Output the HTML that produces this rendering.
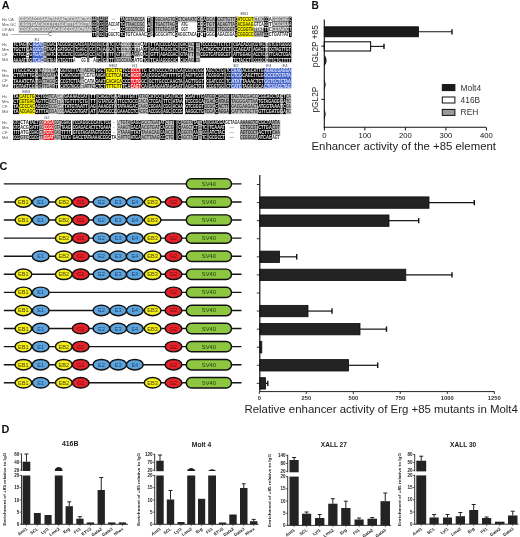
<!DOCTYPE html>
<html><head><meta charset="utf-8"><style>
html,body{margin:0;padding:0;background:#fff;width:520px;height:537px;overflow:hidden;}
svg{display:block;will-change:transform;}
</style></head><body>
<svg width="520" height="537" viewBox="0 0 520 537" font-family='"Liberation Sans", sans-serif'>
<rect width="520" height="537" fill="#fff"/>
<text x="1.7" y="8.7" font-size="10.9" font-weight="bold" fill="#111">A</text>
<text x="2" y="20.50" font-size="4.1" fill="#505050">Hs CA</text>
<rect x="18.80" y="16.70" width="73.50" height="5.70" fill="#8e8e8e"/>
<rect x="92.00" y="16.70" width="4.80" height="5.70" fill="#0a0a0a"/>
<rect x="96.50" y="16.70" width="2.80" height="5.70" fill="#bababa"/>
<rect x="99.00" y="16.70" width="4.80" height="5.70" fill="#0a0a0a"/>
<rect x="103.50" y="16.70" width="2.30" height="5.70" fill="#707070"/>
<rect x="105.50" y="16.70" width="2.80" height="5.70" fill="#0a0a0a"/>
<rect x="108.00" y="16.70" width="12.30" height="5.70" fill="#ffffff"/>
<rect x="120.00" y="16.70" width="5.30" height="5.70" fill="#0a0a0a"/>
<rect x="125.00" y="16.70" width="20.30" height="5.70" fill="#bababa"/>
<rect x="145.00" y="16.70" width="2.30" height="5.70" fill="#ffffff"/>
<rect x="147.00" y="16.70" width="3.80" height="5.70" fill="#0a0a0a"/>
<rect x="150.50" y="16.70" width="2.80" height="5.70" fill="#bababa"/>
<rect x="153.00" y="16.70" width="2.30" height="5.70" fill="#0a0a0a"/>
<rect x="155.00" y="16.70" width="20.30" height="5.70" fill="#bababa"/>
<rect x="175.00" y="16.70" width="2.80" height="5.70" fill="#0a0a0a"/>
<rect x="177.50" y="16.70" width="19.80" height="5.70" fill="#bababa"/>
<rect x="197.00" y="16.70" width="3.30" height="5.70" fill="#0a0a0a"/>
<rect x="200.00" y="16.70" width="3.30" height="5.70" fill="#707070"/>
<rect x="203.00" y="16.70" width="3.30" height="5.70" fill="#0a0a0a"/>
<rect x="206.00" y="16.70" width="9.30" height="5.70" fill="#bababa"/>
<rect x="215.00" y="16.70" width="2.30" height="5.70" fill="#0a0a0a"/>
<rect x="217.00" y="16.70" width="18.30" height="5.70" fill="#bababa"/>
<rect x="235.00" y="16.70" width="2.60" height="5.70" fill="#0a0a0a"/>
<rect x="237.30" y="16.70" width="16.70" height="5.70" fill="#f8f000"/>
<rect x="253.70" y="16.70" width="10.60" height="5.70" fill="#707070"/>
<rect x="264.00" y="16.70" width="4.80" height="5.70" fill="#0a0a0a"/>
<rect x="268.50" y="16.70" width="3.80" height="5.70" fill="#ffffff"/>
<rect x="272.00" y="16.70" width="17.30" height="5.70" fill="#707070"/>
<rect x="289.00" y="16.70" width="2.70" height="5.70" fill="#0a0a0a"/>
<text x="19.00" y="21.10" font-size="5.3" font-weight="bold" fill="#f6f6f6" textLength="72.80" lengthAdjust="spacingAndGlyphs">GGAGACCCGAACTACAACTCCAAACTGG</text>
<text x="92.20" y="21.10" font-size="5.3" font-weight="bold" fill="#f0f0f0" textLength="4.10" lengthAdjust="spacingAndGlyphs">AA</text>
<text x="96.70" y="21.10" font-size="5.3" font-weight="bold" fill="#303030" textLength="2.10" lengthAdjust="spacingAndGlyphs">A</text>
<text x="99.20" y="21.10" font-size="5.3" font-weight="bold" fill="#f0f0f0" textLength="4.10" lengthAdjust="spacingAndGlyphs">AA</text>
<text x="105.70" y="21.10" font-size="5.3" font-weight="bold" fill="#f0f0f0" textLength="2.10" lengthAdjust="spacingAndGlyphs">A</text>
<line x1="111.60" y1="19.25" x2="115.20" y2="19.25" stroke="#888" stroke-width="0.5"/>
<text x="120.20" y="21.10" font-size="5.3" font-weight="bold" fill="#f0f0f0" textLength="4.60" lengthAdjust="spacingAndGlyphs">TA</text>
<text x="125.20" y="21.10" font-size="5.3" font-weight="bold" fill="#303030" textLength="19.60" lengthAdjust="spacingAndGlyphs">CGTAGCCA</text>
<text x="147.20" y="21.10" font-size="5.3" font-weight="bold" fill="#f0f0f0" textLength="3.10" lengthAdjust="spacingAndGlyphs">T</text>
<text x="150.70" y="21.10" font-size="5.3" font-weight="bold" fill="#303030" textLength="2.10" lengthAdjust="spacingAndGlyphs">C</text>
<text x="155.20" y="21.10" font-size="5.3" font-weight="bold" fill="#303030" textLength="19.60" lengthAdjust="spacingAndGlyphs">GGCAAGTG</text>
<text x="175.20" y="21.10" font-size="5.3" font-weight="bold" fill="#f0f0f0" textLength="2.10" lengthAdjust="spacingAndGlyphs">C</text>
<text x="177.70" y="21.10" font-size="5.3" font-weight="bold" fill="#303030" textLength="19.10" lengthAdjust="spacingAndGlyphs">CTCAAATC</text>
<text x="197.20" y="21.10" font-size="5.3" font-weight="bold" fill="#f0f0f0" textLength="2.60" lengthAdjust="spacingAndGlyphs">G</text>
<text x="200.20" y="21.10" font-size="5.3" font-weight="bold" fill="#f4f4f4" textLength="2.60" lengthAdjust="spacingAndGlyphs">C</text>
<text x="203.20" y="21.10" font-size="5.3" font-weight="bold" fill="#f0f0f0" textLength="2.60" lengthAdjust="spacingAndGlyphs">A</text>
<text x="206.20" y="21.10" font-size="5.3" font-weight="bold" fill="#303030" textLength="8.60" lengthAdjust="spacingAndGlyphs">GCA</text>
<text x="217.20" y="21.10" font-size="5.3" font-weight="bold" fill="#303030" textLength="17.60" lengthAdjust="spacingAndGlyphs">CGTTGTT</text>
<text x="235.20" y="21.10" font-size="5.3" font-weight="bold" fill="#f0f0f0" textLength="1.90" lengthAdjust="spacingAndGlyphs">C</text>
<text x="237.50" y="21.10" font-size="5.3" font-weight="bold" fill="#303000" textLength="16.00" lengthAdjust="spacingAndGlyphs">ATCCGT</text>
<text x="253.90" y="21.10" font-size="5.3" font-weight="bold" fill="#f4f4f4" textLength="9.90" lengthAdjust="spacingAndGlyphs">CTAC</text>
<text x="264.20" y="21.10" font-size="5.3" font-weight="bold" fill="#f0f0f0" textLength="4.10" lengthAdjust="spacingAndGlyphs">CC</text>
<text x="268.70" y="21.10" font-size="5.3" font-weight="bold" fill="#202020" textLength="3.10" lengthAdjust="spacingAndGlyphs">A</text>
<text x="272.20" y="21.10" font-size="5.3" font-weight="bold" fill="#f4f4f4" textLength="16.60" lengthAdjust="spacingAndGlyphs">GGGCAAG</text>
<text x="289.20" y="21.10" font-size="5.3" font-weight="bold" fill="#f0f0f0" textLength="2.00" lengthAdjust="spacingAndGlyphs">C</text>
<text x="2" y="25.60" font-size="4.1" fill="#505050">Mm GC</text>
<rect x="18.80" y="21.80" width="73.50" height="5.70" fill="#8e8e8e"/>
<rect x="92.00" y="21.80" width="4.80" height="5.70" fill="#0a0a0a"/>
<rect x="96.50" y="21.80" width="2.80" height="5.70" fill="#bababa"/>
<rect x="99.00" y="21.80" width="4.80" height="5.70" fill="#0a0a0a"/>
<rect x="103.50" y="21.80" width="2.30" height="5.70" fill="#707070"/>
<rect x="105.50" y="21.80" width="2.80" height="5.70" fill="#0a0a0a"/>
<rect x="108.00" y="21.80" width="12.30" height="5.70" fill="#ffffff"/>
<rect x="120.00" y="21.80" width="5.30" height="5.70" fill="#0a0a0a"/>
<rect x="125.00" y="21.80" width="20.30" height="5.70" fill="#bababa"/>
<rect x="145.00" y="21.80" width="2.30" height="5.70" fill="#ffffff"/>
<rect x="147.00" y="21.80" width="3.80" height="5.70" fill="#0a0a0a"/>
<rect x="150.50" y="21.80" width="2.80" height="5.70" fill="#bababa"/>
<rect x="153.00" y="21.80" width="2.30" height="5.70" fill="#0a0a0a"/>
<rect x="155.00" y="21.80" width="20.30" height="5.70" fill="#bababa"/>
<rect x="175.00" y="21.80" width="2.80" height="5.70" fill="#0a0a0a"/>
<rect x="181.00" y="21.80" width="7.30" height="5.70" fill="#ffffff"/>
<rect x="197.00" y="21.80" width="3.30" height="5.70" fill="#0a0a0a"/>
<rect x="200.00" y="21.80" width="3.30" height="5.70" fill="#707070"/>
<rect x="203.00" y="21.80" width="3.30" height="5.70" fill="#0a0a0a"/>
<rect x="206.00" y="21.80" width="9.30" height="5.70" fill="#bababa"/>
<rect x="215.00" y="21.80" width="2.30" height="5.70" fill="#0a0a0a"/>
<rect x="217.00" y="21.80" width="18.30" height="5.70" fill="#bababa"/>
<rect x="235.00" y="21.80" width="2.60" height="5.70" fill="#0a0a0a"/>
<rect x="237.30" y="21.80" width="16.70" height="5.70" fill="#f8f000"/>
<rect x="253.70" y="21.80" width="10.60" height="5.70" fill="#ffffff"/>
<rect x="264.00" y="21.80" width="4.80" height="5.70" fill="#0a0a0a"/>
<rect x="268.50" y="21.80" width="3.80" height="5.70" fill="#ffffff"/>
<rect x="272.00" y="21.80" width="17.30" height="5.70" fill="#707070"/>
<rect x="289.00" y="21.80" width="2.70" height="5.70" fill="#0a0a0a"/>
<text x="19.00" y="26.20" font-size="5.3" font-weight="bold" fill="#f6f6f6" textLength="72.80" lengthAdjust="spacingAndGlyphs">CAGGTGACACCCTCTGCATTTGAGCTTA</text>
<text x="92.20" y="26.20" font-size="5.3" font-weight="bold" fill="#f0f0f0" textLength="4.10" lengthAdjust="spacingAndGlyphs">GG</text>
<text x="96.70" y="26.20" font-size="5.3" font-weight="bold" fill="#303030" textLength="2.10" lengthAdjust="spacingAndGlyphs">A</text>
<text x="99.20" y="26.20" font-size="5.3" font-weight="bold" fill="#f0f0f0" textLength="4.10" lengthAdjust="spacingAndGlyphs">CG</text>
<text x="105.70" y="26.20" font-size="5.3" font-weight="bold" fill="#f0f0f0" textLength="2.10" lengthAdjust="spacingAndGlyphs">G</text>
<text x="108.20" y="26.20" font-size="5.3" font-weight="bold" fill="#202020" textLength="11.60" lengthAdjust="spacingAndGlyphs">ACCAT</text>
<text x="120.20" y="26.20" font-size="5.3" font-weight="bold" fill="#f0f0f0" textLength="4.60" lengthAdjust="spacingAndGlyphs">TG</text>
<text x="125.20" y="26.20" font-size="5.3" font-weight="bold" fill="#303030" textLength="19.60" lengthAdjust="spacingAndGlyphs">TTAACCGC</text>
<text x="147.20" y="26.20" font-size="5.3" font-weight="bold" fill="#f0f0f0" textLength="3.10" lengthAdjust="spacingAndGlyphs">A</text>
<text x="150.70" y="26.20" font-size="5.3" font-weight="bold" fill="#303030" textLength="2.10" lengthAdjust="spacingAndGlyphs">C</text>
<text x="155.20" y="26.20" font-size="5.3" font-weight="bold" fill="#303030" textLength="19.60" lengthAdjust="spacingAndGlyphs">TGACTTAG</text>
<text x="175.20" y="26.20" font-size="5.3" font-weight="bold" fill="#f0f0f0" textLength="2.10" lengthAdjust="spacingAndGlyphs">G</text>
<text x="181.20" y="26.20" font-size="5.3" font-weight="bold" fill="#202020" textLength="6.60" lengthAdjust="spacingAndGlyphs">ATG</text>
<text x="197.20" y="26.20" font-size="5.3" font-weight="bold" fill="#f0f0f0" textLength="2.60" lengthAdjust="spacingAndGlyphs">C</text>
<text x="200.20" y="26.20" font-size="5.3" font-weight="bold" fill="#f4f4f4" textLength="2.60" lengthAdjust="spacingAndGlyphs">G</text>
<text x="203.20" y="26.20" font-size="5.3" font-weight="bold" fill="#f0f0f0" textLength="2.60" lengthAdjust="spacingAndGlyphs">G</text>
<text x="206.20" y="26.20" font-size="5.3" font-weight="bold" fill="#303030" textLength="8.60" lengthAdjust="spacingAndGlyphs">TGT</text>
<text x="217.20" y="26.20" font-size="5.3" font-weight="bold" fill="#303030" textLength="17.60" lengthAdjust="spacingAndGlyphs">ACAGTTA</text>
<text x="235.20" y="26.20" font-size="5.3" font-weight="bold" fill="#f0f0f0" textLength="1.90" lengthAdjust="spacingAndGlyphs">G</text>
<text x="237.50" y="26.20" font-size="5.3" font-weight="bold" fill="#303000" textLength="16.00" lengthAdjust="spacingAndGlyphs">ACGAAG</text>
<text x="253.90" y="26.20" font-size="5.3" font-weight="bold" fill="#202020" textLength="9.90" lengthAdjust="spacingAndGlyphs">GTCA</text>
<text x="264.20" y="26.20" font-size="5.3" font-weight="bold" fill="#f0f0f0" textLength="4.10" lengthAdjust="spacingAndGlyphs">GG</text>
<text x="268.70" y="26.20" font-size="5.3" font-weight="bold" fill="#202020" textLength="3.10" lengthAdjust="spacingAndGlyphs">T</text>
<text x="272.20" y="26.20" font-size="5.3" font-weight="bold" fill="#f4f4f4" textLength="16.60" lengthAdjust="spacingAndGlyphs">ACGCAAA</text>
<text x="289.20" y="26.20" font-size="5.3" font-weight="bold" fill="#f0f0f0" textLength="2.00" lengthAdjust="spacingAndGlyphs">A</text>
<text x="2" y="30.70" font-size="4.1" fill="#505050">CF AG</text>
<rect x="18.80" y="26.90" width="73.50" height="5.70" fill="#8e8e8e"/>
<rect x="92.00" y="26.90" width="4.80" height="5.70" fill="#0a0a0a"/>
<rect x="96.50" y="26.90" width="2.80" height="5.70" fill="#bababa"/>
<rect x="99.00" y="26.90" width="4.80" height="5.70" fill="#0a0a0a"/>
<rect x="103.50" y="26.90" width="2.30" height="5.70" fill="#707070"/>
<rect x="105.50" y="26.90" width="2.80" height="5.70" fill="#0a0a0a"/>
<rect x="108.00" y="26.90" width="12.30" height="5.70" fill="#ffffff"/>
<rect x="120.00" y="26.90" width="5.30" height="5.70" fill="#0a0a0a"/>
<rect x="125.00" y="26.90" width="20.30" height="5.70" fill="#bababa"/>
<rect x="145.00" y="26.90" width="2.30" height="5.70" fill="#ffffff"/>
<rect x="147.00" y="26.90" width="3.80" height="5.70" fill="#0a0a0a"/>
<rect x="150.50" y="26.90" width="2.80" height="5.70" fill="#bababa"/>
<rect x="153.00" y="26.90" width="2.30" height="5.70" fill="#0a0a0a"/>
<rect x="155.00" y="26.90" width="20.30" height="5.70" fill="#bababa"/>
<rect x="175.00" y="26.90" width="2.80" height="5.70" fill="#0a0a0a"/>
<rect x="181.00" y="26.90" width="7.30" height="5.70" fill="#ffffff"/>
<rect x="197.00" y="26.90" width="3.30" height="5.70" fill="#0a0a0a"/>
<rect x="200.00" y="26.90" width="3.30" height="5.70" fill="#707070"/>
<rect x="203.00" y="26.90" width="3.30" height="5.70" fill="#0a0a0a"/>
<rect x="206.00" y="26.90" width="9.30" height="5.70" fill="#bababa"/>
<rect x="215.00" y="26.90" width="2.30" height="5.70" fill="#0a0a0a"/>
<rect x="217.00" y="26.90" width="18.30" height="5.70" fill="#bababa"/>
<rect x="235.00" y="26.90" width="2.60" height="5.70" fill="#0a0a0a"/>
<rect x="237.30" y="26.90" width="16.70" height="5.70" fill="#f8f000"/>
<rect x="253.70" y="26.90" width="10.60" height="5.70" fill="#707070"/>
<rect x="264.00" y="26.90" width="4.80" height="5.70" fill="#0a0a0a"/>
<rect x="268.50" y="26.90" width="3.80" height="5.70" fill="#ffffff"/>
<rect x="272.00" y="26.90" width="17.30" height="5.70" fill="#707070"/>
<rect x="289.00" y="26.90" width="2.70" height="5.70" fill="#0a0a0a"/>
<text x="19.00" y="31.30" font-size="5.3" font-weight="bold" fill="#f6f6f6" textLength="72.80" lengthAdjust="spacingAndGlyphs">CCGAATCTCGCGAACAAGCCGAACTAAG</text>
<text x="92.20" y="31.30" font-size="5.3" font-weight="bold" fill="#f0f0f0" textLength="4.10" lengthAdjust="spacingAndGlyphs">GT</text>
<text x="96.70" y="31.30" font-size="5.3" font-weight="bold" fill="#303030" textLength="2.10" lengthAdjust="spacingAndGlyphs">G</text>
<text x="99.20" y="31.30" font-size="5.3" font-weight="bold" fill="#f0f0f0" textLength="4.10" lengthAdjust="spacingAndGlyphs">AG</text>
<text x="105.70" y="31.30" font-size="5.3" font-weight="bold" fill="#f0f0f0" textLength="2.10" lengthAdjust="spacingAndGlyphs">C</text>
<line x1="111.60" y1="29.45" x2="115.20" y2="29.45" stroke="#888" stroke-width="0.5"/>
<text x="120.20" y="31.30" font-size="5.3" font-weight="bold" fill="#f0f0f0" textLength="4.60" lengthAdjust="spacingAndGlyphs">CC</text>
<text x="125.20" y="31.30" font-size="5.3" font-weight="bold" fill="#303030" textLength="19.60" lengthAdjust="spacingAndGlyphs">CCCCTCGC</text>
<text x="147.20" y="31.30" font-size="5.3" font-weight="bold" fill="#f0f0f0" textLength="3.10" lengthAdjust="spacingAndGlyphs">T</text>
<text x="150.70" y="31.30" font-size="5.3" font-weight="bold" fill="#303030" textLength="2.10" lengthAdjust="spacingAndGlyphs">G</text>
<text x="155.20" y="31.30" font-size="5.3" font-weight="bold" fill="#303030" textLength="19.60" lengthAdjust="spacingAndGlyphs">TTCTGCAT</text>
<text x="175.20" y="31.30" font-size="5.3" font-weight="bold" fill="#f0f0f0" textLength="2.10" lengthAdjust="spacingAndGlyphs">C</text>
<text x="181.20" y="31.30" font-size="5.3" font-weight="bold" fill="#202020" textLength="6.60" lengthAdjust="spacingAndGlyphs">GGT</text>
<text x="197.20" y="31.30" font-size="5.3" font-weight="bold" fill="#f0f0f0" textLength="2.60" lengthAdjust="spacingAndGlyphs">C</text>
<text x="200.20" y="31.30" font-size="5.3" font-weight="bold" fill="#f4f4f4" textLength="2.60" lengthAdjust="spacingAndGlyphs">A</text>
<text x="203.20" y="31.30" font-size="5.3" font-weight="bold" fill="#f0f0f0" textLength="2.60" lengthAdjust="spacingAndGlyphs">C</text>
<text x="206.20" y="31.30" font-size="5.3" font-weight="bold" fill="#303030" textLength="8.60" lengthAdjust="spacingAndGlyphs">TGC</text>
<text x="217.20" y="31.30" font-size="5.3" font-weight="bold" fill="#303030" textLength="17.60" lengthAdjust="spacingAndGlyphs">TTCGGGT</text>
<text x="235.20" y="31.30" font-size="5.3" font-weight="bold" fill="#f0f0f0" textLength="1.90" lengthAdjust="spacingAndGlyphs">C</text>
<text x="237.50" y="31.30" font-size="5.3" font-weight="bold" fill="#303000" textLength="16.00" lengthAdjust="spacingAndGlyphs">CCGGTA</text>
<text x="253.90" y="31.30" font-size="5.3" font-weight="bold" fill="#f4f4f4" textLength="9.90" lengthAdjust="spacingAndGlyphs">TTAT</text>
<text x="264.20" y="31.30" font-size="5.3" font-weight="bold" fill="#f0f0f0" textLength="4.10" lengthAdjust="spacingAndGlyphs">TT</text>
<text x="268.70" y="31.30" font-size="5.3" font-weight="bold" fill="#202020" textLength="3.10" lengthAdjust="spacingAndGlyphs">C</text>
<text x="272.20" y="31.30" font-size="5.3" font-weight="bold" fill="#f4f4f4" textLength="16.60" lengthAdjust="spacingAndGlyphs">CGTAATC</text>
<text x="289.20" y="31.30" font-size="5.3" font-weight="bold" fill="#f0f0f0" textLength="2.00" lengthAdjust="spacingAndGlyphs">T</text>
<text x="2" y="35.80" font-size="4.1" fill="#505050">Md</text>
<rect x="92.00" y="32.00" width="4.80" height="5.10" fill="#0a0a0a"/>
<rect x="96.50" y="32.00" width="2.80" height="5.10" fill="#bababa"/>
<rect x="99.00" y="32.00" width="4.80" height="5.10" fill="#0a0a0a"/>
<rect x="103.50" y="32.00" width="2.30" height="5.10" fill="#707070"/>
<rect x="105.50" y="32.00" width="2.80" height="5.10" fill="#0a0a0a"/>
<rect x="108.00" y="32.00" width="12.30" height="5.10" fill="#ffffff"/>
<rect x="120.00" y="32.00" width="5.30" height="5.10" fill="#0a0a0a"/>
<rect x="125.00" y="32.00" width="22.30" height="5.10" fill="#ffffff"/>
<rect x="147.00" y="32.00" width="3.80" height="5.10" fill="#0a0a0a"/>
<rect x="150.50" y="32.00" width="2.80" height="5.10" fill="#ffffff"/>
<rect x="153.00" y="32.00" width="2.30" height="5.10" fill="#0a0a0a"/>
<rect x="155.00" y="32.00" width="20.30" height="5.10" fill="#ffffff"/>
<rect x="175.00" y="32.00" width="2.80" height="5.10" fill="#0a0a0a"/>
<rect x="177.50" y="32.00" width="19.80" height="5.10" fill="#ffffff"/>
<rect x="197.00" y="32.00" width="3.30" height="5.10" fill="#0a0a0a"/>
<rect x="200.00" y="32.00" width="3.30" height="5.10" fill="#ffffff"/>
<rect x="203.00" y="32.00" width="3.30" height="5.10" fill="#0a0a0a"/>
<rect x="206.00" y="32.00" width="9.30" height="5.10" fill="#ffffff"/>
<rect x="215.00" y="32.00" width="2.30" height="5.10" fill="#0a0a0a"/>
<rect x="217.00" y="32.00" width="18.30" height="5.10" fill="#ffffff"/>
<rect x="235.00" y="32.00" width="2.60" height="5.10" fill="#0a0a0a"/>
<rect x="237.30" y="32.00" width="16.70" height="5.10" fill="#f8f000"/>
<rect x="253.70" y="32.00" width="10.60" height="5.10" fill="#bababa"/>
<rect x="264.00" y="32.00" width="4.80" height="5.10" fill="#0a0a0a"/>
<rect x="268.50" y="32.00" width="20.80" height="5.10" fill="#ffffff"/>
<rect x="289.00" y="32.00" width="2.70" height="5.10" fill="#0a0a0a"/>
<text x="92.20" y="36.40" font-size="5.3" font-weight="bold" fill="#f0f0f0" textLength="4.10" lengthAdjust="spacingAndGlyphs">TT</text>
<text x="96.70" y="36.40" font-size="5.3" font-weight="bold" fill="#303030" textLength="2.10" lengthAdjust="spacingAndGlyphs">A</text>
<text x="99.20" y="36.40" font-size="5.3" font-weight="bold" fill="#f0f0f0" textLength="4.10" lengthAdjust="spacingAndGlyphs">GC</text>
<text x="105.70" y="36.40" font-size="5.3" font-weight="bold" fill="#f0f0f0" textLength="2.10" lengthAdjust="spacingAndGlyphs">T</text>
<text x="108.20" y="36.40" font-size="5.3" font-weight="bold" fill="#202020" textLength="11.60" lengthAdjust="spacingAndGlyphs">GGCTC</text>
<text x="120.20" y="36.40" font-size="5.3" font-weight="bold" fill="#f0f0f0" textLength="4.60" lengthAdjust="spacingAndGlyphs">TC</text>
<text x="125.20" y="36.40" font-size="5.3" font-weight="bold" fill="#202020" textLength="21.60" lengthAdjust="spacingAndGlyphs">TGTCAAAC</text>
<text x="147.20" y="36.40" font-size="5.3" font-weight="bold" fill="#f0f0f0" textLength="3.10" lengthAdjust="spacingAndGlyphs">G</text>
<text x="150.70" y="36.40" font-size="5.3" font-weight="bold" fill="#202020" textLength="2.10" lengthAdjust="spacingAndGlyphs">G</text>
<text x="155.20" y="36.40" font-size="5.3" font-weight="bold" fill="#202020" textLength="19.60" lengthAdjust="spacingAndGlyphs">GCGCATTC</text>
<text x="175.20" y="36.40" font-size="5.3" font-weight="bold" fill="#f0f0f0" textLength="2.10" lengthAdjust="spacingAndGlyphs">G</text>
<text x="177.70" y="36.40" font-size="5.3" font-weight="bold" fill="#202020" textLength="19.10" lengthAdjust="spacingAndGlyphs">AGGCTACA</text>
<text x="197.20" y="36.40" font-size="5.3" font-weight="bold" fill="#f0f0f0" textLength="2.60" lengthAdjust="spacingAndGlyphs">T</text>
<text x="200.20" y="36.40" font-size="5.3" font-weight="bold" fill="#202020" textLength="2.60" lengthAdjust="spacingAndGlyphs">C</text>
<text x="203.20" y="36.40" font-size="5.3" font-weight="bold" fill="#f0f0f0" textLength="2.60" lengthAdjust="spacingAndGlyphs">T</text>
<text x="206.20" y="36.40" font-size="5.3" font-weight="bold" fill="#202020" textLength="8.60" lengthAdjust="spacingAndGlyphs">GGG</text>
<text x="217.20" y="36.40" font-size="5.3" font-weight="bold" fill="#202020" textLength="17.60" lengthAdjust="spacingAndGlyphs">AGACGGA</text>
<text x="235.20" y="36.40" font-size="5.3" font-weight="bold" fill="#f0f0f0" textLength="1.90" lengthAdjust="spacingAndGlyphs">A</text>
<text x="237.50" y="36.40" font-size="5.3" font-weight="bold" fill="#303000" textLength="16.00" lengthAdjust="spacingAndGlyphs">CGGGCC</text>
<text x="253.90" y="36.40" font-size="5.3" font-weight="bold" fill="#303030" textLength="9.90" lengthAdjust="spacingAndGlyphs">GAAT</text>
<text x="264.20" y="36.40" font-size="5.3" font-weight="bold" fill="#f0f0f0" textLength="4.10" lengthAdjust="spacingAndGlyphs">GC</text>
<text x="268.70" y="36.40" font-size="5.3" font-weight="bold" fill="#202020" textLength="20.10" lengthAdjust="spacingAndGlyphs">CTGATTAT</text>
<text x="289.20" y="36.40" font-size="5.3" font-weight="bold" fill="#f0f0f0" textLength="2.00" lengthAdjust="spacingAndGlyphs">T</text>
<text x="2" y="45.83" font-size="4.1" fill="#505050">Hs</text>
<rect x="13.00" y="42.10" width="13.30" height="5.63" fill="#0a0a0a"/>
<rect x="26.00" y="42.10" width="3.30" height="5.63" fill="#707070"/>
<rect x="29.00" y="42.10" width="3.80" height="5.63" fill="#0a0a0a"/>
<rect x="32.50" y="42.10" width="11.10" height="5.63" fill="#4262c4"/>
<rect x="43.30" y="42.10" width="3.50" height="5.63" fill="#bababa"/>
<rect x="46.50" y="42.10" width="9.80" height="5.63" fill="#0a0a0a"/>
<rect x="56.00" y="42.10" width="1.30" height="5.63" fill="#ffffff"/>
<rect x="57.00" y="42.10" width="16.30" height="5.63" fill="#0a0a0a"/>
<rect x="73.00" y="42.10" width="2.30" height="5.63" fill="#707070"/>
<rect x="75.00" y="42.10" width="12.30" height="5.63" fill="#0a0a0a"/>
<rect x="87.00" y="42.10" width="2.30" height="5.63" fill="#707070"/>
<rect x="89.00" y="42.10" width="6.30" height="5.63" fill="#0a0a0a"/>
<rect x="95.00" y="42.10" width="1.80" height="5.63" fill="#707070"/>
<rect x="96.50" y="42.10" width="4.80" height="5.63" fill="#0a0a0a"/>
<rect x="101.00" y="42.10" width="1.80" height="5.63" fill="#707070"/>
<rect x="102.50" y="42.10" width="3.80" height="5.63" fill="#0a0a0a"/>
<rect x="106.00" y="42.10" width="3.30" height="5.63" fill="#707070"/>
<rect x="109.00" y="42.10" width="5.30" height="5.63" fill="#0a0a0a"/>
<rect x="114.00" y="42.10" width="2.30" height="5.63" fill="#707070"/>
<rect x="116.00" y="42.10" width="5.30" height="5.63" fill="#0a0a0a"/>
<rect x="121.00" y="42.10" width="10.30" height="5.63" fill="#707070"/>
<rect x="131.00" y="42.10" width="3.30" height="5.63" fill="#0a0a0a"/>
<rect x="134.00" y="42.10" width="6.30" height="5.63" fill="#707070"/>
<rect x="140.00" y="42.10" width="3.30" height="5.63" fill="#ffffff"/>
<rect x="143.00" y="42.10" width="5.30" height="5.63" fill="#0a0a0a"/>
<rect x="148.00" y="42.10" width="2.30" height="5.63" fill="#707070"/>
<rect x="150.00" y="42.10" width="9.30" height="5.63" fill="#0a0a0a"/>
<rect x="159.00" y="42.10" width="1.30" height="5.63" fill="#707070"/>
<rect x="160.00" y="42.10" width="18.30" height="5.63" fill="#0a0a0a"/>
<rect x="178.00" y="42.10" width="2.30" height="5.63" fill="#707070"/>
<rect x="180.00" y="42.10" width="8.30" height="5.63" fill="#0a0a0a"/>
<rect x="188.00" y="42.10" width="6.30" height="5.63" fill="#bababa"/>
<rect x="194.00" y="42.10" width="2.30" height="5.63" fill="#0a0a0a"/>
<rect x="196.00" y="42.10" width="4.30" height="5.63" fill="#bababa"/>
<rect x="200.00" y="42.10" width="31.30" height="5.63" fill="#0a0a0a"/>
<rect x="231.00" y="42.10" width="2.30" height="5.63" fill="#707070"/>
<rect x="233.00" y="42.10" width="18.30" height="5.63" fill="#0a0a0a"/>
<rect x="251.00" y="42.10" width="2.30" height="5.63" fill="#707070"/>
<rect x="253.00" y="42.10" width="12.30" height="5.63" fill="#0a0a0a"/>
<rect x="265.00" y="42.10" width="3.80" height="5.63" fill="#707070"/>
<rect x="268.50" y="42.10" width="22.80" height="5.63" fill="#0a0a0a"/>
<text x="13.20" y="46.43" font-size="5.3" font-weight="bold" fill="#f0f0f0" textLength="12.60" lengthAdjust="spacingAndGlyphs">TCTAG</text>
<text x="26.20" y="46.43" font-size="5.3" font-weight="bold" fill="#f4f4f4" textLength="2.60" lengthAdjust="spacingAndGlyphs">T</text>
<text x="29.20" y="46.43" font-size="5.3" font-weight="bold" fill="#f0f0f0" textLength="3.10" lengthAdjust="spacingAndGlyphs">C</text>
<text x="32.70" y="46.43" font-size="5.3" font-weight="bold" fill="#e8ecff" textLength="10.40" lengthAdjust="spacingAndGlyphs">AGAT</text>
<text x="43.50" y="46.43" font-size="5.3" font-weight="bold" fill="#303030" textLength="2.80" lengthAdjust="spacingAndGlyphs">G</text>
<text x="46.70" y="46.43" font-size="5.3" font-weight="bold" fill="#f0f0f0" textLength="9.10" lengthAdjust="spacingAndGlyphs">CGAC</text>
<text x="57.20" y="46.43" font-size="5.3" font-weight="bold" fill="#f0f0f0" textLength="15.60" lengthAdjust="spacingAndGlyphs">ACGCGC</text>
<text x="75.20" y="46.43" font-size="5.3" font-weight="bold" fill="#f0f0f0" textLength="11.60" lengthAdjust="spacingAndGlyphs">CACGA</text>
<text x="89.20" y="46.43" font-size="5.3" font-weight="bold" fill="#f0f0f0" textLength="5.60" lengthAdjust="spacingAndGlyphs">AG</text>
<text x="96.70" y="46.43" font-size="5.3" font-weight="bold" fill="#f0f0f0" textLength="4.10" lengthAdjust="spacingAndGlyphs">GG</text>
<text x="102.70" y="46.43" font-size="5.3" font-weight="bold" fill="#f0f0f0" textLength="3.10" lengthAdjust="spacingAndGlyphs">C</text>
<text x="106.20" y="46.43" font-size="5.3" font-weight="bold" fill="#f4f4f4" textLength="2.60" lengthAdjust="spacingAndGlyphs">A</text>
<text x="109.20" y="46.43" font-size="5.3" font-weight="bold" fill="#f0f0f0" textLength="4.60" lengthAdjust="spacingAndGlyphs">TC</text>
<text x="116.20" y="46.43" font-size="5.3" font-weight="bold" fill="#f0f0f0" textLength="4.60" lengthAdjust="spacingAndGlyphs">CA</text>
<text x="121.20" y="46.43" font-size="5.3" font-weight="bold" fill="#f4f4f4" textLength="9.60" lengthAdjust="spacingAndGlyphs">GGCC</text>
<text x="131.20" y="46.43" font-size="5.3" font-weight="bold" fill="#f0f0f0" textLength="2.60" lengthAdjust="spacingAndGlyphs">C</text>
<text x="134.20" y="46.43" font-size="5.3" font-weight="bold" fill="#f4f4f4" textLength="5.60" lengthAdjust="spacingAndGlyphs">CC</text>
<text x="140.20" y="46.43" font-size="5.3" font-weight="bold" fill="#202020" textLength="2.60" lengthAdjust="spacingAndGlyphs">C</text>
<text x="143.20" y="46.43" font-size="5.3" font-weight="bold" fill="#f0f0f0" textLength="4.60" lengthAdjust="spacingAndGlyphs">AT</text>
<text x="150.20" y="46.43" font-size="5.3" font-weight="bold" fill="#f0f0f0" textLength="8.60" lengthAdjust="spacingAndGlyphs">TTA</text>
<text x="160.20" y="46.43" font-size="5.3" font-weight="bold" fill="#f0f0f0" textLength="17.60" lengthAdjust="spacingAndGlyphs">CCCCACC</text>
<text x="180.20" y="46.43" font-size="5.3" font-weight="bold" fill="#f0f0f0" textLength="7.60" lengthAdjust="spacingAndGlyphs">GAC</text>
<text x="188.20" y="46.43" font-size="5.3" font-weight="bold" fill="#303030" textLength="5.60" lengthAdjust="spacingAndGlyphs">AC</text>
<text x="196.20" y="46.43" font-size="5.3" font-weight="bold" fill="#303030" textLength="3.60" lengthAdjust="spacingAndGlyphs">TT</text>
<text x="200.20" y="46.43" font-size="5.3" font-weight="bold" fill="#f0f0f0" textLength="30.60" lengthAdjust="spacingAndGlyphs">TCCCCCTTCTCT</text>
<text x="233.20" y="46.43" font-size="5.3" font-weight="bold" fill="#f0f0f0" textLength="17.60" lengthAdjust="spacingAndGlyphs">CGACACG</text>
<text x="253.20" y="46.43" font-size="5.3" font-weight="bold" fill="#f0f0f0" textLength="11.60" lengthAdjust="spacingAndGlyphs">CGTAC</text>
<text x="265.20" y="46.43" font-size="5.3" font-weight="bold" fill="#f4f4f4" textLength="3.10" lengthAdjust="spacingAndGlyphs">T</text>
<text x="268.70" y="46.43" font-size="5.3" font-weight="bold" fill="#f0f0f0" textLength="22.10" lengthAdjust="spacingAndGlyphs">GTCGTGGGG</text>
<text x="2" y="50.86" font-size="4.1" fill="#505050">Mm</text>
<rect x="13.00" y="47.13" width="13.30" height="5.63" fill="#0a0a0a"/>
<rect x="26.00" y="47.13" width="3.30" height="5.63" fill="#707070"/>
<rect x="29.00" y="47.13" width="3.80" height="5.63" fill="#0a0a0a"/>
<rect x="32.50" y="47.13" width="11.10" height="5.63" fill="#4262c4"/>
<rect x="43.30" y="47.13" width="3.50" height="5.63" fill="#bababa"/>
<rect x="46.50" y="47.13" width="9.80" height="5.63" fill="#0a0a0a"/>
<rect x="56.00" y="47.13" width="1.30" height="5.63" fill="#ffffff"/>
<rect x="57.00" y="47.13" width="16.30" height="5.63" fill="#0a0a0a"/>
<rect x="73.00" y="47.13" width="2.30" height="5.63" fill="#707070"/>
<rect x="75.00" y="47.13" width="12.30" height="5.63" fill="#0a0a0a"/>
<rect x="87.00" y="47.13" width="2.30" height="5.63" fill="#707070"/>
<rect x="89.00" y="47.13" width="6.30" height="5.63" fill="#0a0a0a"/>
<rect x="95.00" y="47.13" width="1.80" height="5.63" fill="#707070"/>
<rect x="96.50" y="47.13" width="4.80" height="5.63" fill="#0a0a0a"/>
<rect x="101.00" y="47.13" width="1.80" height="5.63" fill="#707070"/>
<rect x="102.50" y="47.13" width="3.80" height="5.63" fill="#0a0a0a"/>
<rect x="106.00" y="47.13" width="3.30" height="5.63" fill="#707070"/>
<rect x="109.00" y="47.13" width="5.30" height="5.63" fill="#0a0a0a"/>
<rect x="114.00" y="47.13" width="2.30" height="5.63" fill="#707070"/>
<rect x="116.00" y="47.13" width="5.30" height="5.63" fill="#0a0a0a"/>
<rect x="121.00" y="47.13" width="10.30" height="5.63" fill="#707070"/>
<rect x="131.00" y="47.13" width="3.30" height="5.63" fill="#0a0a0a"/>
<rect x="134.00" y="47.13" width="6.30" height="5.63" fill="#707070"/>
<rect x="140.00" y="47.13" width="3.30" height="5.63" fill="#ffffff"/>
<rect x="143.00" y="47.13" width="5.30" height="5.63" fill="#0a0a0a"/>
<rect x="148.00" y="47.13" width="2.30" height="5.63" fill="#707070"/>
<rect x="150.00" y="47.13" width="9.30" height="5.63" fill="#0a0a0a"/>
<rect x="159.00" y="47.13" width="1.30" height="5.63" fill="#707070"/>
<rect x="160.00" y="47.13" width="18.30" height="5.63" fill="#0a0a0a"/>
<rect x="178.00" y="47.13" width="2.30" height="5.63" fill="#707070"/>
<rect x="180.00" y="47.13" width="8.30" height="5.63" fill="#0a0a0a"/>
<rect x="188.00" y="47.13" width="6.30" height="5.63" fill="#bababa"/>
<rect x="194.00" y="47.13" width="2.30" height="5.63" fill="#0a0a0a"/>
<rect x="196.00" y="47.13" width="4.30" height="5.63" fill="#bababa"/>
<rect x="200.00" y="47.13" width="31.30" height="5.63" fill="#0a0a0a"/>
<rect x="231.00" y="47.13" width="2.30" height="5.63" fill="#707070"/>
<rect x="233.00" y="47.13" width="18.30" height="5.63" fill="#0a0a0a"/>
<rect x="251.00" y="47.13" width="2.30" height="5.63" fill="#707070"/>
<rect x="253.00" y="47.13" width="12.30" height="5.63" fill="#0a0a0a"/>
<rect x="265.00" y="47.13" width="3.80" height="5.63" fill="#707070"/>
<rect x="268.50" y="47.13" width="22.80" height="5.63" fill="#0a0a0a"/>
<text x="13.20" y="51.46" font-size="5.3" font-weight="bold" fill="#f0f0f0" textLength="12.60" lengthAdjust="spacingAndGlyphs">TGCTT</text>
<text x="26.20" y="51.46" font-size="5.3" font-weight="bold" fill="#f4f4f4" textLength="2.60" lengthAdjust="spacingAndGlyphs">C</text>
<text x="29.20" y="51.46" font-size="5.3" font-weight="bold" fill="#f0f0f0" textLength="3.10" lengthAdjust="spacingAndGlyphs">A</text>
<text x="32.70" y="51.46" font-size="5.3" font-weight="bold" fill="#e8ecff" textLength="10.40" lengthAdjust="spacingAndGlyphs">CGGT</text>
<text x="43.50" y="51.46" font-size="5.3" font-weight="bold" fill="#303030" textLength="2.80" lengthAdjust="spacingAndGlyphs">G</text>
<text x="46.70" y="51.46" font-size="5.3" font-weight="bold" fill="#f0f0f0" textLength="9.10" lengthAdjust="spacingAndGlyphs">TACA</text>
<text x="57.20" y="51.46" font-size="5.3" font-weight="bold" fill="#f0f0f0" textLength="15.60" lengthAdjust="spacingAndGlyphs">GATGGC</text>
<text x="75.20" y="51.46" font-size="5.3" font-weight="bold" fill="#f0f0f0" textLength="11.60" lengthAdjust="spacingAndGlyphs">TGAGC</text>
<text x="89.20" y="51.46" font-size="5.3" font-weight="bold" fill="#f0f0f0" textLength="5.60" lengthAdjust="spacingAndGlyphs">CC</text>
<text x="96.70" y="51.46" font-size="5.3" font-weight="bold" fill="#f0f0f0" textLength="4.10" lengthAdjust="spacingAndGlyphs">TA</text>
<text x="102.70" y="51.46" font-size="5.3" font-weight="bold" fill="#f0f0f0" textLength="3.10" lengthAdjust="spacingAndGlyphs">A</text>
<text x="106.20" y="51.46" font-size="5.3" font-weight="bold" fill="#f4f4f4" textLength="2.60" lengthAdjust="spacingAndGlyphs">G</text>
<text x="109.20" y="51.46" font-size="5.3" font-weight="bold" fill="#f0f0f0" textLength="4.60" lengthAdjust="spacingAndGlyphs">CA</text>
<text x="116.20" y="51.46" font-size="5.3" font-weight="bold" fill="#f0f0f0" textLength="4.60" lengthAdjust="spacingAndGlyphs">TC</text>
<text x="121.20" y="51.46" font-size="5.3" font-weight="bold" fill="#f4f4f4" textLength="9.60" lengthAdjust="spacingAndGlyphs">CCTC</text>
<text x="131.20" y="51.46" font-size="5.3" font-weight="bold" fill="#f0f0f0" textLength="2.60" lengthAdjust="spacingAndGlyphs">C</text>
<text x="134.20" y="51.46" font-size="5.3" font-weight="bold" fill="#f4f4f4" textLength="5.60" lengthAdjust="spacingAndGlyphs">TT</text>
<text x="140.20" y="51.46" font-size="5.3" font-weight="bold" fill="#202020" textLength="2.60" lengthAdjust="spacingAndGlyphs">A</text>
<text x="143.20" y="51.46" font-size="5.3" font-weight="bold" fill="#f0f0f0" textLength="4.60" lengthAdjust="spacingAndGlyphs">GT</text>
<text x="150.20" y="51.46" font-size="5.3" font-weight="bold" fill="#f0f0f0" textLength="8.60" lengthAdjust="spacingAndGlyphs">GAG</text>
<text x="160.20" y="51.46" font-size="5.3" font-weight="bold" fill="#f0f0f0" textLength="17.60" lengthAdjust="spacingAndGlyphs">TAGCCAC</text>
<text x="180.20" y="51.46" font-size="5.3" font-weight="bold" fill="#f0f0f0" textLength="7.60" lengthAdjust="spacingAndGlyphs">TGC</text>
<text x="188.20" y="51.46" font-size="5.3" font-weight="bold" fill="#303030" textLength="5.60" lengthAdjust="spacingAndGlyphs">TA</text>
<text x="196.20" y="51.46" font-size="5.3" font-weight="bold" fill="#303030" textLength="3.60" lengthAdjust="spacingAndGlyphs">TG</text>
<text x="200.20" y="51.46" font-size="5.3" font-weight="bold" fill="#f0f0f0" textLength="30.60" lengthAdjust="spacingAndGlyphs">ACTAGCTCATCT</text>
<text x="233.20" y="51.46" font-size="5.3" font-weight="bold" fill="#f0f0f0" textLength="17.60" lengthAdjust="spacingAndGlyphs">CCAGCAT</text>
<text x="253.20" y="51.46" font-size="5.3" font-weight="bold" fill="#f0f0f0" textLength="11.60" lengthAdjust="spacingAndGlyphs">AGACT</text>
<text x="265.20" y="51.46" font-size="5.3" font-weight="bold" fill="#f4f4f4" textLength="3.10" lengthAdjust="spacingAndGlyphs">T</text>
<text x="268.70" y="51.46" font-size="5.3" font-weight="bold" fill="#f0f0f0" textLength="22.10" lengthAdjust="spacingAndGlyphs">CGTAGTTGT</text>
<text x="2" y="55.89" font-size="4.1" fill="#505050">CF</text>
<rect x="13.00" y="52.16" width="13.30" height="5.63" fill="#0a0a0a"/>
<rect x="26.00" y="52.16" width="3.30" height="5.63" fill="#ffffff"/>
<rect x="29.00" y="52.16" width="3.80" height="5.63" fill="#0a0a0a"/>
<rect x="32.50" y="52.16" width="11.10" height="5.63" fill="#4262c4"/>
<rect x="43.30" y="52.16" width="3.50" height="5.63" fill="#bababa"/>
<rect x="46.50" y="52.16" width="9.80" height="5.63" fill="#0a0a0a"/>
<rect x="56.00" y="52.16" width="1.30" height="5.63" fill="#ffffff"/>
<rect x="57.00" y="52.16" width="16.30" height="5.63" fill="#0a0a0a"/>
<rect x="73.00" y="52.16" width="2.30" height="5.63" fill="#707070"/>
<rect x="75.00" y="52.16" width="12.30" height="5.63" fill="#0a0a0a"/>
<rect x="87.00" y="52.16" width="2.30" height="5.63" fill="#707070"/>
<rect x="89.00" y="52.16" width="6.30" height="5.63" fill="#0a0a0a"/>
<rect x="95.00" y="52.16" width="1.80" height="5.63" fill="#707070"/>
<rect x="96.50" y="52.16" width="4.80" height="5.63" fill="#0a0a0a"/>
<rect x="101.00" y="52.16" width="1.80" height="5.63" fill="#707070"/>
<rect x="102.50" y="52.16" width="3.80" height="5.63" fill="#0a0a0a"/>
<rect x="106.00" y="52.16" width="3.30" height="5.63" fill="#707070"/>
<rect x="109.00" y="52.16" width="5.30" height="5.63" fill="#0a0a0a"/>
<rect x="114.00" y="52.16" width="2.30" height="5.63" fill="#707070"/>
<rect x="116.00" y="52.16" width="5.30" height="5.63" fill="#0a0a0a"/>
<rect x="121.00" y="52.16" width="10.30" height="5.63" fill="#707070"/>
<rect x="131.00" y="52.16" width="3.30" height="5.63" fill="#0a0a0a"/>
<rect x="134.00" y="52.16" width="6.30" height="5.63" fill="#bababa"/>
<rect x="140.00" y="52.16" width="3.30" height="5.63" fill="#ffffff"/>
<rect x="143.00" y="52.16" width="5.30" height="5.63" fill="#0a0a0a"/>
<rect x="148.00" y="52.16" width="2.30" height="5.63" fill="#707070"/>
<rect x="150.00" y="52.16" width="9.30" height="5.63" fill="#0a0a0a"/>
<rect x="159.00" y="52.16" width="1.30" height="5.63" fill="#707070"/>
<rect x="160.00" y="52.16" width="18.30" height="5.63" fill="#0a0a0a"/>
<rect x="178.00" y="52.16" width="2.30" height="5.63" fill="#707070"/>
<rect x="180.00" y="52.16" width="8.30" height="5.63" fill="#0a0a0a"/>
<rect x="188.00" y="52.16" width="6.30" height="5.63" fill="#bababa"/>
<rect x="194.00" y="52.16" width="2.30" height="5.63" fill="#0a0a0a"/>
<rect x="196.00" y="52.16" width="4.30" height="5.63" fill="#bababa"/>
<rect x="200.00" y="52.16" width="31.30" height="5.63" fill="#0a0a0a"/>
<rect x="231.00" y="52.16" width="2.30" height="5.63" fill="#707070"/>
<rect x="233.00" y="52.16" width="18.30" height="5.63" fill="#0a0a0a"/>
<rect x="251.00" y="52.16" width="2.30" height="5.63" fill="#707070"/>
<rect x="253.00" y="52.16" width="12.30" height="5.63" fill="#0a0a0a"/>
<rect x="265.00" y="52.16" width="3.80" height="5.63" fill="#707070"/>
<rect x="268.50" y="52.16" width="22.80" height="5.63" fill="#0a0a0a"/>
<text x="13.20" y="56.49" font-size="5.3" font-weight="bold" fill="#f0f0f0" textLength="12.60" lengthAdjust="spacingAndGlyphs">CTTCC</text>
<text x="26.20" y="56.49" font-size="5.3" font-weight="bold" fill="#202020" textLength="2.60" lengthAdjust="spacingAndGlyphs">G</text>
<text x="29.20" y="56.49" font-size="5.3" font-weight="bold" fill="#f0f0f0" textLength="3.10" lengthAdjust="spacingAndGlyphs">G</text>
<text x="32.70" y="56.49" font-size="5.3" font-weight="bold" fill="#e8ecff" textLength="10.40" lengthAdjust="spacingAndGlyphs">TGAT</text>
<text x="43.50" y="56.49" font-size="5.3" font-weight="bold" fill="#303030" textLength="2.80" lengthAdjust="spacingAndGlyphs">A</text>
<text x="46.70" y="56.49" font-size="5.3" font-weight="bold" fill="#f0f0f0" textLength="9.10" lengthAdjust="spacingAndGlyphs">AATC</text>
<text x="57.20" y="56.49" font-size="5.3" font-weight="bold" fill="#f0f0f0" textLength="15.60" lengthAdjust="spacingAndGlyphs">CTCCTC</text>
<text x="75.20" y="56.49" font-size="5.3" font-weight="bold" fill="#f0f0f0" textLength="11.60" lengthAdjust="spacingAndGlyphs">CGGAG</text>
<text x="89.20" y="56.49" font-size="5.3" font-weight="bold" fill="#f0f0f0" textLength="5.60" lengthAdjust="spacingAndGlyphs">CC</text>
<text x="96.70" y="56.49" font-size="5.3" font-weight="bold" fill="#f0f0f0" textLength="4.10" lengthAdjust="spacingAndGlyphs">AC</text>
<text x="102.70" y="56.49" font-size="5.3" font-weight="bold" fill="#f0f0f0" textLength="3.10" lengthAdjust="spacingAndGlyphs">T</text>
<text x="106.20" y="56.49" font-size="5.3" font-weight="bold" fill="#f4f4f4" textLength="2.60" lengthAdjust="spacingAndGlyphs">T</text>
<text x="109.20" y="56.49" font-size="5.3" font-weight="bold" fill="#f0f0f0" textLength="4.60" lengthAdjust="spacingAndGlyphs">TT</text>
<text x="116.20" y="56.49" font-size="5.3" font-weight="bold" fill="#f0f0f0" textLength="4.60" lengthAdjust="spacingAndGlyphs">GT</text>
<text x="121.20" y="56.49" font-size="5.3" font-weight="bold" fill="#f4f4f4" textLength="9.60" lengthAdjust="spacingAndGlyphs">TTGG</text>
<text x="131.20" y="56.49" font-size="5.3" font-weight="bold" fill="#f0f0f0" textLength="2.60" lengthAdjust="spacingAndGlyphs">A</text>
<text x="134.20" y="56.49" font-size="5.3" font-weight="bold" fill="#303030" textLength="5.60" lengthAdjust="spacingAndGlyphs">GA</text>
<text x="140.20" y="56.49" font-size="5.3" font-weight="bold" fill="#202020" textLength="2.60" lengthAdjust="spacingAndGlyphs">G</text>
<text x="143.20" y="56.49" font-size="5.3" font-weight="bold" fill="#f0f0f0" textLength="4.60" lengthAdjust="spacingAndGlyphs">AC</text>
<text x="150.20" y="56.49" font-size="5.3" font-weight="bold" fill="#f0f0f0" textLength="8.60" lengthAdjust="spacingAndGlyphs">GTT</text>
<text x="160.20" y="56.49" font-size="5.3" font-weight="bold" fill="#f0f0f0" textLength="17.60" lengthAdjust="spacingAndGlyphs">AGACGAC</text>
<text x="180.20" y="56.49" font-size="5.3" font-weight="bold" fill="#f0f0f0" textLength="7.60" lengthAdjust="spacingAndGlyphs">GTA</text>
<text x="188.20" y="56.49" font-size="5.3" font-weight="bold" fill="#303030" textLength="5.60" lengthAdjust="spacingAndGlyphs">TT</text>
<text x="196.20" y="56.49" font-size="5.3" font-weight="bold" fill="#303030" textLength="3.60" lengthAdjust="spacingAndGlyphs">TA</text>
<text x="200.20" y="56.49" font-size="5.3" font-weight="bold" fill="#f0f0f0" textLength="30.60" lengthAdjust="spacingAndGlyphs">CGGTCATGGCGT</text>
<text x="233.20" y="56.49" font-size="5.3" font-weight="bold" fill="#f0f0f0" textLength="17.60" lengthAdjust="spacingAndGlyphs">ATTGGAG</text>
<text x="253.20" y="56.49" font-size="5.3" font-weight="bold" fill="#f0f0f0" textLength="11.60" lengthAdjust="spacingAndGlyphs">ACCTC</text>
<text x="265.20" y="56.49" font-size="5.3" font-weight="bold" fill="#f4f4f4" textLength="3.10" lengthAdjust="spacingAndGlyphs">G</text>
<text x="268.70" y="56.49" font-size="5.3" font-weight="bold" fill="#f0f0f0" textLength="22.10" lengthAdjust="spacingAndGlyphs">TTCACTCGA</text>
<text x="2" y="60.92" font-size="4.1" fill="#505050">Md</text>
<rect x="13.00" y="57.19" width="13.30" height="5.03" fill="#0a0a0a"/>
<rect x="26.00" y="57.19" width="3.30" height="5.03" fill="#707070"/>
<rect x="29.00" y="57.19" width="3.80" height="5.03" fill="#0a0a0a"/>
<rect x="32.50" y="57.19" width="11.10" height="5.03" fill="#4262c4"/>
<rect x="43.30" y="57.19" width="3.50" height="5.03" fill="#bababa"/>
<rect x="46.50" y="57.19" width="9.80" height="5.03" fill="#0a0a0a"/>
<rect x="56.00" y="57.19" width="1.30" height="5.03" fill="#ffffff"/>
<rect x="57.00" y="57.19" width="16.30" height="5.03" fill="#0a0a0a"/>
<rect x="73.00" y="57.19" width="2.80" height="5.03" fill="#ffffff"/>
<rect x="81.00" y="57.19" width="5.30" height="5.03" fill="#ffffff"/>
<rect x="87.00" y="57.19" width="2.30" height="5.03" fill="#707070"/>
<rect x="93.00" y="57.19" width="3.30" height="5.03" fill="#ffffff"/>
<rect x="96.50" y="57.19" width="4.80" height="5.03" fill="#0a0a0a"/>
<rect x="101.00" y="57.19" width="1.80" height="5.03" fill="#707070"/>
<rect x="102.50" y="57.19" width="3.80" height="5.03" fill="#0a0a0a"/>
<rect x="106.00" y="57.19" width="3.30" height="5.03" fill="#707070"/>
<rect x="109.00" y="57.19" width="5.30" height="5.03" fill="#0a0a0a"/>
<rect x="114.00" y="57.19" width="2.30" height="5.03" fill="#707070"/>
<rect x="116.00" y="57.19" width="15.30" height="5.03" fill="#bababa"/>
<rect x="131.00" y="57.19" width="3.30" height="5.03" fill="#0a0a0a"/>
<rect x="134.00" y="57.19" width="9.30" height="5.03" fill="#ffffff"/>
<rect x="143.00" y="57.19" width="5.30" height="5.03" fill="#0a0a0a"/>
<rect x="148.00" y="57.19" width="2.30" height="5.03" fill="#707070"/>
<rect x="150.00" y="57.19" width="9.30" height="5.03" fill="#0a0a0a"/>
<rect x="159.00" y="57.19" width="1.30" height="5.03" fill="#707070"/>
<rect x="160.00" y="57.19" width="18.30" height="5.03" fill="#0a0a0a"/>
<rect x="178.00" y="57.19" width="2.30" height="5.03" fill="#ffffff"/>
<rect x="180.00" y="57.19" width="8.30" height="5.03" fill="#0a0a0a"/>
<rect x="188.00" y="57.19" width="6.30" height="5.03" fill="#bababa"/>
<rect x="194.00" y="57.19" width="2.30" height="5.03" fill="#0a0a0a"/>
<rect x="196.00" y="57.19" width="4.30" height="5.03" fill="#bababa"/>
<rect x="230.00" y="57.19" width="2.30" height="5.03" fill="#ffffff"/>
<rect x="233.00" y="57.19" width="18.30" height="5.03" fill="#0a0a0a"/>
<rect x="251.00" y="57.19" width="2.30" height="5.03" fill="#707070"/>
<rect x="253.00" y="57.19" width="12.30" height="5.03" fill="#0a0a0a"/>
<rect x="265.00" y="57.19" width="3.80" height="5.03" fill="#707070"/>
<rect x="268.50" y="57.19" width="22.80" height="5.03" fill="#0a0a0a"/>
<text x="13.20" y="61.52" font-size="5.3" font-weight="bold" fill="#f0f0f0" textLength="12.60" lengthAdjust="spacingAndGlyphs">AAAAT</text>
<text x="26.20" y="61.52" font-size="5.3" font-weight="bold" fill="#f4f4f4" textLength="2.60" lengthAdjust="spacingAndGlyphs">T</text>
<text x="29.20" y="61.52" font-size="5.3" font-weight="bold" fill="#f0f0f0" textLength="3.10" lengthAdjust="spacingAndGlyphs">G</text>
<text x="32.70" y="61.52" font-size="5.3" font-weight="bold" fill="#e8ecff" textLength="10.40" lengthAdjust="spacingAndGlyphs">TCAC</text>
<text x="43.50" y="61.52" font-size="5.3" font-weight="bold" fill="#303030" textLength="2.80" lengthAdjust="spacingAndGlyphs">G</text>
<text x="46.70" y="61.52" font-size="5.3" font-weight="bold" fill="#f0f0f0" textLength="9.10" lengthAdjust="spacingAndGlyphs">GTAA</text>
<text x="57.20" y="61.52" font-size="5.3" font-weight="bold" fill="#f0f0f0" textLength="15.60" lengthAdjust="spacingAndGlyphs">GTCGTT</text>
<text x="73.20" y="61.52" font-size="5.3" font-weight="bold" fill="#202020" textLength="2.10" lengthAdjust="spacingAndGlyphs">A</text>
<text x="81.20" y="61.52" font-size="5.3" font-weight="bold" fill="#202020" textLength="4.60" lengthAdjust="spacingAndGlyphs">GG</text>
<text x="93.20" y="61.52" font-size="5.3" font-weight="bold" fill="#202020" textLength="2.60" lengthAdjust="spacingAndGlyphs">A</text>
<text x="96.70" y="61.52" font-size="5.3" font-weight="bold" fill="#f0f0f0" textLength="4.10" lengthAdjust="spacingAndGlyphs">TC</text>
<text x="102.70" y="61.52" font-size="5.3" font-weight="bold" fill="#f0f0f0" textLength="3.10" lengthAdjust="spacingAndGlyphs">G</text>
<text x="106.20" y="61.52" font-size="5.3" font-weight="bold" fill="#f4f4f4" textLength="2.60" lengthAdjust="spacingAndGlyphs">A</text>
<text x="109.20" y="61.52" font-size="5.3" font-weight="bold" fill="#f0f0f0" textLength="4.60" lengthAdjust="spacingAndGlyphs">TT</text>
<text x="116.20" y="61.52" font-size="5.3" font-weight="bold" fill="#303030" textLength="14.60" lengthAdjust="spacingAndGlyphs">CGCCAA</text>
<text x="131.20" y="61.52" font-size="5.3" font-weight="bold" fill="#f0f0f0" textLength="2.60" lengthAdjust="spacingAndGlyphs">G</text>
<text x="134.20" y="61.52" font-size="5.3" font-weight="bold" fill="#202020" textLength="8.60" lengthAdjust="spacingAndGlyphs">ATG</text>
<text x="143.20" y="61.52" font-size="5.3" font-weight="bold" fill="#f0f0f0" textLength="4.60" lengthAdjust="spacingAndGlyphs">TG</text>
<text x="150.20" y="61.52" font-size="5.3" font-weight="bold" fill="#f0f0f0" textLength="8.60" lengthAdjust="spacingAndGlyphs">TCA</text>
<text x="160.20" y="61.52" font-size="5.3" font-weight="bold" fill="#f0f0f0" textLength="17.60" lengthAdjust="spacingAndGlyphs">AGGGCAC</text>
<text x="180.20" y="61.52" font-size="5.3" font-weight="bold" fill="#f0f0f0" textLength="7.60" lengthAdjust="spacingAndGlyphs">CAG</text>
<text x="188.20" y="61.52" font-size="5.3" font-weight="bold" fill="#303030" textLength="5.60" lengthAdjust="spacingAndGlyphs">AG</text>
<text x="196.20" y="61.52" font-size="5.3" font-weight="bold" fill="#303030" textLength="3.60" lengthAdjust="spacingAndGlyphs">CG</text>
<text x="233.20" y="61.52" font-size="5.3" font-weight="bold" fill="#f0f0f0" textLength="17.60" lengthAdjust="spacingAndGlyphs">TCTACCT</text>
<text x="253.20" y="61.52" font-size="5.3" font-weight="bold" fill="#f0f0f0" textLength="11.60" lengthAdjust="spacingAndGlyphs">CCCGC</text>
<text x="265.20" y="61.52" font-size="5.3" font-weight="bold" fill="#f4f4f4" textLength="3.10" lengthAdjust="spacingAndGlyphs">C</text>
<text x="268.70" y="61.52" font-size="5.3" font-weight="bold" fill="#f0f0f0" textLength="22.10" lengthAdjust="spacingAndGlyphs">TTCTCTTTT</text>
<text x="2" y="71.77" font-size="4.1" fill="#505050">Hs</text>
<rect x="13.00" y="68.00" width="22.30" height="5.67" fill="#0a0a0a"/>
<rect x="35.00" y="68.00" width="3.30" height="5.67" fill="#707070"/>
<rect x="38.00" y="68.00" width="4.30" height="5.67" fill="#0a0a0a"/>
<rect x="42.00" y="68.00" width="13.30" height="5.67" fill="#707070"/>
<rect x="55.00" y="68.00" width="3.30" height="5.67" fill="#0a0a0a"/>
<rect x="58.00" y="68.00" width="2.30" height="5.67" fill="#ffffff"/>
<rect x="60.00" y="68.00" width="20.30" height="5.67" fill="#0a0a0a"/>
<rect x="80.00" y="68.00" width="4.30" height="5.67" fill="#707070"/>
<rect x="84.00" y="68.00" width="11.30" height="5.67" fill="#bababa"/>
<rect x="95.00" y="68.00" width="11.00" height="5.67" fill="#0a0a0a"/>
<rect x="105.70" y="68.00" width="16.60" height="5.67" fill="#f8f000"/>
<rect x="122.00" y="68.00" width="8.80" height="5.67" fill="#0a0a0a"/>
<rect x="130.50" y="68.00" width="10.80" height="5.67" fill="#ee2027"/>
<rect x="141.00" y="68.00" width="6.30" height="5.67" fill="#0a0a0a"/>
<rect x="147.00" y="68.00" width="1.80" height="5.67" fill="#0a0a0a"/>
<rect x="148.50" y="68.00" width="34.80" height="5.67" fill="#0a0a0a"/>
<rect x="183.00" y="68.00" width="2.30" height="5.67" fill="#707070"/>
<rect x="185.00" y="68.00" width="19.30" height="5.67" fill="#0a0a0a"/>
<rect x="204.00" y="68.00" width="2.30" height="5.67" fill="#ffffff"/>
<rect x="206.00" y="68.00" width="18.30" height="5.67" fill="#0a0a0a"/>
<rect x="224.00" y="68.00" width="2.30" height="5.67" fill="#707070"/>
<rect x="226.00" y="68.00" width="5.30" height="5.67" fill="#0a0a0a"/>
<rect x="231.00" y="68.00" width="11.30" height="5.67" fill="#4262c4"/>
<rect x="242.00" y="68.00" width="22.30" height="5.67" fill="#0a0a0a"/>
<rect x="264.00" y="68.00" width="27.30" height="5.67" fill="#4262c4"/>
<text x="13.20" y="72.37" font-size="5.3" font-weight="bold" fill="#f0f0f0" textLength="21.60" lengthAdjust="spacingAndGlyphs">TTGCCACC</text>
<text x="35.20" y="72.37" font-size="5.3" font-weight="bold" fill="#f4f4f4" textLength="2.60" lengthAdjust="spacingAndGlyphs">G</text>
<text x="38.20" y="72.37" font-size="5.3" font-weight="bold" fill="#f0f0f0" textLength="3.60" lengthAdjust="spacingAndGlyphs">TA</text>
<text x="42.20" y="72.37" font-size="5.3" font-weight="bold" fill="#f4f4f4" textLength="12.60" lengthAdjust="spacingAndGlyphs">AGGTC</text>
<text x="55.20" y="72.37" font-size="5.3" font-weight="bold" fill="#f0f0f0" textLength="2.60" lengthAdjust="spacingAndGlyphs">A</text>
<text x="60.20" y="72.37" font-size="5.3" font-weight="bold" fill="#f0f0f0" textLength="19.60" lengthAdjust="spacingAndGlyphs">GGTGTTTA</text>
<text x="80.20" y="72.37" font-size="5.3" font-weight="bold" fill="#f4f4f4" textLength="3.60" lengthAdjust="spacingAndGlyphs">AG</text>
<text x="84.20" y="72.37" font-size="5.3" font-weight="bold" fill="#303030" textLength="10.60" lengthAdjust="spacingAndGlyphs">ACAC</text>
<text x="95.20" y="72.37" font-size="5.3" font-weight="bold" fill="#f0f0f0" textLength="10.30" lengthAdjust="spacingAndGlyphs">TGCT</text>
<text x="105.90" y="72.37" font-size="5.3" font-weight="bold" fill="#303000" textLength="15.90" lengthAdjust="spacingAndGlyphs">TGCTTC</text>
<text x="122.20" y="72.37" font-size="5.3" font-weight="bold" fill="#f0f0f0" textLength="8.10" lengthAdjust="spacingAndGlyphs">TCC</text>
<text x="130.70" y="72.37" font-size="5.3" font-weight="bold" fill="#ffffff" textLength="10.10" lengthAdjust="spacingAndGlyphs">CCCT</text>
<text x="141.20" y="72.37" font-size="5.3" font-weight="bold" fill="#f0f0f0" textLength="5.60" lengthAdjust="spacingAndGlyphs">TC</text>
<text x="148.70" y="72.37" font-size="5.3" font-weight="bold" fill="#f0f0f0" textLength="34.10" lengthAdjust="spacingAndGlyphs">CATCCCCTATTCA</text>
<text x="185.20" y="72.37" font-size="5.3" font-weight="bold" fill="#f0f0f0" textLength="18.60" lengthAdjust="spacingAndGlyphs">CGTCTGG</text>
<text x="206.20" y="72.37" font-size="5.3" font-weight="bold" fill="#f0f0f0" textLength="17.60" lengthAdjust="spacingAndGlyphs">AGCTCTG</text>
<text x="226.20" y="72.37" font-size="5.3" font-weight="bold" fill="#f0f0f0" textLength="4.60" lengthAdjust="spacingAndGlyphs">TC</text>
<text x="231.20" y="72.37" font-size="5.3" font-weight="bold" fill="#e8ecff" textLength="10.60" lengthAdjust="spacingAndGlyphs">CAAG</text>
<text x="242.20" y="72.37" font-size="5.3" font-weight="bold" fill="#f0f0f0" textLength="21.60" lengthAdjust="spacingAndGlyphs">ACGCATTG</text>
<text x="264.20" y="72.37" font-size="5.3" font-weight="bold" fill="#e8ecff" textLength="26.60" lengthAdjust="spacingAndGlyphs">AGAGCGAGGA</text>
<text x="2" y="76.84" font-size="4.1" fill="#505050">Mm</text>
<rect x="13.00" y="73.07" width="22.30" height="5.67" fill="#0a0a0a"/>
<rect x="35.00" y="73.07" width="3.30" height="5.67" fill="#707070"/>
<rect x="38.00" y="73.07" width="4.30" height="5.67" fill="#0a0a0a"/>
<rect x="42.00" y="73.07" width="13.30" height="5.67" fill="#bababa"/>
<rect x="55.00" y="73.07" width="3.30" height="5.67" fill="#0a0a0a"/>
<rect x="58.00" y="73.07" width="2.30" height="5.67" fill="#ffffff"/>
<rect x="60.00" y="73.07" width="20.30" height="5.67" fill="#0a0a0a"/>
<rect x="80.00" y="73.07" width="4.30" height="5.67" fill="#707070"/>
<rect x="84.00" y="73.07" width="11.30" height="5.67" fill="#ffffff"/>
<rect x="95.00" y="73.07" width="11.00" height="5.67" fill="#0a0a0a"/>
<rect x="105.70" y="73.07" width="16.60" height="5.67" fill="#f8f000"/>
<rect x="122.00" y="73.07" width="8.80" height="5.67" fill="#0a0a0a"/>
<rect x="130.50" y="73.07" width="10.80" height="5.67" fill="#ee2027"/>
<rect x="141.00" y="73.07" width="6.30" height="5.67" fill="#0a0a0a"/>
<rect x="147.00" y="73.07" width="1.80" height="5.67" fill="#707070"/>
<rect x="148.50" y="73.07" width="34.80" height="5.67" fill="#0a0a0a"/>
<rect x="183.00" y="73.07" width="2.30" height="5.67" fill="#707070"/>
<rect x="185.00" y="73.07" width="19.30" height="5.67" fill="#0a0a0a"/>
<rect x="204.00" y="73.07" width="2.30" height="5.67" fill="#ffffff"/>
<rect x="206.00" y="73.07" width="18.30" height="5.67" fill="#0a0a0a"/>
<rect x="224.00" y="73.07" width="2.30" height="5.67" fill="#707070"/>
<rect x="226.00" y="73.07" width="5.30" height="5.67" fill="#0a0a0a"/>
<rect x="231.00" y="73.07" width="11.30" height="5.67" fill="#4262c4"/>
<rect x="242.00" y="73.07" width="22.30" height="5.67" fill="#0a0a0a"/>
<rect x="264.00" y="73.07" width="27.30" height="5.67" fill="#4262c4"/>
<text x="13.20" y="77.44" font-size="5.3" font-weight="bold" fill="#f0f0f0" textLength="21.60" lengthAdjust="spacingAndGlyphs">CTTATTTG</text>
<text x="35.20" y="77.44" font-size="5.3" font-weight="bold" fill="#f4f4f4" textLength="2.60" lengthAdjust="spacingAndGlyphs">C</text>
<text x="38.20" y="77.44" font-size="5.3" font-weight="bold" fill="#f0f0f0" textLength="3.60" lengthAdjust="spacingAndGlyphs">AA</text>
<text x="42.20" y="77.44" font-size="5.3" font-weight="bold" fill="#303030" textLength="12.60" lengthAdjust="spacingAndGlyphs">ACGAT</text>
<text x="55.20" y="77.44" font-size="5.3" font-weight="bold" fill="#f0f0f0" textLength="2.60" lengthAdjust="spacingAndGlyphs">A</text>
<text x="60.20" y="77.44" font-size="5.3" font-weight="bold" fill="#f0f0f0" textLength="19.60" lengthAdjust="spacingAndGlyphs">TCAGTGGT</text>
<text x="80.20" y="77.44" font-size="5.3" font-weight="bold" fill="#f4f4f4" textLength="3.60" lengthAdjust="spacingAndGlyphs">TA</text>
<text x="84.20" y="77.44" font-size="5.3" font-weight="bold" fill="#202020" textLength="10.60" lengthAdjust="spacingAndGlyphs">CGTG</text>
<text x="95.20" y="77.44" font-size="5.3" font-weight="bold" fill="#f0f0f0" textLength="10.30" lengthAdjust="spacingAndGlyphs">AAGA</text>
<text x="105.90" y="77.44" font-size="5.3" font-weight="bold" fill="#303000" textLength="15.90" lengthAdjust="spacingAndGlyphs">CCTTCA</text>
<text x="122.20" y="77.44" font-size="5.3" font-weight="bold" fill="#f0f0f0" textLength="8.10" lengthAdjust="spacingAndGlyphs">TAC</text>
<text x="130.70" y="77.44" font-size="5.3" font-weight="bold" fill="#ffffff" textLength="10.10" lengthAdjust="spacingAndGlyphs">AGGT</text>
<text x="141.20" y="77.44" font-size="5.3" font-weight="bold" fill="#f0f0f0" textLength="5.60" lengthAdjust="spacingAndGlyphs">CA</text>
<text x="148.70" y="77.44" font-size="5.3" font-weight="bold" fill="#f0f0f0" textLength="34.10" lengthAdjust="spacingAndGlyphs">CGGCAGTTTTTGT</text>
<text x="185.20" y="77.44" font-size="5.3" font-weight="bold" fill="#f0f0f0" textLength="18.60" lengthAdjust="spacingAndGlyphs">AGTTCCG</text>
<text x="206.20" y="77.44" font-size="5.3" font-weight="bold" fill="#f0f0f0" textLength="17.60" lengthAdjust="spacingAndGlyphs">ACGGGCT</text>
<text x="226.20" y="77.44" font-size="5.3" font-weight="bold" fill="#f0f0f0" textLength="4.60" lengthAdjust="spacingAndGlyphs">CC</text>
<text x="231.20" y="77.44" font-size="5.3" font-weight="bold" fill="#e8ecff" textLength="10.60" lengthAdjust="spacingAndGlyphs">CTCG</text>
<text x="242.20" y="77.44" font-size="5.3" font-weight="bold" fill="#f0f0f0" textLength="21.60" lengthAdjust="spacingAndGlyphs">CAGCTTCG</text>
<text x="264.20" y="77.44" font-size="5.3" font-weight="bold" fill="#e8ecff" textLength="26.60" lengthAdjust="spacingAndGlyphs">GCCGTGTATA</text>
<text x="2" y="81.91" font-size="4.1" fill="#505050">CF</text>
<rect x="13.00" y="78.14" width="22.30" height="5.67" fill="#0a0a0a"/>
<rect x="35.00" y="78.14" width="3.30" height="5.67" fill="#707070"/>
<rect x="38.00" y="78.14" width="4.30" height="5.67" fill="#0a0a0a"/>
<rect x="42.00" y="78.14" width="13.30" height="5.67" fill="#bababa"/>
<rect x="55.00" y="78.14" width="3.30" height="5.67" fill="#0a0a0a"/>
<rect x="58.00" y="78.14" width="2.30" height="5.67" fill="#ffffff"/>
<rect x="60.00" y="78.14" width="20.30" height="5.67" fill="#0a0a0a"/>
<rect x="80.00" y="78.14" width="4.30" height="5.67" fill="#707070"/>
<rect x="84.00" y="78.14" width="11.30" height="5.67" fill="#ffffff"/>
<rect x="95.00" y="78.14" width="11.00" height="5.67" fill="#0a0a0a"/>
<rect x="105.70" y="78.14" width="16.60" height="5.67" fill="#f8f000"/>
<rect x="122.00" y="78.14" width="8.80" height="5.67" fill="#0a0a0a"/>
<rect x="130.50" y="78.14" width="10.80" height="5.67" fill="#ee2027"/>
<rect x="141.00" y="78.14" width="6.30" height="5.67" fill="#0a0a0a"/>
<rect x="147.00" y="78.14" width="1.80" height="5.67" fill="#707070"/>
<rect x="148.50" y="78.14" width="34.80" height="5.67" fill="#0a0a0a"/>
<rect x="183.00" y="78.14" width="2.30" height="5.67" fill="#707070"/>
<rect x="185.00" y="78.14" width="19.30" height="5.67" fill="#0a0a0a"/>
<rect x="204.00" y="78.14" width="2.30" height="5.67" fill="#ffffff"/>
<rect x="206.00" y="78.14" width="18.30" height="5.67" fill="#0a0a0a"/>
<rect x="224.00" y="78.14" width="2.30" height="5.67" fill="#707070"/>
<rect x="226.00" y="78.14" width="5.30" height="5.67" fill="#0a0a0a"/>
<rect x="231.00" y="78.14" width="11.30" height="5.67" fill="#4262c4"/>
<rect x="242.00" y="78.14" width="22.30" height="5.67" fill="#0a0a0a"/>
<rect x="264.00" y="78.14" width="27.30" height="5.67" fill="#4262c4"/>
<text x="13.20" y="82.51" font-size="5.3" font-weight="bold" fill="#f0f0f0" textLength="21.60" lengthAdjust="spacingAndGlyphs">TAAATCTA</text>
<text x="35.20" y="82.51" font-size="5.3" font-weight="bold" fill="#f4f4f4" textLength="2.60" lengthAdjust="spacingAndGlyphs">T</text>
<text x="38.20" y="82.51" font-size="5.3" font-weight="bold" fill="#f0f0f0" textLength="3.60" lengthAdjust="spacingAndGlyphs">GA</text>
<text x="42.20" y="82.51" font-size="5.3" font-weight="bold" fill="#303030" textLength="12.60" lengthAdjust="spacingAndGlyphs">CTAGG</text>
<text x="55.20" y="82.51" font-size="5.3" font-weight="bold" fill="#f0f0f0" textLength="2.60" lengthAdjust="spacingAndGlyphs">G</text>
<text x="60.20" y="82.51" font-size="5.3" font-weight="bold" fill="#f0f0f0" textLength="19.60" lengthAdjust="spacingAndGlyphs">CCGTCTTA</text>
<text x="80.20" y="82.51" font-size="5.3" font-weight="bold" fill="#f4f4f4" textLength="3.60" lengthAdjust="spacingAndGlyphs">AG</text>
<text x="84.20" y="82.51" font-size="5.3" font-weight="bold" fill="#202020" textLength="10.60" lengthAdjust="spacingAndGlyphs">CATA</text>
<text x="95.20" y="82.51" font-size="5.3" font-weight="bold" fill="#f0f0f0" textLength="10.30" lengthAdjust="spacingAndGlyphs">GAAT</text>
<text x="105.90" y="82.51" font-size="5.3" font-weight="bold" fill="#303000" textLength="15.90" lengthAdjust="spacingAndGlyphs">CACACA</text>
<text x="122.20" y="82.51" font-size="5.3" font-weight="bold" fill="#f0f0f0" textLength="8.10" lengthAdjust="spacingAndGlyphs">CCC</text>
<text x="130.70" y="82.51" font-size="5.3" font-weight="bold" fill="#ffffff" textLength="10.10" lengthAdjust="spacingAndGlyphs">TCTG</text>
<text x="141.20" y="82.51" font-size="5.3" font-weight="bold" fill="#f0f0f0" textLength="5.60" lengthAdjust="spacingAndGlyphs">GC</text>
<text x="148.70" y="82.51" font-size="5.3" font-weight="bold" fill="#f0f0f0" textLength="34.10" lengthAdjust="spacingAndGlyphs">GCTTGCCCAAGTA</text>
<text x="185.20" y="82.51" font-size="5.3" font-weight="bold" fill="#f0f0f0" textLength="18.60" lengthAdjust="spacingAndGlyphs">AGTTGGT</text>
<text x="206.20" y="82.51" font-size="5.3" font-weight="bold" fill="#f0f0f0" textLength="17.60" lengthAdjust="spacingAndGlyphs">CGATCCC</text>
<text x="226.20" y="82.51" font-size="5.3" font-weight="bold" fill="#f0f0f0" textLength="4.60" lengthAdjust="spacingAndGlyphs">TC</text>
<text x="231.20" y="82.51" font-size="5.3" font-weight="bold" fill="#e8ecff" textLength="10.60" lengthAdjust="spacingAndGlyphs">ATAT</text>
<text x="242.20" y="82.51" font-size="5.3" font-weight="bold" fill="#f0f0f0" textLength="21.60" lengthAdjust="spacingAndGlyphs">TAAACTCT</text>
<text x="264.20" y="82.51" font-size="5.3" font-weight="bold" fill="#e8ecff" textLength="26.60" lengthAdjust="spacingAndGlyphs">GGTCCTCTAA</text>
<text x="2" y="86.98" font-size="4.1" fill="#505050">Md</text>
<rect x="13.00" y="83.21" width="22.30" height="5.07" fill="#0a0a0a"/>
<rect x="35.00" y="83.21" width="3.30" height="5.07" fill="#707070"/>
<rect x="38.00" y="83.21" width="4.30" height="5.07" fill="#0a0a0a"/>
<rect x="42.00" y="83.21" width="13.30" height="5.07" fill="#bababa"/>
<rect x="55.00" y="83.21" width="3.30" height="5.07" fill="#0a0a0a"/>
<rect x="58.00" y="83.21" width="2.30" height="5.07" fill="#ffffff"/>
<rect x="60.00" y="83.21" width="20.30" height="5.07" fill="#0a0a0a"/>
<rect x="80.00" y="83.21" width="4.30" height="5.07" fill="#707070"/>
<rect x="84.00" y="83.21" width="11.30" height="5.07" fill="#bababa"/>
<rect x="95.00" y="83.21" width="11.00" height="5.07" fill="#0a0a0a"/>
<rect x="105.70" y="83.21" width="16.60" height="5.07" fill="#f8f000"/>
<rect x="122.00" y="83.21" width="8.80" height="5.07" fill="#0a0a0a"/>
<rect x="130.50" y="83.21" width="10.80" height="5.07" fill="#ee2027"/>
<rect x="141.00" y="83.21" width="6.30" height="5.07" fill="#0a0a0a"/>
<rect x="147.00" y="83.21" width="1.80" height="5.07" fill="#707070"/>
<rect x="148.50" y="83.21" width="34.80" height="5.07" fill="#0a0a0a"/>
<rect x="183.00" y="83.21" width="2.30" height="5.07" fill="#707070"/>
<rect x="185.00" y="83.21" width="19.30" height="5.07" fill="#0a0a0a"/>
<rect x="204.00" y="83.21" width="2.30" height="5.07" fill="#ffffff"/>
<rect x="206.00" y="83.21" width="18.30" height="5.07" fill="#0a0a0a"/>
<rect x="224.00" y="83.21" width="2.30" height="5.07" fill="#707070"/>
<rect x="226.00" y="83.21" width="5.30" height="5.07" fill="#0a0a0a"/>
<rect x="231.00" y="83.21" width="11.30" height="5.07" fill="#4262c4"/>
<rect x="242.00" y="83.21" width="22.30" height="5.07" fill="#0a0a0a"/>
<rect x="264.00" y="83.21" width="27.30" height="5.07" fill="#4262c4"/>
<text x="13.20" y="87.58" font-size="5.3" font-weight="bold" fill="#f0f0f0" textLength="21.60" lengthAdjust="spacingAndGlyphs">TGTAATCG</text>
<text x="35.20" y="87.58" font-size="5.3" font-weight="bold" fill="#f4f4f4" textLength="2.60" lengthAdjust="spacingAndGlyphs">G</text>
<text x="38.20" y="87.58" font-size="5.3" font-weight="bold" fill="#f0f0f0" textLength="3.60" lengthAdjust="spacingAndGlyphs">AC</text>
<text x="42.20" y="87.58" font-size="5.3" font-weight="bold" fill="#303030" textLength="12.60" lengthAdjust="spacingAndGlyphs">TTGAG</text>
<text x="55.20" y="87.58" font-size="5.3" font-weight="bold" fill="#f0f0f0" textLength="2.60" lengthAdjust="spacingAndGlyphs">T</text>
<text x="60.20" y="87.58" font-size="5.3" font-weight="bold" fill="#f0f0f0" textLength="19.60" lengthAdjust="spacingAndGlyphs">CATGTAGG</text>
<text x="80.20" y="87.58" font-size="5.3" font-weight="bold" fill="#f4f4f4" textLength="3.60" lengthAdjust="spacingAndGlyphs">AT</text>
<text x="84.20" y="87.58" font-size="5.3" font-weight="bold" fill="#303030" textLength="10.60" lengthAdjust="spacingAndGlyphs">ATTC</text>
<text x="95.20" y="87.58" font-size="5.3" font-weight="bold" fill="#f0f0f0" textLength="10.30" lengthAdjust="spacingAndGlyphs">CTCT</text>
<text x="105.90" y="87.58" font-size="5.3" font-weight="bold" fill="#303000" textLength="15.90" lengthAdjust="spacingAndGlyphs">TTTCTT</text>
<text x="122.20" y="87.58" font-size="5.3" font-weight="bold" fill="#f0f0f0" textLength="8.10" lengthAdjust="spacingAndGlyphs">TCA</text>
<text x="130.70" y="87.58" font-size="5.3" font-weight="bold" fill="#ffffff" textLength="10.10" lengthAdjust="spacingAndGlyphs">CAGT</text>
<text x="141.20" y="87.58" font-size="5.3" font-weight="bold" fill="#f0f0f0" textLength="5.60" lengthAdjust="spacingAndGlyphs">CA</text>
<text x="148.70" y="87.58" font-size="5.3" font-weight="bold" fill="#f0f0f0" textLength="34.10" lengthAdjust="spacingAndGlyphs">GAAGAATAAGAAT</text>
<text x="185.20" y="87.58" font-size="5.3" font-weight="bold" fill="#f0f0f0" textLength="18.60" lengthAdjust="spacingAndGlyphs">AGACTGT</text>
<text x="206.20" y="87.58" font-size="5.3" font-weight="bold" fill="#f0f0f0" textLength="17.60" lengthAdjust="spacingAndGlyphs">CCGGTGG</text>
<text x="226.20" y="87.58" font-size="5.3" font-weight="bold" fill="#f0f0f0" textLength="4.60" lengthAdjust="spacingAndGlyphs">CT</text>
<text x="231.20" y="87.58" font-size="5.3" font-weight="bold" fill="#e8ecff" textLength="10.60" lengthAdjust="spacingAndGlyphs">CATG</text>
<text x="242.20" y="87.58" font-size="5.3" font-weight="bold" fill="#f0f0f0" textLength="21.60" lengthAdjust="spacingAndGlyphs">TAGGCGCA</text>
<text x="264.20" y="87.58" font-size="5.3" font-weight="bold" fill="#e8ecff" textLength="26.60" lengthAdjust="spacingAndGlyphs">CTCGACCTAG</text>
<text x="2" y="97.80" font-size="4.1" fill="#505050">Hs</text>
<rect x="13.00" y="94.10" width="6.30" height="5.60" fill="#0a0a0a"/>
<rect x="19.00" y="94.10" width="16.30" height="5.60" fill="#f8f000"/>
<rect x="35.00" y="94.10" width="13.80" height="5.60" fill="#0a0a0a"/>
<rect x="48.50" y="94.10" width="8.80" height="5.60" fill="#bababa"/>
<rect x="57.00" y="94.10" width="7.30" height="5.60" fill="#707070"/>
<rect x="64.00" y="94.10" width="24.30" height="5.60" fill="#0a0a0a"/>
<rect x="88.00" y="94.10" width="2.30" height="5.60" fill="#707070"/>
<rect x="90.00" y="94.10" width="6.30" height="5.60" fill="#0a0a0a"/>
<rect x="96.00" y="94.10" width="2.30" height="5.60" fill="#707070"/>
<rect x="98.00" y="94.10" width="16.30" height="5.60" fill="#0a0a0a"/>
<rect x="114.00" y="94.10" width="3.30" height="5.60" fill="#707070"/>
<rect x="117.00" y="94.10" width="21.30" height="5.60" fill="#0a0a0a"/>
<rect x="138.00" y="94.10" width="10.30" height="5.60" fill="#bababa"/>
<rect x="148.00" y="94.10" width="13.30" height="5.60" fill="#0a0a0a"/>
<rect x="161.00" y="94.10" width="2.30" height="5.60" fill="#707070"/>
<rect x="163.00" y="94.10" width="8.30" height="5.60" fill="#0a0a0a"/>
<rect x="171.00" y="94.10" width="1.80" height="5.60" fill="#707070"/>
<rect x="172.50" y="94.10" width="10.80" height="5.60" fill="#0a0a0a"/>
<rect x="183.00" y="94.10" width="2.30" height="5.60" fill="#ffffff"/>
<rect x="185.00" y="94.10" width="19.30" height="5.60" fill="#0a0a0a"/>
<rect x="204.00" y="94.10" width="11.30" height="5.60" fill="#b0b0b0"/>
<rect x="215.00" y="94.10" width="3.30" height="5.60" fill="#0a0a0a"/>
<rect x="218.00" y="94.10" width="11.30" height="5.60" fill="#b0b0b0"/>
<rect x="229.00" y="94.10" width="2.30" height="5.60" fill="#0a0a0a"/>
<rect x="231.00" y="94.10" width="27.30" height="5.60" fill="#bababa"/>
<rect x="258.00" y="94.10" width="22.30" height="5.60" fill="#0a0a0a"/>
<rect x="280.00" y="94.10" width="3.30" height="5.60" fill="#707070"/>
<rect x="283.00" y="94.10" width="3.30" height="5.60" fill="#0a0a0a"/>
<rect x="286.00" y="94.10" width="5.30" height="5.60" fill="#bababa"/>
<text x="13.20" y="98.40" font-size="5.3" font-weight="bold" fill="#f0f0f0" textLength="5.60" lengthAdjust="spacingAndGlyphs">TA</text>
<text x="19.20" y="98.40" font-size="5.3" font-weight="bold" fill="#303000" textLength="15.60" lengthAdjust="spacingAndGlyphs">CATCTG</text>
<text x="35.20" y="98.40" font-size="5.3" font-weight="bold" fill="#f0f0f0" textLength="13.10" lengthAdjust="spacingAndGlyphs">CCTGG</text>
<text x="48.70" y="98.40" font-size="5.3" font-weight="bold" fill="#303030" textLength="8.10" lengthAdjust="spacingAndGlyphs">TCA</text>
<text x="57.20" y="98.40" font-size="5.3" font-weight="bold" fill="#f4f4f4" textLength="6.60" lengthAdjust="spacingAndGlyphs">GAT</text>
<text x="64.20" y="98.40" font-size="5.3" font-weight="bold" fill="#f0f0f0" textLength="23.60" lengthAdjust="spacingAndGlyphs">GAAAACCAT</text>
<text x="90.20" y="98.40" font-size="5.3" font-weight="bold" fill="#f0f0f0" textLength="5.60" lengthAdjust="spacingAndGlyphs">TT</text>
<text x="98.20" y="98.40" font-size="5.3" font-weight="bold" fill="#f0f0f0" textLength="15.60" lengthAdjust="spacingAndGlyphs">CAGGTG</text>
<text x="114.20" y="98.40" font-size="5.3" font-weight="bold" fill="#f4f4f4" textLength="2.60" lengthAdjust="spacingAndGlyphs">A</text>
<text x="117.20" y="98.40" font-size="5.3" font-weight="bold" fill="#f0f0f0" textLength="20.60" lengthAdjust="spacingAndGlyphs">ATTTTGTT</text>
<text x="138.20" y="98.40" font-size="5.3" font-weight="bold" fill="#303030" textLength="9.60" lengthAdjust="spacingAndGlyphs">ATAG</text>
<text x="148.20" y="98.40" font-size="5.3" font-weight="bold" fill="#f0f0f0" textLength="12.60" lengthAdjust="spacingAndGlyphs">CATCC</text>
<text x="163.20" y="98.40" font-size="5.3" font-weight="bold" fill="#f0f0f0" textLength="7.60" lengthAdjust="spacingAndGlyphs">TCA</text>
<text x="172.70" y="98.40" font-size="5.3" font-weight="bold" fill="#f0f0f0" textLength="10.10" lengthAdjust="spacingAndGlyphs">TACG</text>
<text x="185.20" y="98.40" font-size="5.3" font-weight="bold" fill="#f0f0f0" textLength="18.60" lengthAdjust="spacingAndGlyphs">CGATTTG</text>
<text x="204.20" y="98.40" font-size="5.3" font-weight="bold" fill="#202020" textLength="10.60" lengthAdjust="spacingAndGlyphs">ATGG</text>
<text x="215.20" y="98.40" font-size="5.3" font-weight="bold" fill="#f0f0f0" textLength="2.60" lengthAdjust="spacingAndGlyphs">C</text>
<text x="218.20" y="98.40" font-size="5.3" font-weight="bold" fill="#202020" textLength="10.60" lengthAdjust="spacingAndGlyphs">GACC</text>
<text x="231.20" y="98.40" font-size="5.3" font-weight="bold" fill="#303030" textLength="26.60" lengthAdjust="spacingAndGlyphs">TAGTACGACC</text>
<text x="258.20" y="98.40" font-size="5.3" font-weight="bold" fill="#f0f0f0" textLength="21.60" lengthAdjust="spacingAndGlyphs">CGGACCTA</text>
<text x="280.20" y="98.40" font-size="5.3" font-weight="bold" fill="#f4f4f4" textLength="2.60" lengthAdjust="spacingAndGlyphs">C</text>
<text x="283.20" y="98.40" font-size="5.3" font-weight="bold" fill="#f0f0f0" textLength="2.60" lengthAdjust="spacingAndGlyphs">T</text>
<text x="286.20" y="98.40" font-size="5.3" font-weight="bold" fill="#303030" textLength="4.60" lengthAdjust="spacingAndGlyphs">CA</text>
<text x="2" y="102.80" font-size="4.1" fill="#505050">Mm</text>
<rect x="13.00" y="99.10" width="6.30" height="5.60" fill="#0a0a0a"/>
<rect x="19.00" y="99.10" width="16.30" height="5.60" fill="#f8f000"/>
<rect x="35.00" y="99.10" width="13.80" height="5.60" fill="#0a0a0a"/>
<rect x="48.50" y="99.10" width="8.80" height="5.60" fill="#bababa"/>
<rect x="57.00" y="99.10" width="7.30" height="5.60" fill="#707070"/>
<rect x="64.00" y="99.10" width="24.30" height="5.60" fill="#0a0a0a"/>
<rect x="88.00" y="99.10" width="2.30" height="5.60" fill="#707070"/>
<rect x="90.00" y="99.10" width="6.30" height="5.60" fill="#0a0a0a"/>
<rect x="96.00" y="99.10" width="2.30" height="5.60" fill="#707070"/>
<rect x="98.00" y="99.10" width="16.30" height="5.60" fill="#0a0a0a"/>
<rect x="114.00" y="99.10" width="3.30" height="5.60" fill="#707070"/>
<rect x="117.00" y="99.10" width="21.30" height="5.60" fill="#0a0a0a"/>
<rect x="138.00" y="99.10" width="10.30" height="5.60" fill="#bababa"/>
<rect x="148.00" y="99.10" width="13.30" height="5.60" fill="#0a0a0a"/>
<rect x="161.00" y="99.10" width="2.30" height="5.60" fill="#707070"/>
<rect x="163.00" y="99.10" width="8.30" height="5.60" fill="#0a0a0a"/>
<rect x="171.00" y="99.10" width="1.80" height="5.60" fill="#707070"/>
<rect x="172.50" y="99.10" width="10.80" height="5.60" fill="#0a0a0a"/>
<rect x="183.00" y="99.10" width="2.30" height="5.60" fill="#ffffff"/>
<rect x="185.00" y="99.10" width="19.30" height="5.60" fill="#0a0a0a"/>
<rect x="204.00" y="99.10" width="11.30" height="5.60" fill="#b0b0b0"/>
<rect x="215.00" y="99.10" width="3.30" height="5.60" fill="#0a0a0a"/>
<rect x="218.00" y="99.10" width="11.30" height="5.60" fill="#b0b0b0"/>
<rect x="229.00" y="99.10" width="2.30" height="5.60" fill="#0a0a0a"/>
<rect x="231.00" y="99.10" width="27.30" height="5.60" fill="#bababa"/>
<rect x="258.00" y="99.10" width="22.30" height="5.60" fill="#0a0a0a"/>
<rect x="280.00" y="99.10" width="3.30" height="5.60" fill="#707070"/>
<rect x="283.00" y="99.10" width="3.30" height="5.60" fill="#0a0a0a"/>
<rect x="286.00" y="99.10" width="5.30" height="5.60" fill="#bababa"/>
<text x="13.20" y="103.40" font-size="5.3" font-weight="bold" fill="#f0f0f0" textLength="5.60" lengthAdjust="spacingAndGlyphs">CT</text>
<text x="19.20" y="103.40" font-size="5.3" font-weight="bold" fill="#303000" textLength="15.60" lengthAdjust="spacingAndGlyphs">CGTGAC</text>
<text x="35.20" y="103.40" font-size="5.3" font-weight="bold" fill="#f0f0f0" textLength="13.10" lengthAdjust="spacingAndGlyphs">AGTTC</text>
<text x="48.70" y="103.40" font-size="5.3" font-weight="bold" fill="#303030" textLength="8.10" lengthAdjust="spacingAndGlyphs">GCT</text>
<text x="57.20" y="103.40" font-size="5.3" font-weight="bold" fill="#f4f4f4" textLength="6.60" lengthAdjust="spacingAndGlyphs">TTA</text>
<text x="64.20" y="103.40" font-size="5.3" font-weight="bold" fill="#f0f0f0" textLength="23.60" lengthAdjust="spacingAndGlyphs">TGTTTTCTG</text>
<text x="90.20" y="103.40" font-size="5.3" font-weight="bold" fill="#f0f0f0" textLength="5.60" lengthAdjust="spacingAndGlyphs">TT</text>
<text x="98.20" y="103.40" font-size="5.3" font-weight="bold" fill="#f0f0f0" textLength="15.60" lengthAdjust="spacingAndGlyphs">GTATGC</text>
<text x="114.20" y="103.40" font-size="5.3" font-weight="bold" fill="#f4f4f4" textLength="2.60" lengthAdjust="spacingAndGlyphs">A</text>
<text x="117.20" y="103.40" font-size="5.3" font-weight="bold" fill="#f0f0f0" textLength="20.60" lengthAdjust="spacingAndGlyphs">TTCCTGCG</text>
<text x="138.20" y="103.40" font-size="5.3" font-weight="bold" fill="#303030" textLength="9.60" lengthAdjust="spacingAndGlyphs">CACA</text>
<text x="148.20" y="103.40" font-size="5.3" font-weight="bold" fill="#f0f0f0" textLength="12.60" lengthAdjust="spacingAndGlyphs">CTCGA</text>
<text x="163.20" y="103.40" font-size="5.3" font-weight="bold" fill="#f0f0f0" textLength="7.60" lengthAdjust="spacingAndGlyphs">TTC</text>
<text x="172.70" y="103.40" font-size="5.3" font-weight="bold" fill="#f0f0f0" textLength="10.10" lengthAdjust="spacingAndGlyphs">ATAA</text>
<text x="185.20" y="103.40" font-size="5.3" font-weight="bold" fill="#f0f0f0" textLength="18.60" lengthAdjust="spacingAndGlyphs">TCGCGCA</text>
<text x="204.20" y="103.40" font-size="5.3" font-weight="bold" fill="#202020" textLength="10.60" lengthAdjust="spacingAndGlyphs">TGAC</text>
<text x="215.20" y="103.40" font-size="5.3" font-weight="bold" fill="#f0f0f0" textLength="2.60" lengthAdjust="spacingAndGlyphs">G</text>
<text x="218.20" y="103.40" font-size="5.3" font-weight="bold" fill="#202020" textLength="10.60" lengthAdjust="spacingAndGlyphs">ATAG</text>
<text x="231.20" y="103.40" font-size="5.3" font-weight="bold" fill="#303030" textLength="26.60" lengthAdjust="spacingAndGlyphs">TAGGGATTAA</text>
<text x="258.20" y="103.40" font-size="5.3" font-weight="bold" fill="#f0f0f0" textLength="21.60" lengthAdjust="spacingAndGlyphs">TGTAGAGG</text>
<text x="280.20" y="103.40" font-size="5.3" font-weight="bold" fill="#f4f4f4" textLength="2.60" lengthAdjust="spacingAndGlyphs">G</text>
<text x="283.20" y="103.40" font-size="5.3" font-weight="bold" fill="#f0f0f0" textLength="2.60" lengthAdjust="spacingAndGlyphs">A</text>
<text x="286.20" y="103.40" font-size="5.3" font-weight="bold" fill="#303030" textLength="4.60" lengthAdjust="spacingAndGlyphs">TC</text>
<text x="2" y="107.80" font-size="4.1" fill="#505050">CF</text>
<rect x="13.00" y="104.10" width="6.30" height="5.60" fill="#0a0a0a"/>
<rect x="19.00" y="104.10" width="16.30" height="5.60" fill="#f8f000"/>
<rect x="35.00" y="104.10" width="13.80" height="5.60" fill="#0a0a0a"/>
<rect x="48.50" y="104.10" width="8.80" height="5.60" fill="#bababa"/>
<rect x="57.00" y="104.10" width="7.30" height="5.60" fill="#707070"/>
<rect x="64.00" y="104.10" width="24.30" height="5.60" fill="#0a0a0a"/>
<rect x="88.00" y="104.10" width="2.30" height="5.60" fill="#707070"/>
<rect x="90.00" y="104.10" width="6.30" height="5.60" fill="#0a0a0a"/>
<rect x="96.00" y="104.10" width="2.30" height="5.60" fill="#707070"/>
<rect x="98.00" y="104.10" width="16.30" height="5.60" fill="#0a0a0a"/>
<rect x="114.00" y="104.10" width="3.30" height="5.60" fill="#707070"/>
<rect x="117.00" y="104.10" width="21.30" height="5.60" fill="#0a0a0a"/>
<rect x="138.00" y="104.10" width="10.30" height="5.60" fill="#bababa"/>
<rect x="148.00" y="104.10" width="13.30" height="5.60" fill="#0a0a0a"/>
<rect x="161.00" y="104.10" width="2.30" height="5.60" fill="#707070"/>
<rect x="163.00" y="104.10" width="8.30" height="5.60" fill="#0a0a0a"/>
<rect x="171.00" y="104.10" width="1.80" height="5.60" fill="#707070"/>
<rect x="172.50" y="104.10" width="10.80" height="5.60" fill="#0a0a0a"/>
<rect x="183.00" y="104.10" width="2.30" height="5.60" fill="#ffffff"/>
<rect x="185.00" y="104.10" width="19.30" height="5.60" fill="#0a0a0a"/>
<rect x="204.00" y="104.10" width="11.30" height="5.60" fill="#b0b0b0"/>
<rect x="215.00" y="104.10" width="3.30" height="5.60" fill="#0a0a0a"/>
<rect x="218.00" y="104.10" width="11.30" height="5.60" fill="#b0b0b0"/>
<rect x="229.00" y="104.10" width="2.30" height="5.60" fill="#0a0a0a"/>
<rect x="231.00" y="104.10" width="27.30" height="5.60" fill="#bababa"/>
<rect x="258.00" y="104.10" width="22.30" height="5.60" fill="#0a0a0a"/>
<rect x="280.00" y="104.10" width="3.30" height="5.60" fill="#707070"/>
<rect x="283.00" y="104.10" width="3.30" height="5.60" fill="#0a0a0a"/>
<rect x="286.00" y="104.10" width="5.30" height="5.60" fill="#bababa"/>
<text x="13.20" y="108.40" font-size="5.3" font-weight="bold" fill="#f0f0f0" textLength="5.60" lengthAdjust="spacingAndGlyphs">TA</text>
<text x="19.20" y="108.40" font-size="5.3" font-weight="bold" fill="#303000" textLength="15.60" lengthAdjust="spacingAndGlyphs">CCCCAC</text>
<text x="35.20" y="108.40" font-size="5.3" font-weight="bold" fill="#f0f0f0" textLength="13.10" lengthAdjust="spacingAndGlyphs">AGCGG</text>
<text x="48.70" y="108.40" font-size="5.3" font-weight="bold" fill="#303030" textLength="8.10" lengthAdjust="spacingAndGlyphs">CCG</text>
<text x="57.20" y="108.40" font-size="5.3" font-weight="bold" fill="#f4f4f4" textLength="6.60" lengthAdjust="spacingAndGlyphs">GAT</text>
<text x="64.20" y="108.40" font-size="5.3" font-weight="bold" fill="#f0f0f0" textLength="23.60" lengthAdjust="spacingAndGlyphs">TATGTAATT</text>
<text x="90.20" y="108.40" font-size="5.3" font-weight="bold" fill="#f0f0f0" textLength="5.60" lengthAdjust="spacingAndGlyphs">AG</text>
<text x="98.20" y="108.40" font-size="5.3" font-weight="bold" fill="#f0f0f0" textLength="15.60" lengthAdjust="spacingAndGlyphs">AAAGGT</text>
<text x="114.20" y="108.40" font-size="5.3" font-weight="bold" fill="#f4f4f4" textLength="2.60" lengthAdjust="spacingAndGlyphs">A</text>
<text x="117.20" y="108.40" font-size="5.3" font-weight="bold" fill="#f0f0f0" textLength="20.60" lengthAdjust="spacingAndGlyphs">TATAAGAC</text>
<text x="138.20" y="108.40" font-size="5.3" font-weight="bold" fill="#303030" textLength="9.60" lengthAdjust="spacingAndGlyphs">CAAG</text>
<text x="148.20" y="108.40" font-size="5.3" font-weight="bold" fill="#f0f0f0" textLength="12.60" lengthAdjust="spacingAndGlyphs">CGGAA</text>
<text x="163.20" y="108.40" font-size="5.3" font-weight="bold" fill="#f0f0f0" textLength="7.60" lengthAdjust="spacingAndGlyphs">CGG</text>
<text x="172.70" y="108.40" font-size="5.3" font-weight="bold" fill="#f0f0f0" textLength="10.10" lengthAdjust="spacingAndGlyphs">ACAA</text>
<text x="185.20" y="108.40" font-size="5.3" font-weight="bold" fill="#f0f0f0" textLength="18.60" lengthAdjust="spacingAndGlyphs">GTCGGGT</text>
<text x="204.20" y="108.40" font-size="5.3" font-weight="bold" fill="#202020" textLength="10.60" lengthAdjust="spacingAndGlyphs">GCGC</text>
<text x="215.20" y="108.40" font-size="5.3" font-weight="bold" fill="#f0f0f0" textLength="2.60" lengthAdjust="spacingAndGlyphs">C</text>
<text x="218.20" y="108.40" font-size="5.3" font-weight="bold" fill="#202020" textLength="10.60" lengthAdjust="spacingAndGlyphs">ACTT</text>
<text x="231.20" y="108.40" font-size="5.3" font-weight="bold" fill="#303030" textLength="26.60" lengthAdjust="spacingAndGlyphs">GACGAAGACT</text>
<text x="258.20" y="108.40" font-size="5.3" font-weight="bold" fill="#f0f0f0" textLength="21.60" lengthAdjust="spacingAndGlyphs">ATGGTAAA</text>
<text x="280.20" y="108.40" font-size="5.3" font-weight="bold" fill="#f4f4f4" textLength="2.60" lengthAdjust="spacingAndGlyphs">T</text>
<text x="283.20" y="108.40" font-size="5.3" font-weight="bold" fill="#f0f0f0" textLength="2.60" lengthAdjust="spacingAndGlyphs">C</text>
<text x="286.20" y="108.40" font-size="5.3" font-weight="bold" fill="#303030" textLength="4.60" lengthAdjust="spacingAndGlyphs">GA</text>
<text x="2" y="112.80" font-size="4.1" fill="#505050">Md</text>
<rect x="13.00" y="109.10" width="6.30" height="5.00" fill="#0a0a0a"/>
<rect x="19.00" y="109.10" width="16.30" height="5.00" fill="#f8f000"/>
<rect x="35.00" y="109.10" width="13.80" height="5.00" fill="#0a0a0a"/>
<rect x="48.50" y="109.10" width="8.80" height="5.00" fill="#bababa"/>
<rect x="57.00" y="109.10" width="7.30" height="5.00" fill="#707070"/>
<rect x="64.00" y="109.10" width="24.30" height="5.00" fill="#0a0a0a"/>
<rect x="88.00" y="109.10" width="2.30" height="5.00" fill="#707070"/>
<rect x="90.00" y="109.10" width="6.30" height="5.00" fill="#0a0a0a"/>
<rect x="96.00" y="109.10" width="2.30" height="5.00" fill="#707070"/>
<rect x="98.00" y="109.10" width="16.30" height="5.00" fill="#0a0a0a"/>
<rect x="114.00" y="109.10" width="3.30" height="5.00" fill="#707070"/>
<rect x="117.00" y="109.10" width="21.30" height="5.00" fill="#0a0a0a"/>
<rect x="138.00" y="109.10" width="10.30" height="5.00" fill="#bababa"/>
<rect x="148.00" y="109.10" width="13.30" height="5.00" fill="#0a0a0a"/>
<rect x="161.00" y="109.10" width="2.30" height="5.00" fill="#707070"/>
<rect x="163.00" y="109.10" width="8.30" height="5.00" fill="#0a0a0a"/>
<rect x="171.00" y="109.10" width="1.80" height="5.00" fill="#707070"/>
<rect x="172.50" y="109.10" width="10.80" height="5.00" fill="#0a0a0a"/>
<rect x="183.00" y="109.10" width="2.30" height="5.00" fill="#ffffff"/>
<rect x="185.00" y="109.10" width="19.30" height="5.00" fill="#0a0a0a"/>
<rect x="204.00" y="109.10" width="11.30" height="5.00" fill="#b0b0b0"/>
<rect x="215.00" y="109.10" width="3.30" height="5.00" fill="#0a0a0a"/>
<rect x="218.00" y="109.10" width="11.30" height="5.00" fill="#b0b0b0"/>
<rect x="229.00" y="109.10" width="2.30" height="5.00" fill="#0a0a0a"/>
<rect x="231.00" y="109.10" width="27.30" height="5.00" fill="#bababa"/>
<rect x="258.00" y="109.10" width="22.30" height="5.00" fill="#0a0a0a"/>
<rect x="280.00" y="109.10" width="3.30" height="5.00" fill="#707070"/>
<rect x="283.00" y="109.10" width="3.30" height="5.00" fill="#0a0a0a"/>
<rect x="286.00" y="109.10" width="5.30" height="5.00" fill="#bababa"/>
<text x="13.20" y="113.40" font-size="5.3" font-weight="bold" fill="#f0f0f0" textLength="5.60" lengthAdjust="spacingAndGlyphs">TA</text>
<text x="19.20" y="113.40" font-size="5.3" font-weight="bold" fill="#303000" textLength="15.60" lengthAdjust="spacingAndGlyphs">ACGAGC</text>
<text x="35.20" y="113.40" font-size="5.3" font-weight="bold" fill="#f0f0f0" textLength="13.10" lengthAdjust="spacingAndGlyphs">GTTTA</text>
<text x="48.70" y="113.40" font-size="5.3" font-weight="bold" fill="#303030" textLength="8.10" lengthAdjust="spacingAndGlyphs">CGA</text>
<text x="57.20" y="113.40" font-size="5.3" font-weight="bold" fill="#f4f4f4" textLength="6.60" lengthAdjust="spacingAndGlyphs">GGC</text>
<text x="64.20" y="113.40" font-size="5.3" font-weight="bold" fill="#f0f0f0" textLength="23.60" lengthAdjust="spacingAndGlyphs">AACCGTGAT</text>
<text x="90.20" y="113.40" font-size="5.3" font-weight="bold" fill="#f0f0f0" textLength="5.60" lengthAdjust="spacingAndGlyphs">AT</text>
<text x="98.20" y="113.40" font-size="5.3" font-weight="bold" fill="#f0f0f0" textLength="15.60" lengthAdjust="spacingAndGlyphs">AAGGCC</text>
<text x="114.20" y="113.40" font-size="5.3" font-weight="bold" fill="#f4f4f4" textLength="2.60" lengthAdjust="spacingAndGlyphs">C</text>
<text x="117.20" y="113.40" font-size="5.3" font-weight="bold" fill="#f0f0f0" textLength="20.60" lengthAdjust="spacingAndGlyphs">GAAACCTC</text>
<text x="138.20" y="113.40" font-size="5.3" font-weight="bold" fill="#303030" textLength="9.60" lengthAdjust="spacingAndGlyphs">ACGC</text>
<text x="148.20" y="113.40" font-size="5.3" font-weight="bold" fill="#f0f0f0" textLength="12.60" lengthAdjust="spacingAndGlyphs">ACCGG</text>
<text x="163.20" y="113.40" font-size="5.3" font-weight="bold" fill="#f0f0f0" textLength="7.60" lengthAdjust="spacingAndGlyphs">AGC</text>
<text x="172.70" y="113.40" font-size="5.3" font-weight="bold" fill="#f0f0f0" textLength="10.10" lengthAdjust="spacingAndGlyphs">CCCG</text>
<text x="185.20" y="113.40" font-size="5.3" font-weight="bold" fill="#f0f0f0" textLength="18.60" lengthAdjust="spacingAndGlyphs">AAGGCTG</text>
<text x="204.20" y="113.40" font-size="5.3" font-weight="bold" fill="#202020" textLength="10.60" lengthAdjust="spacingAndGlyphs">TCCA</text>
<text x="215.20" y="113.40" font-size="5.3" font-weight="bold" fill="#f0f0f0" textLength="2.60" lengthAdjust="spacingAndGlyphs">C</text>
<text x="218.20" y="113.40" font-size="5.3" font-weight="bold" fill="#202020" textLength="10.60" lengthAdjust="spacingAndGlyphs">AGGA</text>
<text x="231.20" y="113.40" font-size="5.3" font-weight="bold" fill="#303030" textLength="26.60" lengthAdjust="spacingAndGlyphs">CATTCTGCTG</text>
<text x="258.20" y="113.40" font-size="5.3" font-weight="bold" fill="#f0f0f0" textLength="21.60" lengthAdjust="spacingAndGlyphs">GTTCGATG</text>
<text x="280.20" y="113.40" font-size="5.3" font-weight="bold" fill="#f4f4f4" textLength="2.60" lengthAdjust="spacingAndGlyphs">G</text>
<text x="283.20" y="113.40" font-size="5.3" font-weight="bold" fill="#f0f0f0" textLength="2.60" lengthAdjust="spacingAndGlyphs">A</text>
<text x="286.20" y="113.40" font-size="5.3" font-weight="bold" fill="#303030" textLength="4.60" lengthAdjust="spacingAndGlyphs">TC</text>
<text x="2" y="123.85" font-size="4.1" fill="#505050">Hs</text>
<rect x="13.00" y="120.20" width="7.30" height="5.55" fill="#0a0a0a"/>
<rect x="20.00" y="120.20" width="9.30" height="5.55" fill="#ffffff"/>
<rect x="29.00" y="120.20" width="10.30" height="5.55" fill="#0a0a0a"/>
<rect x="39.00" y="120.20" width="4.80" height="5.55" fill="#bababa"/>
<rect x="43.50" y="120.20" width="10.80" height="5.55" fill="#ee2027"/>
<rect x="54.00" y="120.20" width="7.30" height="5.55" fill="#bababa"/>
<rect x="61.00" y="120.20" width="10.30" height="5.55" fill="#0a0a0a"/>
<rect x="71.00" y="120.20" width="1.80" height="5.55" fill="#ffffff"/>
<rect x="72.50" y="120.20" width="38.80" height="5.55" fill="#0a0a0a"/>
<rect x="111.00" y="120.20" width="6.30" height="5.55" fill="#ffffff"/>
<rect x="117.00" y="120.20" width="3.30" height="5.55" fill="#707070"/>
<rect x="120.00" y="120.20" width="10.80" height="5.55" fill="#bababa"/>
<rect x="130.50" y="120.20" width="10.80" height="5.55" fill="#0a0a0a"/>
<rect x="141.00" y="120.20" width="19.30" height="5.55" fill="#bababa"/>
<rect x="160.00" y="120.20" width="5.30" height="5.55" fill="#0a0a0a"/>
<rect x="165.00" y="120.20" width="9.30" height="5.55" fill="#bababa"/>
<rect x="174.00" y="120.20" width="2.30" height="5.55" fill="#0a0a0a"/>
<rect x="176.00" y="120.20" width="2.30" height="5.55" fill="#707070"/>
<rect x="178.00" y="120.20" width="3.30" height="5.55" fill="#0a0a0a"/>
<rect x="181.00" y="120.20" width="12.30" height="5.55" fill="#bababa"/>
<rect x="193.00" y="120.20" width="5.30" height="5.55" fill="#0a0a0a"/>
<rect x="198.00" y="120.20" width="4.30" height="5.55" fill="#bababa"/>
<rect x="202.00" y="120.20" width="5.30" height="5.55" fill="#0a0a0a"/>
<rect x="207.00" y="120.20" width="2.30" height="5.55" fill="#707070"/>
<rect x="209.00" y="120.20" width="16.30" height="5.55" fill="#0a0a0a"/>
<rect x="225.00" y="120.20" width="15.30" height="5.55" fill="#ffffff"/>
<rect x="240.00" y="120.20" width="18.30" height="5.55" fill="#b0b0b0"/>
<rect x="258.00" y="120.20" width="14.30" height="5.55" fill="#0a0a0a"/>
<rect x="272.00" y="120.20" width="8.30" height="5.55" fill="#b0b0b0"/>
<text x="13.20" y="124.45" font-size="5.3" font-weight="bold" fill="#f0f0f0" textLength="6.60" lengthAdjust="spacingAndGlyphs">GTC</text>
<text x="20.20" y="124.45" font-size="5.3" font-weight="bold" fill="#202020" textLength="8.60" lengthAdjust="spacingAndGlyphs">CTA</text>
<text x="29.20" y="124.45" font-size="5.3" font-weight="bold" fill="#f0f0f0" textLength="9.60" lengthAdjust="spacingAndGlyphs">TACT</text>
<text x="39.20" y="124.45" font-size="5.3" font-weight="bold" fill="#303030" textLength="4.10" lengthAdjust="spacingAndGlyphs">GG</text>
<text x="43.70" y="124.45" font-size="5.3" font-weight="bold" fill="#ffffff" textLength="10.10" lengthAdjust="spacingAndGlyphs">ATGA</text>
<text x="54.20" y="124.45" font-size="5.3" font-weight="bold" fill="#303030" textLength="6.60" lengthAdjust="spacingAndGlyphs">GGT</text>
<text x="61.20" y="124.45" font-size="5.3" font-weight="bold" fill="#f0f0f0" textLength="9.60" lengthAdjust="spacingAndGlyphs">GGAG</text>
<text x="72.70" y="124.45" font-size="5.3" font-weight="bold" fill="#f0f0f0" textLength="38.10" lengthAdjust="spacingAndGlyphs">TCCAGGCCCATCTCG</text>
<line x1="112.80" y1="122.67" x2="114.60" y2="122.67" stroke="#888" stroke-width="0.5"/>
<text x="117.20" y="124.45" font-size="5.3" font-weight="bold" fill="#f4f4f4" textLength="2.60" lengthAdjust="spacingAndGlyphs">A</text>
<text x="120.20" y="124.45" font-size="5.3" font-weight="bold" fill="#303030" textLength="10.10" lengthAdjust="spacingAndGlyphs">TGTA</text>
<text x="130.70" y="124.45" font-size="5.3" font-weight="bold" fill="#f0f0f0" textLength="10.10" lengthAdjust="spacingAndGlyphs">GAGG</text>
<text x="141.20" y="124.45" font-size="5.3" font-weight="bold" fill="#303030" textLength="18.60" lengthAdjust="spacingAndGlyphs">GCCTGAT</text>
<text x="160.20" y="124.45" font-size="5.3" font-weight="bold" fill="#f0f0f0" textLength="4.60" lengthAdjust="spacingAndGlyphs">AT</text>
<text x="165.20" y="124.45" font-size="5.3" font-weight="bold" fill="#303030" textLength="8.60" lengthAdjust="spacingAndGlyphs">CTT</text>
<text x="178.20" y="124.45" font-size="5.3" font-weight="bold" fill="#f0f0f0" textLength="2.60" lengthAdjust="spacingAndGlyphs">G</text>
<text x="181.20" y="124.45" font-size="5.3" font-weight="bold" fill="#303030" textLength="11.60" lengthAdjust="spacingAndGlyphs">AGGTA</text>
<text x="193.20" y="124.45" font-size="5.3" font-weight="bold" fill="#f0f0f0" textLength="4.60" lengthAdjust="spacingAndGlyphs">TA</text>
<text x="198.20" y="124.45" font-size="5.3" font-weight="bold" fill="#303030" textLength="3.60" lengthAdjust="spacingAndGlyphs">TG</text>
<text x="202.20" y="124.45" font-size="5.3" font-weight="bold" fill="#f0f0f0" textLength="4.60" lengthAdjust="spacingAndGlyphs">TA</text>
<text x="209.20" y="124.45" font-size="5.3" font-weight="bold" fill="#f0f0f0" textLength="15.60" lengthAdjust="spacingAndGlyphs">GAACGA</text>
<text x="225.20" y="124.45" font-size="5.3" font-weight="bold" fill="#202020" textLength="14.60" lengthAdjust="spacingAndGlyphs">GCTAGA</text>
<text x="240.20" y="124.45" font-size="5.3" font-weight="bold" fill="#202020" textLength="17.60" lengthAdjust="spacingAndGlyphs">AAAAGTC</text>
<text x="258.20" y="124.45" font-size="5.3" font-weight="bold" fill="#f0f0f0" textLength="13.60" lengthAdjust="spacingAndGlyphs">CGCTA</text>
<text x="272.20" y="124.45" font-size="5.3" font-weight="bold" fill="#202020" textLength="7.60" lengthAdjust="spacingAndGlyphs">ATA</text>
<text x="2" y="128.80" font-size="4.1" fill="#505050">Mm</text>
<rect x="13.00" y="125.15" width="7.30" height="5.55" fill="#0a0a0a"/>
<rect x="20.00" y="125.15" width="9.30" height="5.55" fill="#ffffff"/>
<rect x="29.00" y="125.15" width="10.30" height="5.55" fill="#0a0a0a"/>
<rect x="39.00" y="125.15" width="4.80" height="5.55" fill="#bababa"/>
<rect x="43.50" y="125.15" width="10.80" height="5.55" fill="#ee2027"/>
<rect x="54.00" y="125.15" width="7.30" height="5.55" fill="#bababa"/>
<rect x="61.00" y="125.15" width="10.30" height="5.55" fill="#0a0a0a"/>
<rect x="71.00" y="125.15" width="1.80" height="5.55" fill="#ffffff"/>
<rect x="72.50" y="125.15" width="38.80" height="5.55" fill="#0a0a0a"/>
<rect x="111.00" y="125.15" width="6.30" height="5.55" fill="#ffffff"/>
<rect x="117.00" y="125.15" width="3.30" height="5.55" fill="#707070"/>
<rect x="120.00" y="125.15" width="10.80" height="5.55" fill="#bababa"/>
<rect x="130.50" y="125.15" width="10.80" height="5.55" fill="#0a0a0a"/>
<rect x="141.00" y="125.15" width="19.30" height="5.55" fill="#bababa"/>
<rect x="160.00" y="125.15" width="5.30" height="5.55" fill="#0a0a0a"/>
<rect x="165.00" y="125.15" width="9.30" height="5.55" fill="#bababa"/>
<rect x="174.00" y="125.15" width="2.30" height="5.55" fill="#0a0a0a"/>
<rect x="176.00" y="125.15" width="2.30" height="5.55" fill="#707070"/>
<rect x="178.00" y="125.15" width="3.30" height="5.55" fill="#0a0a0a"/>
<rect x="181.00" y="125.15" width="12.30" height="5.55" fill="#bababa"/>
<rect x="193.00" y="125.15" width="5.30" height="5.55" fill="#0a0a0a"/>
<rect x="198.00" y="125.15" width="4.30" height="5.55" fill="#bababa"/>
<rect x="202.00" y="125.15" width="5.30" height="5.55" fill="#0a0a0a"/>
<rect x="207.00" y="125.15" width="2.30" height="5.55" fill="#707070"/>
<rect x="209.00" y="125.15" width="16.30" height="5.55" fill="#0a0a0a"/>
<rect x="225.00" y="125.15" width="15.30" height="5.55" fill="#ffffff"/>
<rect x="240.00" y="125.15" width="18.30" height="5.55" fill="#b0b0b0"/>
<rect x="258.00" y="125.15" width="14.30" height="5.55" fill="#0a0a0a"/>
<rect x="272.00" y="125.15" width="8.30" height="5.55" fill="#b0b0b0"/>
<text x="13.20" y="129.40" font-size="5.3" font-weight="bold" fill="#f0f0f0" textLength="6.60" lengthAdjust="spacingAndGlyphs">GTG</text>
<text x="20.20" y="129.40" font-size="5.3" font-weight="bold" fill="#202020" textLength="8.60" lengthAdjust="spacingAndGlyphs">ACG</text>
<text x="29.20" y="129.40" font-size="5.3" font-weight="bold" fill="#f0f0f0" textLength="9.60" lengthAdjust="spacingAndGlyphs">GATT</text>
<text x="39.20" y="129.40" font-size="5.3" font-weight="bold" fill="#303030" textLength="4.10" lengthAdjust="spacingAndGlyphs">GC</text>
<text x="43.70" y="129.40" font-size="5.3" font-weight="bold" fill="#ffffff" textLength="10.10" lengthAdjust="spacingAndGlyphs">CCGG</text>
<text x="54.20" y="129.40" font-size="5.3" font-weight="bold" fill="#303030" textLength="6.60" lengthAdjust="spacingAndGlyphs">GTA</text>
<text x="61.20" y="129.40" font-size="5.3" font-weight="bold" fill="#f0f0f0" textLength="9.60" lengthAdjust="spacingAndGlyphs">TAAG</text>
<text x="72.70" y="129.40" font-size="5.3" font-weight="bold" fill="#f0f0f0" textLength="38.10" lengthAdjust="spacingAndGlyphs">CGAGACACTCTGAAA</text>
<line x1="112.80" y1="127.62" x2="114.60" y2="127.62" stroke="#888" stroke-width="0.5"/>
<text x="117.20" y="129.40" font-size="5.3" font-weight="bold" fill="#f4f4f4" textLength="2.60" lengthAdjust="spacingAndGlyphs">C</text>
<text x="120.20" y="129.40" font-size="5.3" font-weight="bold" fill="#303030" textLength="10.10" lengthAdjust="spacingAndGlyphs">AAGT</text>
<text x="130.70" y="129.40" font-size="5.3" font-weight="bold" fill="#f0f0f0" textLength="10.10" lengthAdjust="spacingAndGlyphs">GACA</text>
<text x="141.20" y="129.40" font-size="5.3" font-weight="bold" fill="#303030" textLength="18.60" lengthAdjust="spacingAndGlyphs">ACGTGAT</text>
<text x="160.20" y="129.40" font-size="5.3" font-weight="bold" fill="#f0f0f0" textLength="4.60" lengthAdjust="spacingAndGlyphs">CA</text>
<text x="165.20" y="129.40" font-size="5.3" font-weight="bold" fill="#303030" textLength="8.60" lengthAdjust="spacingAndGlyphs">GCG</text>
<text x="178.20" y="129.40" font-size="5.3" font-weight="bold" fill="#f0f0f0" textLength="2.60" lengthAdjust="spacingAndGlyphs">G</text>
<text x="181.20" y="129.40" font-size="5.3" font-weight="bold" fill="#303030" textLength="11.60" lengthAdjust="spacingAndGlyphs">AAGCT</text>
<text x="193.20" y="129.40" font-size="5.3" font-weight="bold" fill="#f0f0f0" textLength="4.60" lengthAdjust="spacingAndGlyphs">CT</text>
<text x="198.20" y="129.40" font-size="5.3" font-weight="bold" fill="#303030" textLength="3.60" lengthAdjust="spacingAndGlyphs">GA</text>
<text x="202.20" y="129.40" font-size="5.3" font-weight="bold" fill="#f0f0f0" textLength="4.60" lengthAdjust="spacingAndGlyphs">TC</text>
<text x="209.20" y="129.40" font-size="5.3" font-weight="bold" fill="#f0f0f0" textLength="15.60" lengthAdjust="spacingAndGlyphs">TCAAAT</text>
<line x1="229.50" y1="127.62" x2="234.00" y2="127.62" stroke="#888" stroke-width="0.5"/>
<text x="240.20" y="129.40" font-size="5.3" font-weight="bold" fill="#202020" textLength="17.60" lengthAdjust="spacingAndGlyphs">CCTGCGT</text>
<text x="258.20" y="129.40" font-size="5.3" font-weight="bold" fill="#f0f0f0" textLength="13.60" lengthAdjust="spacingAndGlyphs">CTTGA</text>
<text x="272.20" y="129.40" font-size="5.3" font-weight="bold" fill="#202020" textLength="7.60" lengthAdjust="spacingAndGlyphs">CGT</text>
<text x="2" y="133.75" font-size="4.1" fill="#505050">CF</text>
<rect x="13.00" y="130.10" width="7.30" height="5.55" fill="#0a0a0a"/>
<rect x="20.00" y="130.10" width="9.30" height="5.55" fill="#ffffff"/>
<rect x="29.00" y="130.10" width="10.30" height="5.55" fill="#0a0a0a"/>
<rect x="39.00" y="130.10" width="4.80" height="5.55" fill="#bababa"/>
<rect x="43.50" y="130.10" width="10.80" height="5.55" fill="#ee2027"/>
<rect x="54.00" y="130.10" width="7.30" height="5.55" fill="#bababa"/>
<rect x="61.00" y="130.10" width="10.30" height="5.55" fill="#0a0a0a"/>
<rect x="71.00" y="130.10" width="1.80" height="5.55" fill="#ffffff"/>
<rect x="72.50" y="130.10" width="38.80" height="5.55" fill="#0a0a0a"/>
<rect x="111.00" y="130.10" width="6.30" height="5.55" fill="#ffffff"/>
<rect x="117.00" y="130.10" width="3.30" height="5.55" fill="#707070"/>
<rect x="120.00" y="130.10" width="10.80" height="5.55" fill="#bababa"/>
<rect x="130.50" y="130.10" width="10.80" height="5.55" fill="#0a0a0a"/>
<rect x="141.00" y="130.10" width="19.30" height="5.55" fill="#bababa"/>
<rect x="160.00" y="130.10" width="5.30" height="5.55" fill="#0a0a0a"/>
<rect x="165.00" y="130.10" width="9.30" height="5.55" fill="#bababa"/>
<rect x="174.00" y="130.10" width="2.30" height="5.55" fill="#0a0a0a"/>
<rect x="176.00" y="130.10" width="2.30" height="5.55" fill="#707070"/>
<rect x="178.00" y="130.10" width="3.30" height="5.55" fill="#0a0a0a"/>
<rect x="181.00" y="130.10" width="12.30" height="5.55" fill="#bababa"/>
<rect x="193.00" y="130.10" width="5.30" height="5.55" fill="#0a0a0a"/>
<rect x="198.00" y="130.10" width="4.30" height="5.55" fill="#bababa"/>
<rect x="202.00" y="130.10" width="5.30" height="5.55" fill="#0a0a0a"/>
<rect x="207.00" y="130.10" width="2.30" height="5.55" fill="#707070"/>
<rect x="209.00" y="130.10" width="16.30" height="5.55" fill="#0a0a0a"/>
<rect x="225.00" y="130.10" width="15.30" height="5.55" fill="#ffffff"/>
<rect x="240.00" y="130.10" width="18.30" height="5.55" fill="#b0b0b0"/>
<rect x="258.00" y="130.10" width="14.30" height="5.55" fill="#0a0a0a"/>
<rect x="272.00" y="130.10" width="8.30" height="5.55" fill="#b0b0b0"/>
<text x="13.20" y="134.35" font-size="5.3" font-weight="bold" fill="#f0f0f0" textLength="6.60" lengthAdjust="spacingAndGlyphs">TTT</text>
<text x="20.20" y="134.35" font-size="5.3" font-weight="bold" fill="#202020" textLength="8.60" lengthAdjust="spacingAndGlyphs">ATG</text>
<text x="29.20" y="134.35" font-size="5.3" font-weight="bold" fill="#f0f0f0" textLength="9.60" lengthAdjust="spacingAndGlyphs">CGAG</text>
<text x="39.20" y="134.35" font-size="5.3" font-weight="bold" fill="#303030" textLength="4.10" lengthAdjust="spacingAndGlyphs">CT</text>
<text x="43.70" y="134.35" font-size="5.3" font-weight="bold" fill="#ffffff" textLength="10.10" lengthAdjust="spacingAndGlyphs">TGTC</text>
<text x="54.20" y="134.35" font-size="5.3" font-weight="bold" fill="#303030" textLength="6.60" lengthAdjust="spacingAndGlyphs">CAG</text>
<text x="61.20" y="134.35" font-size="5.3" font-weight="bold" fill="#f0f0f0" textLength="9.60" lengthAdjust="spacingAndGlyphs">TTTT</text>
<text x="72.70" y="134.35" font-size="5.3" font-weight="bold" fill="#f0f0f0" textLength="38.10" lengthAdjust="spacingAndGlyphs">GTGTAGATAGTGCCC</text>
<line x1="112.80" y1="132.57" x2="114.60" y2="132.57" stroke="#888" stroke-width="0.5"/>
<text x="117.20" y="134.35" font-size="5.3" font-weight="bold" fill="#f4f4f4" textLength="2.60" lengthAdjust="spacingAndGlyphs">C</text>
<text x="120.20" y="134.35" font-size="5.3" font-weight="bold" fill="#303030" textLength="10.10" lengthAdjust="spacingAndGlyphs">TAAA</text>
<text x="130.70" y="134.35" font-size="5.3" font-weight="bold" fill="#f0f0f0" textLength="10.10" lengthAdjust="spacingAndGlyphs">TTAT</text>
<text x="141.20" y="134.35" font-size="5.3" font-weight="bold" fill="#303030" textLength="18.60" lengthAdjust="spacingAndGlyphs">TAAACAG</text>
<text x="160.20" y="134.35" font-size="5.3" font-weight="bold" fill="#f0f0f0" textLength="4.60" lengthAdjust="spacingAndGlyphs">GA</text>
<text x="165.20" y="134.35" font-size="5.3" font-weight="bold" fill="#303030" textLength="8.60" lengthAdjust="spacingAndGlyphs">ACC</text>
<text x="178.20" y="134.35" font-size="5.3" font-weight="bold" fill="#f0f0f0" textLength="2.60" lengthAdjust="spacingAndGlyphs">A</text>
<text x="181.20" y="134.35" font-size="5.3" font-weight="bold" fill="#303030" textLength="11.60" lengthAdjust="spacingAndGlyphs">GGGTA</text>
<text x="193.20" y="134.35" font-size="5.3" font-weight="bold" fill="#f0f0f0" textLength="4.60" lengthAdjust="spacingAndGlyphs">AA</text>
<text x="198.20" y="134.35" font-size="5.3" font-weight="bold" fill="#303030" textLength="3.60" lengthAdjust="spacingAndGlyphs">GT</text>
<text x="202.20" y="134.35" font-size="5.3" font-weight="bold" fill="#f0f0f0" textLength="4.60" lengthAdjust="spacingAndGlyphs">GG</text>
<text x="209.20" y="134.35" font-size="5.3" font-weight="bold" fill="#f0f0f0" textLength="15.60" lengthAdjust="spacingAndGlyphs">ATCTAC</text>
<line x1="229.50" y1="132.57" x2="234.00" y2="132.57" stroke="#888" stroke-width="0.5"/>
<text x="240.20" y="134.35" font-size="5.3" font-weight="bold" fill="#202020" textLength="17.60" lengthAdjust="spacingAndGlyphs">AGTCGCT</text>
<text x="258.20" y="134.35" font-size="5.3" font-weight="bold" fill="#f0f0f0" textLength="13.60" lengthAdjust="spacingAndGlyphs">ACTTT</text>
<text x="272.20" y="134.35" font-size="5.3" font-weight="bold" fill="#202020" textLength="7.60" lengthAdjust="spacingAndGlyphs">CAA</text>
<text x="2" y="138.70" font-size="4.1" fill="#505050">Md</text>
<rect x="13.00" y="135.05" width="7.30" height="4.95" fill="#0a0a0a"/>
<rect x="20.00" y="135.05" width="9.30" height="4.95" fill="#bababa"/>
<rect x="29.00" y="135.05" width="10.30" height="4.95" fill="#0a0a0a"/>
<rect x="39.00" y="135.05" width="4.80" height="4.95" fill="#bababa"/>
<rect x="43.50" y="135.05" width="10.80" height="4.95" fill="#ee2027"/>
<rect x="54.00" y="135.05" width="7.30" height="4.95" fill="#bababa"/>
<rect x="61.00" y="135.05" width="10.30" height="4.95" fill="#0a0a0a"/>
<rect x="71.00" y="135.05" width="1.80" height="4.95" fill="#0a0a0a"/>
<rect x="72.50" y="135.05" width="38.80" height="4.95" fill="#0a0a0a"/>
<rect x="111.00" y="135.05" width="6.30" height="4.95" fill="#ffffff"/>
<rect x="117.00" y="135.05" width="3.30" height="4.95" fill="#707070"/>
<rect x="120.00" y="135.05" width="10.80" height="4.95" fill="#bababa"/>
<rect x="130.50" y="135.05" width="10.80" height="4.95" fill="#0a0a0a"/>
<rect x="141.00" y="135.05" width="19.30" height="4.95" fill="#bababa"/>
<rect x="160.00" y="135.05" width="5.30" height="4.95" fill="#0a0a0a"/>
<rect x="165.00" y="135.05" width="9.30" height="4.95" fill="#bababa"/>
<rect x="174.00" y="135.05" width="2.30" height="4.95" fill="#0a0a0a"/>
<rect x="176.00" y="135.05" width="2.30" height="4.95" fill="#707070"/>
<rect x="178.00" y="135.05" width="3.30" height="4.95" fill="#0a0a0a"/>
<rect x="181.00" y="135.05" width="12.30" height="4.95" fill="#bababa"/>
<rect x="193.00" y="135.05" width="5.30" height="4.95" fill="#0a0a0a"/>
<rect x="198.00" y="135.05" width="4.30" height="4.95" fill="#bababa"/>
<rect x="202.00" y="135.05" width="5.30" height="4.95" fill="#0a0a0a"/>
<rect x="207.00" y="135.05" width="2.30" height="4.95" fill="#707070"/>
<rect x="209.00" y="135.05" width="16.30" height="4.95" fill="#0a0a0a"/>
<rect x="225.00" y="135.05" width="15.30" height="4.95" fill="#ffffff"/>
<rect x="240.00" y="135.05" width="18.30" height="4.95" fill="#b0b0b0"/>
<rect x="258.00" y="135.05" width="14.30" height="4.95" fill="#0a0a0a"/>
<rect x="272.00" y="135.05" width="8.30" height="4.95" fill="#ffffff"/>
<text x="13.20" y="139.30" font-size="5.3" font-weight="bold" fill="#f0f0f0" textLength="6.60" lengthAdjust="spacingAndGlyphs">GCG</text>
<text x="20.20" y="139.30" font-size="5.3" font-weight="bold" fill="#303030" textLength="8.60" lengthAdjust="spacingAndGlyphs">GTC</text>
<text x="29.20" y="139.30" font-size="5.3" font-weight="bold" fill="#f0f0f0" textLength="9.60" lengthAdjust="spacingAndGlyphs">CGCG</text>
<text x="39.20" y="139.30" font-size="5.3" font-weight="bold" fill="#303030" textLength="4.10" lengthAdjust="spacingAndGlyphs">TT</text>
<text x="43.70" y="139.30" font-size="5.3" font-weight="bold" fill="#ffffff" textLength="10.10" lengthAdjust="spacingAndGlyphs">GGAT</text>
<text x="54.20" y="139.30" font-size="5.3" font-weight="bold" fill="#303030" textLength="6.60" lengthAdjust="spacingAndGlyphs">AGT</text>
<text x="61.20" y="139.30" font-size="5.3" font-weight="bold" fill="#f0f0f0" textLength="9.60" lengthAdjust="spacingAndGlyphs">TATG</text>
<text x="72.70" y="139.30" font-size="5.3" font-weight="bold" fill="#f0f0f0" textLength="38.10" lengthAdjust="spacingAndGlyphs">GACCTATAAAACCGC</text>
<text x="111.20" y="139.30" font-size="5.3" font-weight="bold" fill="#202020" textLength="5.60" lengthAdjust="spacingAndGlyphs">TA</text>
<text x="117.20" y="139.30" font-size="5.3" font-weight="bold" fill="#f4f4f4" textLength="2.60" lengthAdjust="spacingAndGlyphs">C</text>
<text x="120.20" y="139.30" font-size="5.3" font-weight="bold" fill="#303030" textLength="10.10" lengthAdjust="spacingAndGlyphs">ATTC</text>
<text x="130.70" y="139.30" font-size="5.3" font-weight="bold" fill="#f0f0f0" textLength="10.10" lengthAdjust="spacingAndGlyphs">ATGA</text>
<text x="141.20" y="139.30" font-size="5.3" font-weight="bold" fill="#303030" textLength="18.60" lengthAdjust="spacingAndGlyphs">ACTTAAG</text>
<text x="160.20" y="139.30" font-size="5.3" font-weight="bold" fill="#f0f0f0" textLength="4.60" lengthAdjust="spacingAndGlyphs">CC</text>
<text x="165.20" y="139.30" font-size="5.3" font-weight="bold" fill="#303030" textLength="8.60" lengthAdjust="spacingAndGlyphs">CTG</text>
<text x="178.20" y="139.30" font-size="5.3" font-weight="bold" fill="#f0f0f0" textLength="2.60" lengthAdjust="spacingAndGlyphs">C</text>
<text x="181.20" y="139.30" font-size="5.3" font-weight="bold" fill="#303030" textLength="11.60" lengthAdjust="spacingAndGlyphs">AGCTA</text>
<text x="193.20" y="139.30" font-size="5.3" font-weight="bold" fill="#f0f0f0" textLength="4.60" lengthAdjust="spacingAndGlyphs">GT</text>
<text x="198.20" y="139.30" font-size="5.3" font-weight="bold" fill="#303030" textLength="3.60" lengthAdjust="spacingAndGlyphs">TT</text>
<text x="202.20" y="139.30" font-size="5.3" font-weight="bold" fill="#f0f0f0" textLength="4.60" lengthAdjust="spacingAndGlyphs">TC</text>
<text x="209.20" y="139.30" font-size="5.3" font-weight="bold" fill="#f0f0f0" textLength="15.60" lengthAdjust="spacingAndGlyphs">GCGCCT</text>
<line x1="229.50" y1="137.53" x2="234.00" y2="137.53" stroke="#888" stroke-width="0.5"/>
<text x="240.20" y="139.30" font-size="5.3" font-weight="bold" fill="#202020" textLength="17.60" lengthAdjust="spacingAndGlyphs">CCGGGCA</text>
<text x="258.20" y="139.30" font-size="5.3" font-weight="bold" fill="#f0f0f0" textLength="13.60" lengthAdjust="spacingAndGlyphs">ATCAG</text>
<text x="272.20" y="139.30" font-size="5.3" font-weight="bold" fill="#202020" textLength="7.60" lengthAdjust="spacingAndGlyphs">AGT</text>
<line x1="11" y1="34.50" x2="48" y2="34.50" stroke="#999" stroke-width="0.7"/>
<text x="48.3" y="36.30" font-size="5" fill="#333">C</text>
<text x="244.4" y="14.6" font-size="4.2" fill="#3c4050" text-anchor="middle">EB1</text>
<text x="37" y="41.3" font-size="4.2" fill="#3c4050" text-anchor="middle">E1</text>
<text x="113.3" y="66.9" font-size="4.2" fill="#3c4050" text-anchor="middle">EB2</text>
<text x="134.6" y="66.9" font-size="4.2" fill="#3c4050" text-anchor="middle">G1</text>
<text x="236.1" y="66.9" font-size="4.2" fill="#3c4050" text-anchor="middle">E2</text>
<text x="268.7" y="66.9" font-size="4.2" fill="#3c4050" text-anchor="middle">E3</text>
<text x="285" y="66.9" font-size="4.2" fill="#3c4050" text-anchor="middle">E4</text>
<text x="26.2" y="92.8" font-size="4.2" fill="#3c4050" text-anchor="middle">EB3</text>
<text x="46.8" y="118.9" font-size="4.2" fill="#3c4050" text-anchor="middle">G2</text>
<text x="311.5" y="9.3" font-size="10.2" font-weight="bold" fill="#111">B</text>
<rect x="324.3" y="26.8" width="94.1" height="10" fill="#1a1a1a" stroke="#000" stroke-width="0.8"/>
<line x1="418.4" y1="31.8" x2="452" y2="31.8" stroke="#111" stroke-width="1.1"/>
<line x1="452" y1="29.2" x2="452" y2="34.4" stroke="#111" stroke-width="1.4"/>
<rect x="324.3" y="41.8" width="46.3" height="9.2" fill="#fff" stroke="#111" stroke-width="1.1"/>
<line x1="370.6" y1="46.4" x2="384" y2="46.4" stroke="#111" stroke-width="1.1"/>
<line x1="384" y1="43.8" x2="384" y2="49" stroke="#111" stroke-width="1.4"/>
<path d="M324.3 55.5 Q328 60.4 324.3 65.5" fill="#222" stroke="#111" stroke-width="1"/>
<path d="M324.3 80.5 Q326.2 84.6 324.3 88.7" fill="none" stroke="#111" stroke-width="1"/>
<path d="M324.3 110 Q326.2 114.2 324.3 118.5" fill="none" stroke="#111" stroke-width="1"/>
<line x1="324.3" y1="19.6" x2="324.3" y2="127.8" stroke="#111" stroke-width="1.1"/>
<line x1="323.8" y1="127.3" x2="486" y2="127.3" stroke="#111" stroke-width="1.1"/>
<line x1="321.3" y1="46.2" x2="324.3" y2="46.2" stroke="#111" stroke-width="1"/>
<line x1="321.3" y1="99.4" x2="324.3" y2="99.4" stroke="#111" stroke-width="1"/>
<line x1="324.4" y1="127.3" x2="324.4" y2="130.5" stroke="#111" stroke-width="1"/>
<text x="324.4" y="138.1" font-size="7.7" fill="#111" text-anchor="middle">0</text>
<line x1="364.9" y1="127.3" x2="364.9" y2="130.5" stroke="#111" stroke-width="1"/>
<text x="364.9" y="138.1" font-size="7.7" fill="#111" text-anchor="middle">100</text>
<line x1="405.4" y1="127.3" x2="405.4" y2="130.5" stroke="#111" stroke-width="1"/>
<text x="405.4" y="138.1" font-size="7.7" fill="#111" text-anchor="middle">200</text>
<line x1="445.9" y1="127.3" x2="445.9" y2="130.5" stroke="#111" stroke-width="1"/>
<text x="445.9" y="138.1" font-size="7.7" fill="#111" text-anchor="middle">300</text>
<line x1="486.4" y1="127.3" x2="486.4" y2="130.5" stroke="#111" stroke-width="1"/>
<text x="486.4" y="138.1" font-size="7.7" fill="#111" text-anchor="middle">400</text>
<text x="311.5" y="150.4" font-size="11.2" fill="#222" textLength="184.5" lengthAdjust="spacingAndGlyphs">Enhancer activity of the +85 element</text>
<text transform="translate(317.8,46.2) rotate(-90)" font-size="8.3" fill="#222" text-anchor="middle">pGL2P +85</text>
<text transform="translate(317.8,99.6) rotate(-90)" font-size="8.3" fill="#222" text-anchor="middle">pGL2P</text>
<rect x="442.3" y="84.6" width="12.6" height="6" fill="#1a1a1a" stroke="#111" stroke-width="1"/>
<rect x="442.3" y="97" width="12.6" height="6" fill="#fff" stroke="#111" stroke-width="1"/>
<rect x="442.3" y="109.4" width="12.6" height="6" fill="#9a9a9a" stroke="#111" stroke-width="1"/>
<text x="460.6" y="90.6" font-size="8.4" fill="#333">Molt4</text>
<text x="460.6" y="103" font-size="8.4" fill="#333">416B</text>
<text x="460.6" y="115.4" font-size="8.4" fill="#333">REH</text>
<text x="-0.5" y="169.8" font-size="10.9" font-weight="bold" fill="#111">C</text>
<line x1="3.8" y1="183.90" x2="241.5" y2="183.90" stroke="#151515" stroke-width="1.4"/>
<rect x="186.3" y="178.70" width="45.2" height="10.4" rx="5.2" fill="#8dc640" stroke="#111" stroke-width="1.45"/>
<text x="208.9" y="185.90" font-size="5.8" fill="#1f3808" text-anchor="middle">SV40</text>
<line x1="3.8" y1="201.98" x2="241.5" y2="201.98" stroke="#151515" stroke-width="1.4"/>
<ellipse cx="23.4" cy="201.98" rx="8.35" ry="5.25" fill="#f4ee1e" stroke="#111" stroke-width="1.45"/>
<text x="23.4" y="203.98" font-size="5.6" fill="#4a4400" text-anchor="middle">EB1</text>
<ellipse cx="40.7" cy="201.98" rx="8.35" ry="5.25" fill="#5ea4dc" stroke="#111" stroke-width="1.45"/>
<text x="40.7" y="203.98" font-size="5.6" fill="#1d4a78" text-anchor="middle">E1</text>
<ellipse cx="63.8" cy="201.98" rx="8.35" ry="5.25" fill="#f4ee1e" stroke="#111" stroke-width="1.45"/>
<text x="63.8" y="203.98" font-size="5.6" fill="#4a4400" text-anchor="middle">EB2</text>
<ellipse cx="80.7" cy="201.98" rx="8.35" ry="5.25" fill="#e5232a" stroke="#111" stroke-width="1.45"/>
<text x="80.7" y="203.98" font-size="5.6" fill="#6a0a0e" text-anchor="middle">G1</text>
<ellipse cx="101.4" cy="201.98" rx="8.35" ry="5.25" fill="#5ea4dc" stroke="#111" stroke-width="1.45"/>
<text x="101.4" y="203.98" font-size="5.6" fill="#1d4a78" text-anchor="middle">E2</text>
<ellipse cx="118.2" cy="201.98" rx="8.35" ry="5.25" fill="#5ea4dc" stroke="#111" stroke-width="1.45"/>
<text x="118.2" y="203.98" font-size="5.6" fill="#1d4a78" text-anchor="middle">E3</text>
<ellipse cx="134.8" cy="201.98" rx="8.35" ry="5.25" fill="#5ea4dc" stroke="#111" stroke-width="1.45"/>
<text x="134.8" y="203.98" font-size="5.6" fill="#1d4a78" text-anchor="middle">E4</text>
<ellipse cx="152.6" cy="201.98" rx="8.35" ry="5.25" fill="#f4ee1e" stroke="#111" stroke-width="1.45"/>
<text x="152.6" y="203.98" font-size="5.6" fill="#4a4400" text-anchor="middle">EB3</text>
<ellipse cx="173.5" cy="201.98" rx="8.35" ry="5.25" fill="#e5232a" stroke="#111" stroke-width="1.45"/>
<text x="173.5" y="203.98" font-size="5.6" fill="#6a0a0e" text-anchor="middle">G2</text>
<rect x="186.3" y="196.78" width="45.2" height="10.4" rx="5.2" fill="#8dc640" stroke="#111" stroke-width="1.45"/>
<text x="208.9" y="203.98" font-size="5.8" fill="#1f3808" text-anchor="middle">SV40</text>
<line x1="3.8" y1="220.06" x2="241.5" y2="220.06" stroke="#151515" stroke-width="1.4"/>
<ellipse cx="23.4" cy="220.06" rx="8.35" ry="5.25" fill="#f4ee1e" stroke="#111" stroke-width="1.45"/>
<text x="23.4" y="222.06" font-size="5.6" fill="#4a4400" text-anchor="middle">EB1</text>
<ellipse cx="40.7" cy="220.06" rx="8.35" ry="5.25" fill="#5ea4dc" stroke="#111" stroke-width="1.45"/>
<text x="40.7" y="222.06" font-size="5.6" fill="#1d4a78" text-anchor="middle">E1</text>
<ellipse cx="63.8" cy="220.06" rx="8.35" ry="5.25" fill="#f4ee1e" stroke="#111" stroke-width="1.45"/>
<text x="63.8" y="222.06" font-size="5.6" fill="#4a4400" text-anchor="middle">EB2</text>
<ellipse cx="80.7" cy="220.06" rx="8.35" ry="5.25" fill="#e5232a" stroke="#111" stroke-width="1.45"/>
<text x="80.7" y="222.06" font-size="5.6" fill="#6a0a0e" text-anchor="middle">G1</text>
<ellipse cx="101.4" cy="220.06" rx="8.35" ry="5.25" fill="#5ea4dc" stroke="#111" stroke-width="1.45"/>
<text x="101.4" y="222.06" font-size="5.6" fill="#1d4a78" text-anchor="middle">E2</text>
<ellipse cx="118.2" cy="220.06" rx="8.35" ry="5.25" fill="#5ea4dc" stroke="#111" stroke-width="1.45"/>
<text x="118.2" y="222.06" font-size="5.6" fill="#1d4a78" text-anchor="middle">E3</text>
<ellipse cx="134.8" cy="220.06" rx="8.35" ry="5.25" fill="#5ea4dc" stroke="#111" stroke-width="1.45"/>
<text x="134.8" y="222.06" font-size="5.6" fill="#1d4a78" text-anchor="middle">E4</text>
<ellipse cx="152.6" cy="220.06" rx="8.35" ry="5.25" fill="#f4ee1e" stroke="#111" stroke-width="1.45"/>
<text x="152.6" y="222.06" font-size="5.6" fill="#4a4400" text-anchor="middle">EB3</text>
<rect x="186.3" y="214.86" width="45.2" height="10.4" rx="5.2" fill="#8dc640" stroke="#111" stroke-width="1.45"/>
<text x="208.9" y="222.06" font-size="5.8" fill="#1f3808" text-anchor="middle">SV40</text>
<line x1="3.8" y1="238.14" x2="241.5" y2="238.14" stroke="#151515" stroke-width="1.4"/>
<ellipse cx="63.8" cy="238.14" rx="8.35" ry="5.25" fill="#f4ee1e" stroke="#111" stroke-width="1.45"/>
<text x="63.8" y="240.14" font-size="5.6" fill="#4a4400" text-anchor="middle">EB2</text>
<ellipse cx="80.7" cy="238.14" rx="8.35" ry="5.25" fill="#e5232a" stroke="#111" stroke-width="1.45"/>
<text x="80.7" y="240.14" font-size="5.6" fill="#6a0a0e" text-anchor="middle">G1</text>
<ellipse cx="101.4" cy="238.14" rx="8.35" ry="5.25" fill="#5ea4dc" stroke="#111" stroke-width="1.45"/>
<text x="101.4" y="240.14" font-size="5.6" fill="#1d4a78" text-anchor="middle">E2</text>
<ellipse cx="118.2" cy="238.14" rx="8.35" ry="5.25" fill="#5ea4dc" stroke="#111" stroke-width="1.45"/>
<text x="118.2" y="240.14" font-size="5.6" fill="#1d4a78" text-anchor="middle">E3</text>
<ellipse cx="134.8" cy="238.14" rx="8.35" ry="5.25" fill="#5ea4dc" stroke="#111" stroke-width="1.45"/>
<text x="134.8" y="240.14" font-size="5.6" fill="#1d4a78" text-anchor="middle">E4</text>
<ellipse cx="152.6" cy="238.14" rx="8.35" ry="5.25" fill="#f4ee1e" stroke="#111" stroke-width="1.45"/>
<text x="152.6" y="240.14" font-size="5.6" fill="#4a4400" text-anchor="middle">EB3</text>
<ellipse cx="173.5" cy="238.14" rx="8.35" ry="5.25" fill="#e5232a" stroke="#111" stroke-width="1.45"/>
<text x="173.5" y="240.14" font-size="5.6" fill="#6a0a0e" text-anchor="middle">G2</text>
<rect x="186.3" y="232.94" width="45.2" height="10.4" rx="5.2" fill="#8dc640" stroke="#111" stroke-width="1.45"/>
<text x="208.9" y="240.14" font-size="5.8" fill="#1f3808" text-anchor="middle">SV40</text>
<line x1="3.8" y1="256.22" x2="241.5" y2="256.22" stroke="#151515" stroke-width="1.4"/>
<ellipse cx="40.7" cy="256.22" rx="8.35" ry="5.25" fill="#5ea4dc" stroke="#111" stroke-width="1.45"/>
<text x="40.7" y="258.22" font-size="5.6" fill="#1d4a78" text-anchor="middle">E1</text>
<ellipse cx="63.8" cy="256.22" rx="8.35" ry="5.25" fill="#f4ee1e" stroke="#111" stroke-width="1.45"/>
<text x="63.8" y="258.22" font-size="5.6" fill="#4a4400" text-anchor="middle">EB2</text>
<ellipse cx="80.7" cy="256.22" rx="8.35" ry="5.25" fill="#e5232a" stroke="#111" stroke-width="1.45"/>
<text x="80.7" y="258.22" font-size="5.6" fill="#6a0a0e" text-anchor="middle">G1</text>
<ellipse cx="101.4" cy="256.22" rx="8.35" ry="5.25" fill="#5ea4dc" stroke="#111" stroke-width="1.45"/>
<text x="101.4" y="258.22" font-size="5.6" fill="#1d4a78" text-anchor="middle">E2</text>
<ellipse cx="118.2" cy="256.22" rx="8.35" ry="5.25" fill="#5ea4dc" stroke="#111" stroke-width="1.45"/>
<text x="118.2" y="258.22" font-size="5.6" fill="#1d4a78" text-anchor="middle">E3</text>
<ellipse cx="134.8" cy="256.22" rx="8.35" ry="5.25" fill="#5ea4dc" stroke="#111" stroke-width="1.45"/>
<text x="134.8" y="258.22" font-size="5.6" fill="#1d4a78" text-anchor="middle">E4</text>
<ellipse cx="152.6" cy="256.22" rx="8.35" ry="5.25" fill="#f4ee1e" stroke="#111" stroke-width="1.45"/>
<text x="152.6" y="258.22" font-size="5.6" fill="#4a4400" text-anchor="middle">EB3</text>
<ellipse cx="173.5" cy="256.22" rx="8.35" ry="5.25" fill="#e5232a" stroke="#111" stroke-width="1.45"/>
<text x="173.5" y="258.22" font-size="5.6" fill="#6a0a0e" text-anchor="middle">G2</text>
<rect x="186.3" y="251.02" width="45.2" height="10.4" rx="5.2" fill="#8dc640" stroke="#111" stroke-width="1.45"/>
<text x="208.9" y="258.22" font-size="5.8" fill="#1f3808" text-anchor="middle">SV40</text>
<line x1="3.8" y1="274.30" x2="241.5" y2="274.30" stroke="#151515" stroke-width="1.4"/>
<ellipse cx="23.4" cy="274.30" rx="8.35" ry="5.25" fill="#f4ee1e" stroke="#111" stroke-width="1.45"/>
<text x="23.4" y="276.30" font-size="5.6" fill="#4a4400" text-anchor="middle">EB1</text>
<ellipse cx="63.8" cy="274.30" rx="8.35" ry="5.25" fill="#f4ee1e" stroke="#111" stroke-width="1.45"/>
<text x="63.8" y="276.30" font-size="5.6" fill="#4a4400" text-anchor="middle">EB2</text>
<ellipse cx="80.7" cy="274.30" rx="8.35" ry="5.25" fill="#e5232a" stroke="#111" stroke-width="1.45"/>
<text x="80.7" y="276.30" font-size="5.6" fill="#6a0a0e" text-anchor="middle">G1</text>
<ellipse cx="101.4" cy="274.30" rx="8.35" ry="5.25" fill="#5ea4dc" stroke="#111" stroke-width="1.45"/>
<text x="101.4" y="276.30" font-size="5.6" fill="#1d4a78" text-anchor="middle">E2</text>
<ellipse cx="118.2" cy="274.30" rx="8.35" ry="5.25" fill="#5ea4dc" stroke="#111" stroke-width="1.45"/>
<text x="118.2" y="276.30" font-size="5.6" fill="#1d4a78" text-anchor="middle">E3</text>
<ellipse cx="134.8" cy="274.30" rx="8.35" ry="5.25" fill="#5ea4dc" stroke="#111" stroke-width="1.45"/>
<text x="134.8" y="276.30" font-size="5.6" fill="#1d4a78" text-anchor="middle">E4</text>
<ellipse cx="152.6" cy="274.30" rx="8.35" ry="5.25" fill="#f4ee1e" stroke="#111" stroke-width="1.45"/>
<text x="152.6" y="276.30" font-size="5.6" fill="#4a4400" text-anchor="middle">EB3</text>
<ellipse cx="173.5" cy="274.30" rx="8.35" ry="5.25" fill="#e5232a" stroke="#111" stroke-width="1.45"/>
<text x="173.5" y="276.30" font-size="5.6" fill="#6a0a0e" text-anchor="middle">G2</text>
<rect x="186.3" y="269.10" width="45.2" height="10.4" rx="5.2" fill="#8dc640" stroke="#111" stroke-width="1.45"/>
<text x="208.9" y="276.30" font-size="5.8" fill="#1f3808" text-anchor="middle">SV40</text>
<line x1="3.8" y1="292.38" x2="241.5" y2="292.38" stroke="#151515" stroke-width="1.4"/>
<ellipse cx="23.4" cy="292.38" rx="8.35" ry="5.25" fill="#f4ee1e" stroke="#111" stroke-width="1.45"/>
<text x="23.4" y="294.38" font-size="5.6" fill="#4a4400" text-anchor="middle">EB1</text>
<ellipse cx="40.7" cy="292.38" rx="8.35" ry="5.25" fill="#5ea4dc" stroke="#111" stroke-width="1.45"/>
<text x="40.7" y="294.38" font-size="5.6" fill="#1d4a78" text-anchor="middle">E1</text>
<ellipse cx="173.5" cy="292.38" rx="8.35" ry="5.25" fill="#e5232a" stroke="#111" stroke-width="1.45"/>
<text x="173.5" y="294.38" font-size="5.6" fill="#6a0a0e" text-anchor="middle">G2</text>
<rect x="186.3" y="287.18" width="45.2" height="10.4" rx="5.2" fill="#8dc640" stroke="#111" stroke-width="1.45"/>
<text x="208.9" y="294.38" font-size="5.8" fill="#1f3808" text-anchor="middle">SV40</text>
<line x1="3.8" y1="310.46" x2="241.5" y2="310.46" stroke="#151515" stroke-width="1.4"/>
<ellipse cx="23.4" cy="310.46" rx="8.35" ry="5.25" fill="#f4ee1e" stroke="#111" stroke-width="1.45"/>
<text x="23.4" y="312.46" font-size="5.6" fill="#4a4400" text-anchor="middle">EB1</text>
<ellipse cx="40.7" cy="310.46" rx="8.35" ry="5.25" fill="#5ea4dc" stroke="#111" stroke-width="1.45"/>
<text x="40.7" y="312.46" font-size="5.6" fill="#1d4a78" text-anchor="middle">E1</text>
<ellipse cx="101.4" cy="310.46" rx="8.35" ry="5.25" fill="#5ea4dc" stroke="#111" stroke-width="1.45"/>
<text x="101.4" y="312.46" font-size="5.6" fill="#1d4a78" text-anchor="middle">E2</text>
<ellipse cx="118.2" cy="310.46" rx="8.35" ry="5.25" fill="#5ea4dc" stroke="#111" stroke-width="1.45"/>
<text x="118.2" y="312.46" font-size="5.6" fill="#1d4a78" text-anchor="middle">E3</text>
<ellipse cx="134.8" cy="310.46" rx="8.35" ry="5.25" fill="#5ea4dc" stroke="#111" stroke-width="1.45"/>
<text x="134.8" y="312.46" font-size="5.6" fill="#1d4a78" text-anchor="middle">E4</text>
<ellipse cx="152.6" cy="310.46" rx="8.35" ry="5.25" fill="#f4ee1e" stroke="#111" stroke-width="1.45"/>
<text x="152.6" y="312.46" font-size="5.6" fill="#4a4400" text-anchor="middle">EB3</text>
<ellipse cx="173.5" cy="310.46" rx="8.35" ry="5.25" fill="#e5232a" stroke="#111" stroke-width="1.45"/>
<text x="173.5" y="312.46" font-size="5.6" fill="#6a0a0e" text-anchor="middle">G2</text>
<rect x="186.3" y="305.26" width="45.2" height="10.4" rx="5.2" fill="#8dc640" stroke="#111" stroke-width="1.45"/>
<text x="208.9" y="312.46" font-size="5.8" fill="#1f3808" text-anchor="middle">SV40</text>
<line x1="3.8" y1="328.54" x2="241.5" y2="328.54" stroke="#151515" stroke-width="1.4"/>
<ellipse cx="23.4" cy="328.54" rx="8.35" ry="5.25" fill="#f4ee1e" stroke="#111" stroke-width="1.45"/>
<text x="23.4" y="330.54" font-size="5.6" fill="#4a4400" text-anchor="middle">EB1</text>
<ellipse cx="40.7" cy="328.54" rx="8.35" ry="5.25" fill="#5ea4dc" stroke="#111" stroke-width="1.45"/>
<text x="40.7" y="330.54" font-size="5.6" fill="#1d4a78" text-anchor="middle">E1</text>
<ellipse cx="80.7" cy="328.54" rx="8.35" ry="5.25" fill="#e5232a" stroke="#111" stroke-width="1.45"/>
<text x="80.7" y="330.54" font-size="5.6" fill="#6a0a0e" text-anchor="middle">G1</text>
<ellipse cx="101.4" cy="328.54" rx="8.35" ry="5.25" fill="#5ea4dc" stroke="#111" stroke-width="1.45"/>
<text x="101.4" y="330.54" font-size="5.6" fill="#1d4a78" text-anchor="middle">E2</text>
<ellipse cx="118.2" cy="328.54" rx="8.35" ry="5.25" fill="#5ea4dc" stroke="#111" stroke-width="1.45"/>
<text x="118.2" y="330.54" font-size="5.6" fill="#1d4a78" text-anchor="middle">E3</text>
<ellipse cx="134.8" cy="328.54" rx="8.35" ry="5.25" fill="#5ea4dc" stroke="#111" stroke-width="1.45"/>
<text x="134.8" y="330.54" font-size="5.6" fill="#1d4a78" text-anchor="middle">E4</text>
<ellipse cx="152.6" cy="328.54" rx="8.35" ry="5.25" fill="#f4ee1e" stroke="#111" stroke-width="1.45"/>
<text x="152.6" y="330.54" font-size="5.6" fill="#4a4400" text-anchor="middle">EB3</text>
<ellipse cx="173.5" cy="328.54" rx="8.35" ry="5.25" fill="#e5232a" stroke="#111" stroke-width="1.45"/>
<text x="173.5" y="330.54" font-size="5.6" fill="#6a0a0e" text-anchor="middle">G2</text>
<rect x="186.3" y="323.34" width="45.2" height="10.4" rx="5.2" fill="#8dc640" stroke="#111" stroke-width="1.45"/>
<text x="208.9" y="330.54" font-size="5.8" fill="#1f3808" text-anchor="middle">SV40</text>
<line x1="3.8" y1="346.62" x2="241.5" y2="346.62" stroke="#151515" stroke-width="1.4"/>
<ellipse cx="23.4" cy="346.62" rx="8.35" ry="5.25" fill="#f4ee1e" stroke="#111" stroke-width="1.45"/>
<text x="23.4" y="348.62" font-size="5.6" fill="#4a4400" text-anchor="middle">EB1</text>
<ellipse cx="40.7" cy="346.62" rx="8.35" ry="5.25" fill="#5ea4dc" stroke="#111" stroke-width="1.45"/>
<text x="40.7" y="348.62" font-size="5.6" fill="#1d4a78" text-anchor="middle">E1</text>
<ellipse cx="63.8" cy="346.62" rx="8.35" ry="5.25" fill="#f4ee1e" stroke="#111" stroke-width="1.45"/>
<text x="63.8" y="348.62" font-size="5.6" fill="#4a4400" text-anchor="middle">EB2</text>
<ellipse cx="80.7" cy="346.62" rx="8.35" ry="5.25" fill="#e5232a" stroke="#111" stroke-width="1.45"/>
<text x="80.7" y="348.62" font-size="5.6" fill="#6a0a0e" text-anchor="middle">G1</text>
<ellipse cx="173.5" cy="346.62" rx="8.35" ry="5.25" fill="#e5232a" stroke="#111" stroke-width="1.45"/>
<text x="173.5" y="348.62" font-size="5.6" fill="#6a0a0e" text-anchor="middle">G2</text>
<rect x="186.3" y="341.42" width="45.2" height="10.4" rx="5.2" fill="#8dc640" stroke="#111" stroke-width="1.45"/>
<text x="208.9" y="348.62" font-size="5.8" fill="#1f3808" text-anchor="middle">SV40</text>
<line x1="3.8" y1="364.70" x2="241.5" y2="364.70" stroke="#151515" stroke-width="1.4"/>
<ellipse cx="23.4" cy="364.70" rx="8.35" ry="5.25" fill="#f4ee1e" stroke="#111" stroke-width="1.45"/>
<text x="23.4" y="366.70" font-size="5.6" fill="#4a4400" text-anchor="middle">EB1</text>
<ellipse cx="40.7" cy="364.70" rx="8.35" ry="5.25" fill="#5ea4dc" stroke="#111" stroke-width="1.45"/>
<text x="40.7" y="366.70" font-size="5.6" fill="#1d4a78" text-anchor="middle">E1</text>
<ellipse cx="63.8" cy="364.70" rx="8.35" ry="5.25" fill="#f4ee1e" stroke="#111" stroke-width="1.45"/>
<text x="63.8" y="366.70" font-size="5.6" fill="#4a4400" text-anchor="middle">EB2</text>
<ellipse cx="80.7" cy="364.70" rx="8.35" ry="5.25" fill="#e5232a" stroke="#111" stroke-width="1.45"/>
<text x="80.7" y="366.70" font-size="5.6" fill="#6a0a0e" text-anchor="middle">G1</text>
<ellipse cx="101.4" cy="364.70" rx="8.35" ry="5.25" fill="#5ea4dc" stroke="#111" stroke-width="1.45"/>
<text x="101.4" y="366.70" font-size="5.6" fill="#1d4a78" text-anchor="middle">E2</text>
<ellipse cx="118.2" cy="364.70" rx="8.35" ry="5.25" fill="#5ea4dc" stroke="#111" stroke-width="1.45"/>
<text x="118.2" y="366.70" font-size="5.6" fill="#1d4a78" text-anchor="middle">E3</text>
<ellipse cx="134.8" cy="364.70" rx="8.35" ry="5.25" fill="#5ea4dc" stroke="#111" stroke-width="1.45"/>
<text x="134.8" y="366.70" font-size="5.6" fill="#1d4a78" text-anchor="middle">E4</text>
<ellipse cx="173.5" cy="364.70" rx="8.35" ry="5.25" fill="#e5232a" stroke="#111" stroke-width="1.45"/>
<text x="173.5" y="366.70" font-size="5.6" fill="#6a0a0e" text-anchor="middle">G2</text>
<rect x="186.3" y="359.50" width="45.2" height="10.4" rx="5.2" fill="#8dc640" stroke="#111" stroke-width="1.45"/>
<text x="208.9" y="366.70" font-size="5.8" fill="#1f3808" text-anchor="middle">SV40</text>
<line x1="3.8" y1="382.78" x2="241.5" y2="382.78" stroke="#151515" stroke-width="1.4"/>
<ellipse cx="23.4" cy="382.78" rx="8.35" ry="5.25" fill="#f4ee1e" stroke="#111" stroke-width="1.45"/>
<text x="23.4" y="384.78" font-size="5.6" fill="#4a4400" text-anchor="middle">EB1</text>
<ellipse cx="40.7" cy="382.78" rx="8.35" ry="5.25" fill="#5ea4dc" stroke="#111" stroke-width="1.45"/>
<text x="40.7" y="384.78" font-size="5.6" fill="#1d4a78" text-anchor="middle">E1</text>
<ellipse cx="63.8" cy="382.78" rx="8.35" ry="5.25" fill="#f4ee1e" stroke="#111" stroke-width="1.45"/>
<text x="63.8" y="384.78" font-size="5.6" fill="#4a4400" text-anchor="middle">EB2</text>
<ellipse cx="80.7" cy="382.78" rx="8.35" ry="5.25" fill="#e5232a" stroke="#111" stroke-width="1.45"/>
<text x="80.7" y="384.78" font-size="5.6" fill="#6a0a0e" text-anchor="middle">G1</text>
<ellipse cx="152.6" cy="382.78" rx="8.35" ry="5.25" fill="#f4ee1e" stroke="#111" stroke-width="1.45"/>
<text x="152.6" y="384.78" font-size="5.6" fill="#4a4400" text-anchor="middle">EB3</text>
<ellipse cx="173.5" cy="382.78" rx="8.35" ry="5.25" fill="#e5232a" stroke="#111" stroke-width="1.45"/>
<text x="173.5" y="384.78" font-size="5.6" fill="#6a0a0e" text-anchor="middle">G2</text>
<rect x="186.3" y="377.58" width="45.2" height="10.4" rx="5.2" fill="#8dc640" stroke="#111" stroke-width="1.45"/>
<text x="208.9" y="384.78" font-size="5.8" fill="#1f3808" text-anchor="middle">SV40</text>
<line x1="256.8" y1="184.50" x2="259.8" y2="184.50" stroke="#222" stroke-width="0.9"/>
<line x1="256.8" y1="202.58" x2="259.8" y2="202.58" stroke="#222" stroke-width="0.9"/>
<rect x="259.8" y="196.88" width="169.2" height="11.4" fill="#232323" stroke="#0c0c0c" stroke-width="0.8"/>
<line x1="429" y1="202.58" x2="474.3" y2="202.58" stroke="#111" stroke-width="1.2"/>
<line x1="474.3" y1="199.88" x2="474.3" y2="205.28" stroke="#111" stroke-width="1.4"/>
<line x1="256.8" y1="220.66" x2="259.8" y2="220.66" stroke="#222" stroke-width="0.9"/>
<rect x="259.8" y="214.96" width="129.2" height="11.4" fill="#232323" stroke="#0c0c0c" stroke-width="0.8"/>
<line x1="389" y1="220.66" x2="418.7" y2="220.66" stroke="#111" stroke-width="1.2"/>
<line x1="418.7" y1="217.96" x2="418.7" y2="223.36" stroke="#111" stroke-width="1.4"/>
<line x1="256.8" y1="238.74" x2="259.8" y2="238.74" stroke="#222" stroke-width="0.9"/>
<line x1="256.8" y1="256.82" x2="259.8" y2="256.82" stroke="#222" stroke-width="0.9"/>
<rect x="259.8" y="251.12" width="19.8" height="11.4" fill="#232323" stroke="#0c0c0c" stroke-width="0.8"/>
<line x1="279.6" y1="256.82" x2="296.7" y2="256.82" stroke="#111" stroke-width="1.2"/>
<line x1="296.7" y1="254.12" x2="296.7" y2="259.52" stroke="#111" stroke-width="1.4"/>
<line x1="256.8" y1="274.90" x2="259.8" y2="274.90" stroke="#222" stroke-width="0.9"/>
<rect x="259.8" y="269.20" width="146.0" height="11.4" fill="#232323" stroke="#0c0c0c" stroke-width="0.8"/>
<line x1="405.8" y1="274.90" x2="452" y2="274.90" stroke="#111" stroke-width="1.2"/>
<line x1="452" y1="272.20" x2="452" y2="277.60" stroke="#111" stroke-width="1.4"/>
<line x1="256.8" y1="292.98" x2="259.8" y2="292.98" stroke="#222" stroke-width="0.9"/>
<line x1="256.8" y1="311.06" x2="259.8" y2="311.06" stroke="#222" stroke-width="0.9"/>
<rect x="259.8" y="305.36" width="48.2" height="11.4" fill="#232323" stroke="#0c0c0c" stroke-width="0.8"/>
<line x1="308" y1="311.06" x2="332" y2="311.06" stroke="#111" stroke-width="1.2"/>
<line x1="332" y1="308.36" x2="332" y2="313.76" stroke="#111" stroke-width="1.4"/>
<line x1="256.8" y1="329.14" x2="259.8" y2="329.14" stroke="#222" stroke-width="0.9"/>
<rect x="259.8" y="323.44" width="100.2" height="11.4" fill="#232323" stroke="#0c0c0c" stroke-width="0.8"/>
<line x1="360" y1="329.14" x2="386.5" y2="329.14" stroke="#111" stroke-width="1.2"/>
<line x1="386.5" y1="326.44" x2="386.5" y2="331.84" stroke="#111" stroke-width="1.4"/>
<line x1="256.8" y1="347.22" x2="259.8" y2="347.22" stroke="#222" stroke-width="0.9"/>
<rect x="259.8" y="341.52" width="2.0" height="11.4" fill="#232323" stroke="#0c0c0c" stroke-width="0.8"/>
<line x1="256.8" y1="365.30" x2="259.8" y2="365.30" stroke="#222" stroke-width="0.9"/>
<rect x="259.8" y="359.60" width="88.8" height="11.4" fill="#232323" stroke="#0c0c0c" stroke-width="0.8"/>
<line x1="348.6" y1="365.30" x2="377.7" y2="365.30" stroke="#111" stroke-width="1.2"/>
<line x1="377.7" y1="362.60" x2="377.7" y2="368.00" stroke="#111" stroke-width="1.4"/>
<line x1="256.8" y1="383.38" x2="259.8" y2="383.38" stroke="#222" stroke-width="0.9"/>
<rect x="259.8" y="377.68" width="5.8" height="11.4" fill="#232323" stroke="#0c0c0c" stroke-width="0.8"/>
<line x1="265.6" y1="383.38" x2="267.8" y2="383.38" stroke="#111" stroke-width="1.2"/>
<line x1="267.8" y1="380.68" x2="267.8" y2="386.08" stroke="#111" stroke-width="1.4"/>
<line x1="259.8" y1="175" x2="259.8" y2="391.8" stroke="#151515" stroke-width="1.2"/>
<line x1="259.8" y1="391.6" x2="494.6" y2="391.6" stroke="#222" stroke-width="1"/>
<line x1="259.3" y1="391.6" x2="259.3" y2="394" stroke="#222" stroke-width="0.9"/>
<text x="259.3" y="399.6" font-size="5.8" font-weight="bold" fill="#333" text-anchor="middle">0</text>
<line x1="306.3" y1="391.6" x2="306.3" y2="394" stroke="#222" stroke-width="0.9"/>
<text x="306.3" y="399.6" font-size="5.8" font-weight="bold" fill="#333" text-anchor="middle">250</text>
<line x1="353.3" y1="391.6" x2="353.3" y2="394" stroke="#222" stroke-width="0.9"/>
<text x="353.3" y="399.6" font-size="5.8" font-weight="bold" fill="#333" text-anchor="middle">500</text>
<line x1="400.3" y1="391.6" x2="400.3" y2="394" stroke="#222" stroke-width="0.9"/>
<text x="400.3" y="399.6" font-size="5.8" font-weight="bold" fill="#333" text-anchor="middle">750</text>
<line x1="447.3" y1="391.6" x2="447.3" y2="394" stroke="#222" stroke-width="0.9"/>
<text x="447.3" y="399.6" font-size="5.8" font-weight="bold" fill="#333" text-anchor="middle">1000</text>
<line x1="494.3" y1="391.6" x2="494.3" y2="394" stroke="#222" stroke-width="0.9"/>
<text x="494.3" y="399.6" font-size="5.8" font-weight="bold" fill="#333" text-anchor="middle">1250</text>
<text x="244.4" y="412.7" font-size="11" fill="#222" textLength="273.5" lengthAdjust="spacingAndGlyphs">Relative enhancer activity of Erg +85 mutants in Molt4</text>
<text x="1.5" y="432.9" font-size="10.9" font-weight="bold" fill="#111">D</text>
<text x="70.15" y="445.7" font-size="7" font-weight="bold" fill="#1a1a1a" text-anchor="middle" textLength="16.5" lengthAdjust="spacingAndGlyphs">416B</text>
<line x1="21.5" y1="453.5" x2="21.5" y2="471.0" stroke="#222" stroke-width="0.9"/>
<line x1="21.5" y1="475.0" x2="21.5" y2="524.8" stroke="#222" stroke-width="0.9"/>
<line x1="21.5" y1="524.3" x2="128" y2="524.3" stroke="#222" stroke-width="0.9"/>
<line x1="19.7" y1="454.0" x2="21.5" y2="454.0" stroke="#222" stroke-width="0.7"/>
<text x="19.3" y="455.6" font-size="4.5" font-weight="bold" fill="#222" text-anchor="end">60</text>
<line x1="19.7" y1="462.0" x2="21.5" y2="462.0" stroke="#222" stroke-width="0.7"/>
<text x="19.3" y="463.6" font-size="4.5" font-weight="bold" fill="#222" text-anchor="end">40</text>
<line x1="19.7" y1="470.0" x2="21.5" y2="470.0" stroke="#222" stroke-width="0.7"/>
<text x="19.3" y="471.6" font-size="4.5" font-weight="bold" fill="#222" text-anchor="end">20</text>
<line x1="19.7" y1="524.3" x2="21.5" y2="524.3" stroke="#222" stroke-width="0.7"/>
<text x="19.3" y="525.9" font-size="4.5" font-weight="bold" fill="#222" text-anchor="end">0</text>
<line x1="19.7" y1="512.1" x2="21.5" y2="512.1" stroke="#222" stroke-width="0.7"/>
<text x="19.3" y="513.7" font-size="4.5" font-weight="bold" fill="#222" text-anchor="end">5</text>
<line x1="19.7" y1="499.9" x2="21.5" y2="499.9" stroke="#222" stroke-width="0.7"/>
<text x="19.3" y="501.5" font-size="4.5" font-weight="bold" fill="#222" text-anchor="end">10</text>
<line x1="19.7" y1="487.7" x2="21.5" y2="487.7" stroke="#222" stroke-width="0.7"/>
<text x="19.3" y="489.3" font-size="4.5" font-weight="bold" fill="#222" text-anchor="end">15</text>
<line x1="19.7" y1="475.5" x2="21.5" y2="475.5" stroke="#222" stroke-width="0.7"/>
<text x="19.3" y="477.1" font-size="4.5" font-weight="bold" fill="#222" text-anchor="end">20</text>
<text transform="translate(6.1,489.1) rotate(-90)" font-size="4.3" font-weight="bold" fill="#222" text-anchor="middle" textLength="73" lengthAdjust="spacingAndGlyphs">Enrichment of +85 relative to IgG</text>
<rect x="22.6" y="475.5" width="7.70" height="48.8" fill="#232323"/>
<line x1="26.45" y1="454" x2="26.45" y2="461.7" stroke="#222" stroke-width="1"/>
<line x1="24.45" y1="454" x2="28.45" y2="454" stroke="#222" stroke-width="1"/>
<rect x="22.6" y="461.7" width="7.70" height="9.3" fill="#232323"/>
<rect x="33.9" y="513.00" width="6.90" height="11.30" fill="#232323"/>
<rect x="44.5" y="515.00" width="7.10" height="9.30" fill="#232323"/>
<rect x="54.8" y="475.5" width="7.80" height="48.8" fill="#232323"/>
<path d="M54.80 470.90 Q54.80 467.70 57.50 467.20 L58.70 466.90 L59.90 467.20 Q62.60 467.70 62.60 470.90 Z" fill="#1e1e1e"/>
<rect x="65.6" y="506.20" width="7.30" height="18.10" fill="#232323"/>
<line x1="69.25" y1="501.8" x2="69.25" y2="506.2" stroke="#222" stroke-width="1"/>
<line x1="67.25" y1="501.8" x2="71.25" y2="501.8" stroke="#222" stroke-width="1"/>
<rect x="76.3" y="518.70" width="7.30" height="5.60" fill="#232323"/>
<line x1="79.95" y1="516.7" x2="79.95" y2="518.7" stroke="#222" stroke-width="1"/>
<line x1="77.95" y1="516.7" x2="81.95" y2="516.7" stroke="#222" stroke-width="1"/>
<rect x="86.8" y="522.40" width="7.30" height="1.90" fill="#232323"/>
<rect x="97.6" y="490.00" width="7.30" height="34.30" fill="#232323"/>
<line x1="101.25" y1="477.5" x2="101.25" y2="490" stroke="#222" stroke-width="1"/>
<line x1="99.25" y1="477.5" x2="103.25" y2="477.5" stroke="#222" stroke-width="1"/>
<rect x="108.1" y="522.40" width="7.30" height="1.90" fill="#232323"/>
<rect x="118.8" y="522.40" width="7.30" height="1.90" fill="#232323"/>
<line x1="26.45" y1="524.3" x2="26.45" y2="526.1" stroke="#222" stroke-width="0.6"/>
<text transform="translate(27.65,529.7) rotate(-35)" font-size="4.3" font-weight="bold" fill="#222" text-anchor="end">Aml1</text>
<line x1="37.35" y1="524.3" x2="37.35" y2="526.1" stroke="#222" stroke-width="0.6"/>
<text transform="translate(38.55,529.7) rotate(-35)" font-size="4.3" font-weight="bold" fill="#222" text-anchor="end">SCL</text>
<line x1="48.05" y1="524.3" x2="48.05" y2="526.1" stroke="#222" stroke-width="0.6"/>
<text transform="translate(49.25,529.7) rotate(-35)" font-size="4.3" font-weight="bold" fill="#222" text-anchor="end">Lyl1</text>
<line x1="58.70" y1="524.3" x2="58.70" y2="526.1" stroke="#222" stroke-width="0.6"/>
<text transform="translate(59.90,529.7) rotate(-35)" font-size="4.3" font-weight="bold" fill="#222" text-anchor="end">Lmo2</text>
<line x1="69.25" y1="524.3" x2="69.25" y2="526.1" stroke="#222" stroke-width="0.6"/>
<text transform="translate(70.45,529.7) rotate(-35)" font-size="4.3" font-weight="bold" fill="#222" text-anchor="end">Erg</text>
<line x1="79.95" y1="524.3" x2="79.95" y2="526.1" stroke="#222" stroke-width="0.6"/>
<text transform="translate(81.15,529.7) rotate(-35)" font-size="4.3" font-weight="bold" fill="#222" text-anchor="end">Fli1</text>
<line x1="90.45" y1="524.3" x2="90.45" y2="526.1" stroke="#222" stroke-width="0.6"/>
<text transform="translate(91.65,529.7) rotate(-35)" font-size="4.3" font-weight="bold" fill="#222" text-anchor="end">ETV2</text>
<line x1="101.25" y1="524.3" x2="101.25" y2="526.1" stroke="#222" stroke-width="0.6"/>
<text transform="translate(102.45,529.7) rotate(-35)" font-size="4.3" font-weight="bold" fill="#222" text-anchor="end">Gata2</text>
<line x1="111.75" y1="524.3" x2="111.75" y2="526.1" stroke="#222" stroke-width="0.6"/>
<text transform="translate(112.95,529.7) rotate(-35)" font-size="4.3" font-weight="bold" fill="#222" text-anchor="end">Gata3</text>
<line x1="122.45" y1="524.3" x2="122.45" y2="526.1" stroke="#222" stroke-width="0.6"/>
<text transform="translate(123.65,529.7) rotate(-35)" font-size="4.3" font-weight="bold" fill="#222" text-anchor="end">Hhex</text>
<text x="201.5" y="446.9" font-size="7" font-weight="bold" fill="#1a1a1a" text-anchor="middle" textLength="19.3" lengthAdjust="spacingAndGlyphs">Molt 4</text>
<line x1="154.7" y1="453.9" x2="154.7" y2="471.2" stroke="#222" stroke-width="0.9"/>
<line x1="154.7" y1="475.0" x2="154.7" y2="524.8" stroke="#222" stroke-width="0.9"/>
<line x1="154.7" y1="524.3" x2="258.5" y2="524.3" stroke="#222" stroke-width="0.9"/>
<line x1="152.89999999999998" y1="454.4" x2="154.7" y2="454.4" stroke="#222" stroke-width="0.7"/>
<text x="152.5" y="456.0" font-size="4.5" font-weight="bold" fill="#222" text-anchor="end">120</text>
<line x1="152.89999999999998" y1="462.4" x2="154.7" y2="462.4" stroke="#222" stroke-width="0.7"/>
<text x="152.5" y="464.0" font-size="4.5" font-weight="bold" fill="#222" text-anchor="end">70</text>
<line x1="152.89999999999998" y1="470.2" x2="154.7" y2="470.2" stroke="#222" stroke-width="0.7"/>
<text x="152.5" y="471.8" font-size="4.5" font-weight="bold" fill="#222" text-anchor="end">20</text>
<line x1="152.89999999999998" y1="524.3" x2="154.7" y2="524.3" stroke="#222" stroke-width="0.7"/>
<text x="152.5" y="525.9" font-size="4.5" font-weight="bold" fill="#222" text-anchor="end">0</text>
<line x1="152.89999999999998" y1="512.1" x2="154.7" y2="512.1" stroke="#222" stroke-width="0.7"/>
<text x="152.5" y="513.7" font-size="4.5" font-weight="bold" fill="#222" text-anchor="end">5</text>
<line x1="152.89999999999998" y1="499.9" x2="154.7" y2="499.9" stroke="#222" stroke-width="0.7"/>
<text x="152.5" y="501.5" font-size="4.5" font-weight="bold" fill="#222" text-anchor="end">10</text>
<line x1="152.89999999999998" y1="487.7" x2="154.7" y2="487.7" stroke="#222" stroke-width="0.7"/>
<text x="152.5" y="489.3" font-size="4.5" font-weight="bold" fill="#222" text-anchor="end">15</text>
<line x1="152.89999999999998" y1="475.5" x2="154.7" y2="475.5" stroke="#222" stroke-width="0.7"/>
<text x="152.5" y="477.1" font-size="4.5" font-weight="bold" fill="#222" text-anchor="end">20</text>
<text transform="translate(139.5,489.3) rotate(-90)" font-size="4.3" font-weight="bold" fill="#222" text-anchor="middle" textLength="73" lengthAdjust="spacingAndGlyphs">Enrichment of +85 relative to IgG</text>
<rect x="156.3" y="475.5" width="7.40" height="48.8" fill="#232323"/>
<line x1="160.00" y1="455" x2="160.00" y2="460.7" stroke="#222" stroke-width="1"/>
<line x1="158.00" y1="455" x2="162.00" y2="455" stroke="#222" stroke-width="1"/>
<rect x="156.3" y="460.7" width="7.40" height="10.5" fill="#232323"/>
<rect x="166.8" y="499.50" width="7.40" height="24.80" fill="#232323"/>
<line x1="170.50" y1="490.5" x2="170.50" y2="499.5" stroke="#222" stroke-width="1"/>
<line x1="168.50" y1="490.5" x2="172.50" y2="490.5" stroke="#222" stroke-width="1"/>
<rect x="177.5" y="522.00" width="7.10" height="2.30" fill="#232323"/>
<rect x="187.2" y="475.5" width="8.00" height="48.8" fill="#232323"/>
<path d="M187.20 471.10 Q187.20 468.80 190.00 468.30 L191.20 468.00 L192.40 468.30 Q195.20 468.80 195.20 471.10 Z" fill="#1e1e1e"/>
<rect x="198" y="498.80" width="7.20" height="25.50" fill="#232323"/>
<rect x="208.2" y="475.5" width="7.80" height="48.8" fill="#232323"/>
<path d="M208.20 471.10 Q208.20 470.00 210.90 469.50 L212.10 469.20 L213.30 469.50 Q216.00 470.00 216.00 471.10 Z" fill="#1e1e1e"/>
<rect x="218.8" y="522.50" width="7.40" height="1.80" fill="#232323"/>
<rect x="229.3" y="514.50" width="7.40" height="9.80" fill="#232323"/>
<rect x="240" y="488.00" width="7.50" height="36.30" fill="#232323"/>
<line x1="243.75" y1="483.8" x2="243.75" y2="488" stroke="#222" stroke-width="1"/>
<line x1="241.75" y1="483.8" x2="245.75" y2="483.8" stroke="#222" stroke-width="1"/>
<rect x="250" y="521.20" width="7.40" height="3.10" fill="#232323"/>
<line x1="253.70" y1="519.4" x2="253.70" y2="521.2" stroke="#222" stroke-width="1"/>
<line x1="251.70" y1="519.4" x2="255.70" y2="519.4" stroke="#222" stroke-width="1"/>
<line x1="160.00" y1="524.3" x2="160.00" y2="526.1" stroke="#222" stroke-width="0.6"/>
<text transform="translate(161.20,529.7) rotate(-35)" font-size="4.3" font-weight="bold" fill="#222" text-anchor="end">Aml1</text>
<line x1="170.50" y1="524.3" x2="170.50" y2="526.1" stroke="#222" stroke-width="0.6"/>
<text transform="translate(171.70,529.7) rotate(-35)" font-size="4.3" font-weight="bold" fill="#222" text-anchor="end">SCL</text>
<line x1="181.05" y1="524.3" x2="181.05" y2="526.1" stroke="#222" stroke-width="0.6"/>
<text transform="translate(182.25,529.7) rotate(-35)" font-size="4.3" font-weight="bold" fill="#222" text-anchor="end">Lyl1</text>
<line x1="191.20" y1="524.3" x2="191.20" y2="526.1" stroke="#222" stroke-width="0.6"/>
<text transform="translate(192.40,529.7) rotate(-35)" font-size="4.3" font-weight="bold" fill="#222" text-anchor="end">Lmo2</text>
<line x1="201.60" y1="524.3" x2="201.60" y2="526.1" stroke="#222" stroke-width="0.6"/>
<text transform="translate(202.80,529.7) rotate(-35)" font-size="4.3" font-weight="bold" fill="#222" text-anchor="end">Erg</text>
<line x1="212.10" y1="524.3" x2="212.10" y2="526.1" stroke="#222" stroke-width="0.6"/>
<text transform="translate(213.30,529.7) rotate(-35)" font-size="4.3" font-weight="bold" fill="#222" text-anchor="end">Fli1</text>
<line x1="222.50" y1="524.3" x2="222.50" y2="526.1" stroke="#222" stroke-width="0.6"/>
<text transform="translate(223.70,529.7) rotate(-35)" font-size="4.3" font-weight="bold" fill="#222" text-anchor="end">ETV2</text>
<line x1="233.00" y1="524.3" x2="233.00" y2="526.1" stroke="#222" stroke-width="0.6"/>
<text transform="translate(234.20,529.7) rotate(-35)" font-size="4.3" font-weight="bold" fill="#222" text-anchor="end">Gata2</text>
<line x1="243.75" y1="524.3" x2="243.75" y2="526.1" stroke="#222" stroke-width="0.6"/>
<text transform="translate(244.95,529.7) rotate(-35)" font-size="4.3" font-weight="bold" fill="#222" text-anchor="end">Gata3</text>
<line x1="253.70" y1="524.3" x2="253.70" y2="526.1" stroke="#222" stroke-width="0.6"/>
<text transform="translate(254.90,529.7) rotate(-35)" font-size="4.3" font-weight="bold" fill="#222" text-anchor="end">Hhex</text>
<text x="333.85" y="447.3" font-size="7" font-weight="bold" fill="#1a1a1a" text-anchor="middle" textLength="26.1" lengthAdjust="spacingAndGlyphs">XALL 27</text>
<line x1="287.7" y1="454.8" x2="287.7" y2="472.3" stroke="#222" stroke-width="0.9"/>
<line x1="287.7" y1="476.1" x2="287.7" y2="525.9" stroke="#222" stroke-width="0.9"/>
<line x1="287.7" y1="525.4" x2="391" y2="525.4" stroke="#222" stroke-width="0.9"/>
<line x1="285.9" y1="455.3" x2="287.7" y2="455.3" stroke="#222" stroke-width="0.7"/>
<text x="285.5" y="456.9" font-size="4.5" font-weight="bold" fill="#222" text-anchor="end">140</text>
<line x1="285.9" y1="463.4" x2="287.7" y2="463.4" stroke="#222" stroke-width="0.7"/>
<text x="285.5" y="465.0" font-size="4.5" font-weight="bold" fill="#222" text-anchor="end">80</text>
<line x1="285.9" y1="471.3" x2="287.7" y2="471.3" stroke="#222" stroke-width="0.7"/>
<text x="285.5" y="472.9" font-size="4.5" font-weight="bold" fill="#222" text-anchor="end">20</text>
<line x1="285.9" y1="525.4" x2="287.7" y2="525.4" stroke="#222" stroke-width="0.7"/>
<text x="285.5" y="527.0" font-size="4.5" font-weight="bold" fill="#222" text-anchor="end">0</text>
<line x1="285.9" y1="513.2" x2="287.7" y2="513.2" stroke="#222" stroke-width="0.7"/>
<text x="285.5" y="514.8" font-size="4.5" font-weight="bold" fill="#222" text-anchor="end">5</text>
<line x1="285.9" y1="501.0" x2="287.7" y2="501.0" stroke="#222" stroke-width="0.7"/>
<text x="285.5" y="502.6" font-size="4.5" font-weight="bold" fill="#222" text-anchor="end">10</text>
<line x1="285.9" y1="488.8" x2="287.7" y2="488.8" stroke="#222" stroke-width="0.7"/>
<text x="285.5" y="490.4" font-size="4.5" font-weight="bold" fill="#222" text-anchor="end">15</text>
<line x1="285.9" y1="476.6" x2="287.7" y2="476.6" stroke="#222" stroke-width="0.7"/>
<text x="285.5" y="478.2" font-size="4.5" font-weight="bold" fill="#222" text-anchor="end">20</text>
<text transform="translate(270.9,490.4) rotate(-90)" font-size="4.3" font-weight="bold" fill="#222" text-anchor="middle" textLength="73" lengthAdjust="spacingAndGlyphs">Enrichment of +85 relative to IgG</text>
<rect x="289.5" y="476.6" width="9.20" height="48.8" fill="#232323"/>
<line x1="294.10" y1="457.5" x2="294.10" y2="460" stroke="#222" stroke-width="1"/>
<line x1="292.10" y1="457.5" x2="296.10" y2="457.5" stroke="#222" stroke-width="1"/>
<rect x="289.5" y="460" width="9.20" height="12.3" fill="#232323"/>
<rect x="302" y="513.70" width="9.20" height="11.70" fill="#232323"/>
<line x1="306.60" y1="512" x2="306.60" y2="513.7" stroke="#222" stroke-width="1"/>
<line x1="304.60" y1="512" x2="308.60" y2="512" stroke="#222" stroke-width="1"/>
<rect x="315" y="518.00" width="9.40" height="7.40" fill="#232323"/>
<line x1="319.70" y1="514.5" x2="319.70" y2="518" stroke="#222" stroke-width="1"/>
<line x1="317.70" y1="514.5" x2="321.70" y2="514.5" stroke="#222" stroke-width="1"/>
<rect x="328.2" y="503.70" width="9.30" height="21.70" fill="#232323"/>
<line x1="332.85" y1="498.7" x2="332.85" y2="503.7" stroke="#222" stroke-width="1"/>
<line x1="330.85" y1="498.7" x2="334.85" y2="498.7" stroke="#222" stroke-width="1"/>
<rect x="341.2" y="508.00" width="9.30" height="17.40" fill="#232323"/>
<line x1="345.85" y1="501.2" x2="345.85" y2="508" stroke="#222" stroke-width="1"/>
<line x1="343.85" y1="501.2" x2="347.85" y2="501.2" stroke="#222" stroke-width="1"/>
<rect x="354.5" y="519.50" width="9.20" height="5.90" fill="#232323"/>
<line x1="359.10" y1="518" x2="359.10" y2="519.5" stroke="#222" stroke-width="1"/>
<line x1="357.10" y1="518" x2="361.10" y2="518" stroke="#222" stroke-width="1"/>
<rect x="367.5" y="518.70" width="9.50" height="6.70" fill="#232323"/>
<line x1="372.25" y1="517.5" x2="372.25" y2="518.7" stroke="#222" stroke-width="1"/>
<line x1="370.25" y1="517.5" x2="374.25" y2="517.5" stroke="#222" stroke-width="1"/>
<rect x="380.5" y="501.20" width="9.50" height="24.20" fill="#232323"/>
<line x1="385.25" y1="493" x2="385.25" y2="501.2" stroke="#222" stroke-width="1"/>
<line x1="383.25" y1="493" x2="387.25" y2="493" stroke="#222" stroke-width="1"/>
<line x1="294.10" y1="525.4" x2="294.10" y2="527.2" stroke="#222" stroke-width="0.6"/>
<text transform="translate(295.30,530.8) rotate(-35)" font-size="4.3" font-weight="bold" fill="#222" text-anchor="end">Aml1</text>
<line x1="306.60" y1="525.4" x2="306.60" y2="527.2" stroke="#222" stroke-width="0.6"/>
<text transform="translate(307.80,530.8) rotate(-35)" font-size="4.3" font-weight="bold" fill="#222" text-anchor="end">SCL</text>
<line x1="319.70" y1="525.4" x2="319.70" y2="527.2" stroke="#222" stroke-width="0.6"/>
<text transform="translate(320.90,530.8) rotate(-35)" font-size="4.3" font-weight="bold" fill="#222" text-anchor="end">Lyl1</text>
<line x1="332.85" y1="525.4" x2="332.85" y2="527.2" stroke="#222" stroke-width="0.6"/>
<text transform="translate(334.05,530.8) rotate(-35)" font-size="4.3" font-weight="bold" fill="#222" text-anchor="end">Lmo2</text>
<line x1="345.85" y1="525.4" x2="345.85" y2="527.2" stroke="#222" stroke-width="0.6"/>
<text transform="translate(347.05,530.8) rotate(-35)" font-size="4.3" font-weight="bold" fill="#222" text-anchor="end">Erg</text>
<line x1="359.10" y1="525.4" x2="359.10" y2="527.2" stroke="#222" stroke-width="0.6"/>
<text transform="translate(360.30,530.8) rotate(-35)" font-size="4.3" font-weight="bold" fill="#222" text-anchor="end">Fli1</text>
<line x1="372.25" y1="525.4" x2="372.25" y2="527.2" stroke="#222" stroke-width="0.6"/>
<text transform="translate(373.45,530.8) rotate(-35)" font-size="4.3" font-weight="bold" fill="#222" text-anchor="end">Gata2</text>
<line x1="385.25" y1="525.4" x2="385.25" y2="527.2" stroke="#222" stroke-width="0.6"/>
<text transform="translate(386.45,530.8) rotate(-35)" font-size="4.3" font-weight="bold" fill="#222" text-anchor="end">Gata3</text>
<text x="463.1" y="446.5" font-size="7" font-weight="bold" fill="#1a1a1a" text-anchor="middle" textLength="26.2" lengthAdjust="spacingAndGlyphs">XALL 30</text>
<line x1="414.7" y1="454.1" x2="414.7" y2="471.4" stroke="#222" stroke-width="0.9"/>
<line x1="414.7" y1="474.9" x2="414.7" y2="524.7" stroke="#222" stroke-width="0.9"/>
<line x1="414.7" y1="524.2" x2="518.5" y2="524.2" stroke="#222" stroke-width="0.9"/>
<line x1="412.9" y1="454.6" x2="414.7" y2="454.6" stroke="#222" stroke-width="0.7"/>
<text x="412.5" y="456.2" font-size="4.5" font-weight="bold" fill="#222" text-anchor="end">80</text>
<line x1="412.9" y1="462.5" x2="414.7" y2="462.5" stroke="#222" stroke-width="0.7"/>
<text x="412.5" y="464.1" font-size="4.5" font-weight="bold" fill="#222" text-anchor="end">50</text>
<line x1="412.9" y1="470.4" x2="414.7" y2="470.4" stroke="#222" stroke-width="0.7"/>
<text x="412.5" y="472.0" font-size="4.5" font-weight="bold" fill="#222" text-anchor="end">20</text>
<line x1="412.9" y1="524.2" x2="414.7" y2="524.2" stroke="#222" stroke-width="0.7"/>
<text x="412.5" y="525.8" font-size="4.5" font-weight="bold" fill="#222" text-anchor="end">0</text>
<line x1="412.9" y1="512.0" x2="414.7" y2="512.0" stroke="#222" stroke-width="0.7"/>
<text x="412.5" y="513.6" font-size="4.5" font-weight="bold" fill="#222" text-anchor="end">5</text>
<line x1="412.9" y1="499.8" x2="414.7" y2="499.8" stroke="#222" stroke-width="0.7"/>
<text x="412.5" y="501.4" font-size="4.5" font-weight="bold" fill="#222" text-anchor="end">10</text>
<line x1="412.9" y1="487.6" x2="414.7" y2="487.6" stroke="#222" stroke-width="0.7"/>
<text x="412.5" y="489.2" font-size="4.5" font-weight="bold" fill="#222" text-anchor="end">15</text>
<line x1="412.9" y1="475.4" x2="414.7" y2="475.4" stroke="#222" stroke-width="0.7"/>
<text x="412.5" y="477.0" font-size="4.5" font-weight="bold" fill="#222" text-anchor="end">20</text>
<text transform="translate(401.1,489.4) rotate(-90)" font-size="4.3" font-weight="bold" fill="#222" text-anchor="middle" textLength="73" lengthAdjust="spacingAndGlyphs">Enrichment of +85 relative to IgG</text>
<rect x="416.3" y="475.4" width="9.90" height="48.8" fill="#232323"/>
<line x1="421.25" y1="456.2" x2="421.25" y2="460.7" stroke="#222" stroke-width="1"/>
<line x1="419.25" y1="456.2" x2="423.25" y2="456.2" stroke="#222" stroke-width="1"/>
<rect x="416.3" y="460.7" width="9.90" height="10.7" fill="#232323"/>
<rect x="429.5" y="517.50" width="9.20" height="6.70" fill="#232323"/>
<line x1="434.10" y1="514.5" x2="434.10" y2="517.5" stroke="#222" stroke-width="1"/>
<line x1="432.10" y1="514.5" x2="436.10" y2="514.5" stroke="#222" stroke-width="1"/>
<rect x="443" y="517.50" width="9.00" height="6.70" fill="#232323"/>
<line x1="447.50" y1="514.5" x2="447.50" y2="517.5" stroke="#222" stroke-width="1"/>
<line x1="445.50" y1="514.5" x2="449.50" y2="514.5" stroke="#222" stroke-width="1"/>
<rect x="455.7" y="516.20" width="9.30" height="8.00" fill="#232323"/>
<line x1="460.35" y1="512.5" x2="460.35" y2="516.2" stroke="#222" stroke-width="1"/>
<line x1="458.35" y1="512.5" x2="462.35" y2="512.5" stroke="#222" stroke-width="1"/>
<rect x="469.2" y="510.00" width="9.00" height="14.20" fill="#232323"/>
<line x1="473.70" y1="504.5" x2="473.70" y2="510" stroke="#222" stroke-width="1"/>
<line x1="471.70" y1="504.5" x2="475.70" y2="504.5" stroke="#222" stroke-width="1"/>
<rect x="482" y="518.00" width="9.20" height="6.20" fill="#232323"/>
<line x1="486.60" y1="517" x2="486.60" y2="518" stroke="#222" stroke-width="1"/>
<line x1="484.60" y1="517" x2="488.60" y2="517" stroke="#222" stroke-width="1"/>
<rect x="495" y="521.70" width="9.50" height="2.50" fill="#232323"/>
<rect x="508" y="515.50" width="9.50" height="8.70" fill="#232323"/>
<line x1="512.75" y1="511.2" x2="512.75" y2="515.5" stroke="#222" stroke-width="1"/>
<line x1="510.75" y1="511.2" x2="514.75" y2="511.2" stroke="#222" stroke-width="1"/>
<line x1="421.25" y1="524.2" x2="421.25" y2="526.0" stroke="#222" stroke-width="0.6"/>
<text transform="translate(422.45,529.6) rotate(-35)" font-size="4.3" font-weight="bold" fill="#222" text-anchor="end">Aml1</text>
<line x1="434.10" y1="524.2" x2="434.10" y2="526.0" stroke="#222" stroke-width="0.6"/>
<text transform="translate(435.30,529.6) rotate(-35)" font-size="4.3" font-weight="bold" fill="#222" text-anchor="end">SCL</text>
<line x1="447.50" y1="524.2" x2="447.50" y2="526.0" stroke="#222" stroke-width="0.6"/>
<text transform="translate(448.70,529.6) rotate(-35)" font-size="4.3" font-weight="bold" fill="#222" text-anchor="end">Lyl1</text>
<line x1="460.35" y1="524.2" x2="460.35" y2="526.0" stroke="#222" stroke-width="0.6"/>
<text transform="translate(461.55,529.6) rotate(-35)" font-size="4.3" font-weight="bold" fill="#222" text-anchor="end">Lmo2</text>
<line x1="473.70" y1="524.2" x2="473.70" y2="526.0" stroke="#222" stroke-width="0.6"/>
<text transform="translate(474.90,529.6) rotate(-35)" font-size="4.3" font-weight="bold" fill="#222" text-anchor="end">Erg</text>
<line x1="486.60" y1="524.2" x2="486.60" y2="526.0" stroke="#222" stroke-width="0.6"/>
<text transform="translate(487.80,529.6) rotate(-35)" font-size="4.3" font-weight="bold" fill="#222" text-anchor="end">Fli1</text>
<line x1="499.75" y1="524.2" x2="499.75" y2="526.0" stroke="#222" stroke-width="0.6"/>
<text transform="translate(500.95,529.6) rotate(-35)" font-size="4.3" font-weight="bold" fill="#222" text-anchor="end">Gata2</text>
<line x1="512.75" y1="524.2" x2="512.75" y2="526.0" stroke="#222" stroke-width="0.6"/>
<text transform="translate(513.95,529.6) rotate(-35)" font-size="4.3" font-weight="bold" fill="#222" text-anchor="end">Gata3</text>
</svg>
</body></html>
